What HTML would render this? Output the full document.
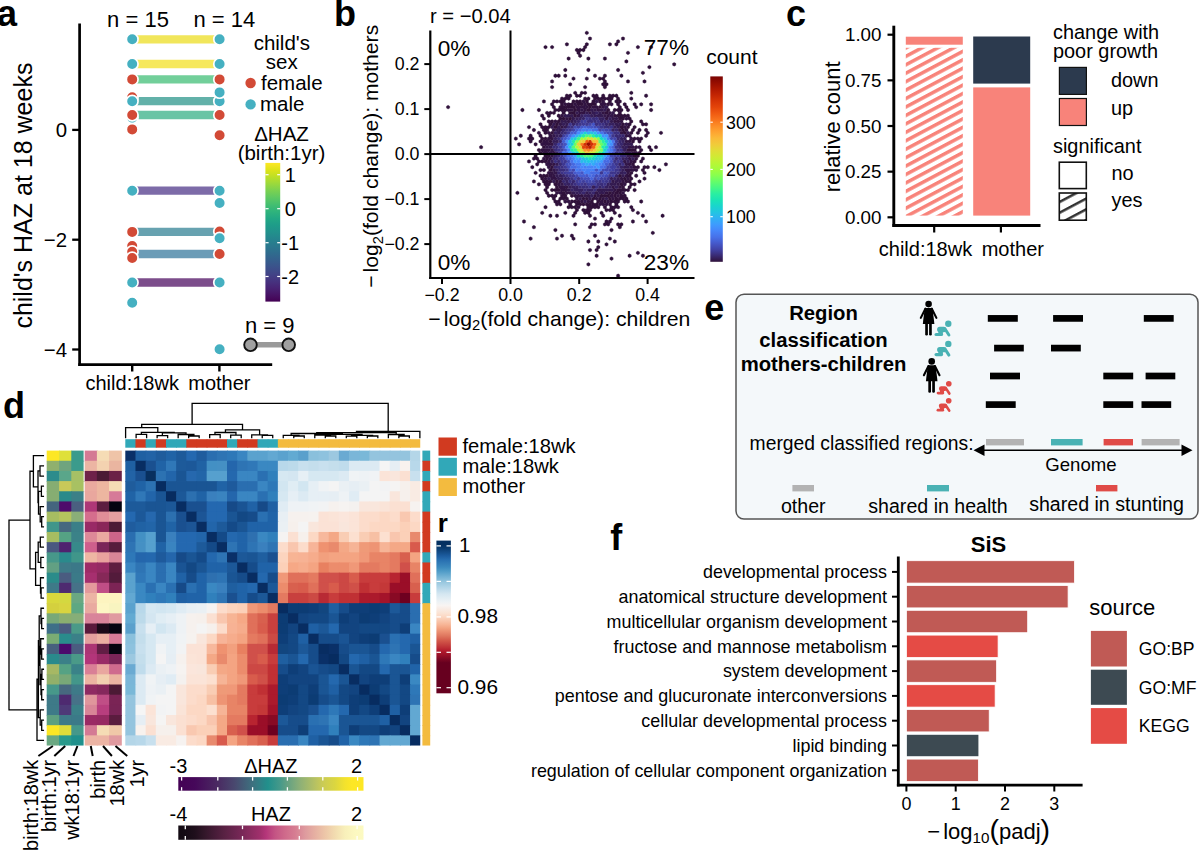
<!DOCTYPE html>
<html><head><meta charset="utf-8"><style>
html,body{margin:0;padding:0;background:#fff;overflow:hidden;}
svg{display:block;}
text{font-family:"Liberation Sans",sans-serif;}
</style></head><body>
<svg width="1200" height="853" viewBox="0 0 1200 853">
<text x="-3.0" y="26.0" font-size="36" font-weight="bold">a</text>
<text x="107.1" y="27.0" font-size="22">n = 15</text>
<text x="193.5" y="27.0" font-size="22">n = 14</text>
<line x1="79.60" y1="23.50" x2="79.60" y2="365.90" stroke="#000" stroke-width="2.7"/>
<line x1="78.30" y1="364.60" x2="272.20" y2="364.60" stroke="#000" stroke-width="2.7"/>
<line x1="72.20" y1="129.90" x2="79.60" y2="129.90" stroke="#000" stroke-width="2.3"/>
<text x="67.0" y="137.1" font-size="20.4" text-anchor="end">0</text>
<line x1="72.20" y1="239.70" x2="79.60" y2="239.70" stroke="#000" stroke-width="2.3"/>
<text x="67.0" y="246.9" font-size="20.4" text-anchor="end">−2</text>
<line x1="72.20" y1="349.50" x2="79.60" y2="349.50" stroke="#000" stroke-width="2.3"/>
<text x="67.0" y="356.7" font-size="20.4" text-anchor="end">−4</text>
<line x1="132.20" y1="364.60" x2="132.20" y2="371.50" stroke="#000" stroke-width="2.4"/>
<line x1="219.40" y1="364.60" x2="219.40" y2="371.50" stroke="#000" stroke-width="2.4"/>
<text x="132.2" y="389.7" font-size="20" text-anchor="middle">child:18wk</text>
<text x="219.4" y="389.7" font-size="20" text-anchor="middle">mother</text>
<text x="32.0" y="195.6" font-size="25" text-anchor="middle" transform="rotate(-90 32.0 195.6)">child's HAZ at 18 weeks</text>
<line x1="132.20" y1="39.30" x2="219.60" y2="39.30" stroke="#f1e65b" stroke-width="8.3"/>
<line x1="132.20" y1="64.00" x2="219.60" y2="64.00" stroke="#f6e85c" stroke-width="8.3"/>
<line x1="132.20" y1="79.40" x2="219.60" y2="79.40" stroke="#72cf9a" stroke-width="8.3"/>
<line x1="132.20" y1="101.20" x2="219.60" y2="101.20" stroke="#62b1a9" stroke-width="8.3"/>
<line x1="132.20" y1="115.00" x2="219.60" y2="115.00" stroke="#69c4a5" stroke-width="8.3"/>
<line x1="132.20" y1="190.70" x2="219.60" y2="190.70" stroke="#7d6ba8" stroke-width="8.3"/>
<line x1="132.20" y1="231.90" x2="219.60" y2="231.90" stroke="#67a2b0" stroke-width="8.3"/>
<line x1="132.20" y1="254.00" x2="219.60" y2="254.00" stroke="#6b9cb7" stroke-width="8.3"/>
<line x1="132.20" y1="282.50" x2="219.60" y2="282.50" stroke="#7c4d8b" stroke-width="8.3"/>
<circle cx="132.20" cy="97.30" r="5.85" fill="#d24a36" stroke="#fff" stroke-width="1.7"/>
<circle cx="132.20" cy="117.80" r="5.85" fill="#45b0c1" stroke="#fff" stroke-width="1.7"/>
<circle cx="132.20" cy="246.00" r="5.85" fill="#d24a36" stroke="#fff" stroke-width="1.7"/>
<circle cx="132.20" cy="251.80" r="5.85" fill="#d24a36" stroke="#fff" stroke-width="1.7"/>
<circle cx="132.20" cy="39.30" r="5.85" fill="#45b0c1" stroke="#fff" stroke-width="1.7"/>
<circle cx="132.20" cy="64.00" r="5.85" fill="#45b0c1" stroke="#fff" stroke-width="1.7"/>
<circle cx="132.20" cy="79.40" r="5.85" fill="#d24a36" stroke="#fff" stroke-width="1.7"/>
<circle cx="132.20" cy="101.20" r="5.85" fill="#45b0c1" stroke="#fff" stroke-width="1.7"/>
<circle cx="132.20" cy="115.00" r="5.85" fill="#d24a36" stroke="#fff" stroke-width="1.7"/>
<circle cx="132.20" cy="129.40" r="5.85" fill="#d24a36" stroke="#fff" stroke-width="1.7"/>
<circle cx="132.20" cy="190.70" r="5.85" fill="#45b0c1" stroke="#fff" stroke-width="1.7"/>
<circle cx="132.20" cy="231.90" r="5.85" fill="#d24a36" stroke="#fff" stroke-width="1.7"/>
<circle cx="132.20" cy="258.00" r="5.85" fill="#d24a36" stroke="#fff" stroke-width="1.7"/>
<circle cx="132.20" cy="282.50" r="5.85" fill="#45b0c1" stroke="#fff" stroke-width="1.7"/>
<circle cx="132.20" cy="302.80" r="5.85" fill="#45b0c1" stroke="#fff" stroke-width="1.7"/>
<circle cx="219.60" cy="101.20" r="5.85" fill="#45b0c1" stroke="#fff" stroke-width="1.7"/>
<circle cx="219.60" cy="231.50" r="5.85" fill="#d24a36" stroke="#fff" stroke-width="1.7"/>
<circle cx="219.60" cy="39.30" r="5.85" fill="#45b0c1" stroke="#fff" stroke-width="1.7"/>
<circle cx="219.60" cy="64.00" r="5.85" fill="#45b0c1" stroke="#fff" stroke-width="1.7"/>
<circle cx="219.60" cy="79.40" r="5.85" fill="#d24a36" stroke="#fff" stroke-width="1.7"/>
<circle cx="219.60" cy="92.40" r="5.85" fill="#45b0c1" stroke="#fff" stroke-width="1.7"/>
<circle cx="219.60" cy="115.00" r="5.85" fill="#d24a36" stroke="#fff" stroke-width="1.7"/>
<circle cx="219.60" cy="135.20" r="5.85" fill="#d24a36" stroke="#fff" stroke-width="1.7"/>
<circle cx="219.60" cy="190.70" r="5.85" fill="#45b0c1" stroke="#fff" stroke-width="1.7"/>
<circle cx="219.60" cy="203.00" r="5.85" fill="#45b0c1" stroke="#fff" stroke-width="1.7"/>
<circle cx="219.60" cy="238.20" r="5.85" fill="#45b0c1" stroke="#fff" stroke-width="1.7"/>
<circle cx="219.60" cy="254.00" r="5.85" fill="#d24a36" stroke="#fff" stroke-width="1.7"/>
<circle cx="219.60" cy="282.50" r="5.85" fill="#45b0c1" stroke="#fff" stroke-width="1.7"/>
<circle cx="219.60" cy="349.30" r="5.85" fill="#45b0c1" stroke="#fff" stroke-width="1.7"/>
<text x="281.8" y="49.5" font-size="20.5" text-anchor="middle">child's</text>
<text x="281.8" y="68.5" font-size="20.5" text-anchor="middle">sex</text>
<circle cx="250.60" cy="83.00" r="5.2" fill="#d24a36"/>
<text x="261.0" y="90.2" font-size="20.5">female</text>
<circle cx="250.60" cy="104.40" r="5.2" fill="#45b0c1"/>
<text x="260.0" y="111.3" font-size="20.5">male</text>
<text x="281.5" y="141.1" font-size="20.5" text-anchor="middle">ΔHAZ</text>
<text x="281.5" y="160.1" font-size="20.5" text-anchor="middle">(birth:1yr)</text>
<defs><linearGradient id="gvir" x1="0" y1="1" x2="0" y2="0"><stop offset="0.00" stop-color="#440154"/><stop offset="0.05" stop-color="#471365"/><stop offset="0.10" stop-color="#482475"/><stop offset="0.15" stop-color="#463480"/><stop offset="0.20" stop-color="#414487"/><stop offset="0.25" stop-color="#3b528b"/><stop offset="0.30" stop-color="#355f8d"/><stop offset="0.35" stop-color="#2f6c8e"/><stop offset="0.40" stop-color="#2a788e"/><stop offset="0.45" stop-color="#25848e"/><stop offset="0.50" stop-color="#21918c"/><stop offset="0.55" stop-color="#1e9c89"/><stop offset="0.60" stop-color="#22a884"/><stop offset="0.65" stop-color="#2fb47c"/><stop offset="0.70" stop-color="#44bf70"/><stop offset="0.75" stop-color="#5ec962"/><stop offset="0.80" stop-color="#7ad151"/><stop offset="0.85" stop-color="#9bd93c"/><stop offset="0.90" stop-color="#bddf26"/><stop offset="0.95" stop-color="#dfe318"/><stop offset="1.00" stop-color="#fde725"/></linearGradient></defs>
<rect x="265.40" y="162.90" width="14.80" height="138.70" fill="url(#gvir)"/>
<line x1="265.40" y1="174.70" x2="268.60" y2="174.70" stroke="#fff" stroke-width="1.2"/>
<line x1="277.20" y1="174.70" x2="280.20" y2="174.70" stroke="#fff" stroke-width="1.2"/>
<text x="290.2" y="181.9" font-size="20" text-anchor="middle">1</text>
<line x1="265.40" y1="208.70" x2="268.60" y2="208.70" stroke="#fff" stroke-width="1.2"/>
<line x1="277.20" y1="208.70" x2="280.20" y2="208.70" stroke="#fff" stroke-width="1.2"/>
<text x="290.2" y="215.9" font-size="20" text-anchor="middle">0</text>
<line x1="265.40" y1="242.70" x2="268.60" y2="242.70" stroke="#fff" stroke-width="1.2"/>
<line x1="277.20" y1="242.70" x2="280.20" y2="242.70" stroke="#fff" stroke-width="1.2"/>
<text x="290.2" y="249.9" font-size="20" text-anchor="middle">-1</text>
<line x1="265.40" y1="276.50" x2="268.60" y2="276.50" stroke="#fff" stroke-width="1.2"/>
<line x1="277.20" y1="276.50" x2="280.20" y2="276.50" stroke="#fff" stroke-width="1.2"/>
<text x="290.2" y="283.7" font-size="20" text-anchor="middle">-2</text>
<text x="269.8" y="332.5" font-size="22" text-anchor="middle">n = 9</text>
<line x1="250.50" y1="344.80" x2="288.70" y2="344.80" stroke="#9a9a9a" stroke-width="5.6"/>
<circle cx="250.50" cy="344.80" r="6.3" fill="#a0a0a0" stroke="#111" stroke-width="1.9"/>
<circle cx="288.70" cy="344.80" r="6.3" fill="#a0a0a0" stroke="#111" stroke-width="1.9"/>
<text x="334.0" y="25.9" font-size="36" font-weight="bold">b</text>
<text x="430.0" y="22.7" font-size="20.2">r = −0.04</text>
<path d="M590.0 168.13l1.65 0.95v1.91l-1.65 0.95l-1.65-0.95v-1.91zM588.4 170.99l1.65 0.95v1.91l-1.65 0.95l-1.65-0.95v-1.91zM586.8 168.13l1.65 0.95v1.91l-1.65 0.95l-1.65-0.95v-1.91zM608.2 136.69l1.65 0.95v1.91l-1.65 0.95l-1.65-0.95v-1.91zM590.0 128.12l1.65 0.95v1.91l-1.65 0.95l-1.65-0.95v-1.91zM571.9 153.84l1.65 0.95v1.91l-1.65 0.95l-1.65-0.95v-1.91zM593.4 168.13l1.65 0.95v1.91l-1.65 0.95l-1.65-0.95v-1.91zM585.1 170.99l1.65 0.95v1.91l-1.65 0.95l-1.65-0.95v-1.91z" fill="#4680f6" stroke="#4680f6" stroke-width="0.3"/>
<path d="M595.0 136.69l1.65 0.95v1.91l-1.65 0.95l-1.65-0.95v-1.91z" fill="#b9f635" stroke="#b9f635" stroke-width="0.3"/>
<path d="M585.1 130.98l1.65 0.95v1.91l-1.65 0.95l-1.65-0.95v-1.91zM586.8 156.70l1.65 0.95v1.91l-1.65 0.95l-1.65-0.95v-1.91z" fill="#1ccdd8" stroke="#1ccdd8" stroke-width="0.3"/>
<path d="M575.2 142.41l1.65 0.95v1.91l-1.65 0.95l-1.65-0.95v-1.91zM601.6 142.41l1.65 0.95v1.91l-1.65 0.95l-1.65-0.95v-1.91z" fill="#69fd66" stroke="#69fd66" stroke-width="0.3"/>
<path d="M583.4 150.98l1.65 0.95v1.91l-1.65 0.95l-1.65-0.95v-1.91zM581.8 136.69l1.65 0.95v1.91l-1.65 0.95l-1.65-0.95v-1.91z" fill="#9ffd3f" stroke="#9ffd3f" stroke-width="0.3"/>
<path d="M573.5 122.40l1.65 0.95v1.91l-1.65 0.95l-1.65-0.95v-1.91zM616.4 173.85l1.65 0.95v1.91l-1.65 0.95l-1.65-0.95v-1.91zM591.7 188.14l1.65 0.95v1.91l-1.65 0.95l-1.65-0.95v-1.91zM619.8 162.42l1.65 0.95v1.91l-1.65 0.95l-1.65-0.95v-1.91zM571.9 188.14l1.65 0.95v1.91l-1.65 0.95l-1.65-0.95v-1.91zM588.4 188.14l1.65 0.95v1.91l-1.65 0.95l-1.65-0.95v-1.91zM565.3 182.42l1.65 0.95v1.91l-1.65 0.95l-1.65-0.95v-1.91zM583.4 116.69l1.65 0.95v1.91l-1.65 0.95l-1.65-0.95v-1.91zM557.0 150.98l1.65 0.95v1.91l-1.65 0.95l-1.65-0.95v-1.91zM599.9 185.28l1.65 0.95v1.91l-1.65 0.95l-1.65-0.95v-1.91z" fill="#372466" stroke="#372466" stroke-width="0.3"/>
<path d="M590.0 162.42l1.65 0.95v1.91l-1.65 0.95l-1.65-0.95v-1.91zM575.2 153.84l1.65 0.95v1.91l-1.65 0.95l-1.65-0.95v-1.91zM601.6 159.56l1.65 0.95v1.91l-1.65 0.95l-1.65-0.95v-1.91zM580.1 156.70l1.65 0.95v1.91l-1.65 0.95l-1.65-0.95v-1.91zM608.2 148.13l1.65 0.95v1.91l-1.65 0.95l-1.65-0.95v-1.91z" fill="#3e9bfe" stroke="#3e9bfe" stroke-width="0.3"/>
<path d="M611.5 165.27l1.65 0.95v1.91l-1.65 0.95l-1.65-0.95v-1.91zM601.6 176.70l1.65 0.95v1.91l-1.65 0.95l-1.65-0.95v-1.91zM614.8 165.27l1.65 0.95v1.91l-1.65 0.95l-1.65-0.95v-1.91zM613.1 162.42l1.65 0.95v1.91l-1.65 0.95l-1.65-0.95v-1.91zM571.9 170.99l1.65 0.95v1.91l-1.65 0.95l-1.65-0.95v-1.91zM585.1 119.55l1.65 0.95v1.91l-1.65 0.95l-1.65-0.95v-1.91zM609.9 128.12l1.65 0.95v1.91l-1.65 0.95l-1.65-0.95v-1.91zM568.6 170.99l1.65 0.95v1.91l-1.65 0.95l-1.65-0.95v-1.91zM614.8 153.84l1.65 0.95v1.91l-1.65 0.95l-1.65-0.95v-1.91zM613.1 168.13l1.65 0.95v1.91l-1.65 0.95l-1.65-0.95v-1.91zM578.5 125.26l1.65 0.95v1.91l-1.65 0.95l-1.65-0.95v-1.91z" fill="#4040a2" stroke="#4040a2" stroke-width="0.3"/>
<path d="M581.8 142.41l1.65 0.95v1.91l-1.65 0.95l-1.65-0.95v-1.91z" fill="#fa7b1f" stroke="#fa7b1f" stroke-width="0.3"/>
<path d="M578.5 165.27l1.65 0.95v1.91l-1.65 0.95l-1.65-0.95v-1.91z" fill="#4778f0" stroke="#4778f0" stroke-width="0.3"/>
<path d="M598.3 125.26l1.65 0.95v1.91l-1.65 0.95l-1.65-0.95v-1.91zM580.1 179.56l1.65 0.95v1.91l-1.65 0.95l-1.65-0.95v-1.91zM586.8 179.56l1.65 0.95v1.91l-1.65 0.95l-1.65-0.95v-1.91zM575.2 176.70l1.65 0.95v1.91l-1.65 0.95l-1.65-0.95v-1.91zM573.5 168.13l1.65 0.95v1.91l-1.65 0.95l-1.65-0.95v-1.91zM562.0 136.69l1.65 0.95v1.91l-1.65 0.95l-1.65-0.95v-1.91zM593.4 179.56l1.65 0.95v1.91l-1.65 0.95l-1.65-0.95v-1.91zM613.1 156.70l1.65 0.95v1.91l-1.65 0.95l-1.65-0.95v-1.91zM573.5 128.12l1.65 0.95v1.91l-1.65 0.95l-1.65-0.95v-1.91zM611.5 136.69l1.65 0.95v1.91l-1.65 0.95l-1.65-0.95v-1.91zM611.5 130.98l1.65 0.95v1.91l-1.65 0.95l-1.65-0.95v-1.91zM609.9 168.13l1.65 0.95v1.91l-1.65 0.95l-1.65-0.95v-1.91zM576.9 173.85l1.65 0.95v1.91l-1.65 0.95l-1.65-0.95v-1.91z" fill="#4146ac" stroke="#4146ac" stroke-width="0.3"/>
<path d="M595.0 142.41l1.65 0.95v1.91l-1.65 0.95l-1.65-0.95v-1.91z" fill="#ed5510" stroke="#ed5510" stroke-width="0.3"/>
<path d="M591.7 148.13l1.65 0.95v1.91l-1.65 0.95l-1.65-0.95v-1.91z" fill="#fea732" stroke="#fea732" stroke-width="0.3"/>
<path d="M599.9 145.27l1.65 0.95v1.91l-1.65 0.95l-1.65-0.95v-1.91zM580.1 150.98l1.65 0.95v1.91l-1.65 0.95l-1.65-0.95v-1.91z" fill="#99fe42" stroke="#99fe42" stroke-width="0.3"/>
<path d="M566.9 133.84l1.65 0.95v1.91l-1.65 0.95l-1.65-0.95v-1.91zM588.4 176.70l1.65 0.95v1.91l-1.65 0.95l-1.65-0.95v-1.91zM568.6 165.27l1.65 0.95v1.91l-1.65 0.95l-1.65-0.95v-1.91zM585.1 176.70l1.65 0.95v1.91l-1.65 0.95l-1.65-0.95v-1.91zM566.9 162.42l1.65 0.95v1.91l-1.65 0.95l-1.65-0.95v-1.91zM596.6 173.85l1.65 0.95v1.91l-1.65 0.95l-1.65-0.95v-1.91zM603.2 128.12l1.65 0.95v1.91l-1.65 0.95l-1.65-0.95v-1.91z" fill="#434eba" stroke="#434eba" stroke-width="0.3"/>
<path d="M583.4 156.70l1.65 0.95v1.91l-1.65 0.95l-1.65-0.95v-1.91zM585.1 159.56l1.65 0.95v1.91l-1.65 0.95l-1.65-0.95v-1.91zM571.9 136.69l1.65 0.95v1.91l-1.65 0.95l-1.65-0.95v-1.91z" fill="#25c0e7" stroke="#25c0e7" stroke-width="0.3"/>
<path d="M558.7 153.84l1.65 0.95v1.91l-1.65 0.95l-1.65-0.95v-1.91zM604.9 125.26l1.65 0.95v1.91l-1.65 0.95l-1.65-0.95v-1.91zM593.4 116.69l1.65 0.95v1.91l-1.65 0.95l-1.65-0.95v-1.91zM555.4 148.13l1.65 0.95v1.91l-1.65 0.95l-1.65-0.95v-1.91zM563.6 168.13l1.65 0.95v1.91l-1.65 0.95l-1.65-0.95v-1.91zM608.2 125.26l1.65 0.95v1.91l-1.65 0.95l-1.65-0.95v-1.91zM586.8 185.28l1.65 0.95v1.91l-1.65 0.95l-1.65-0.95v-1.91zM583.4 185.28l1.65 0.95v1.91l-1.65 0.95l-1.65-0.95v-1.91zM560.4 168.13l1.65 0.95v1.91l-1.65 0.95l-1.65-0.95v-1.91zM568.6 125.26l1.65 0.95v1.91l-1.65 0.95l-1.65-0.95v-1.91zM603.2 185.28l1.65 0.95v1.91l-1.65 0.95l-1.65-0.95v-1.91zM619.8 168.13l1.65 0.95v1.91l-1.65 0.95l-1.65-0.95v-1.91zM558.7 165.27l1.65 0.95v1.91l-1.65 0.95l-1.65-0.95v-1.91zM565.3 130.98l1.65 0.95v1.91l-1.65 0.95l-1.65-0.95v-1.91zM618.1 142.41l1.65 0.95v1.91l-1.65 0.95l-1.65-0.95v-1.91zM608.2 119.55l1.65 0.95v1.91l-1.65 0.95l-1.65-0.95v-1.91zM601.6 182.42l1.65 0.95v1.91l-1.65 0.95l-1.65-0.95v-1.91zM558.7 136.69l1.65 0.95v1.91l-1.65 0.95l-1.65-0.95v-1.91zM624.7 153.84l1.65 0.95v1.91l-1.65 0.95l-1.65-0.95v-1.91zM566.9 173.85l1.65 0.95v1.91l-1.65 0.95l-1.65-0.95v-1.91zM609.9 179.56l1.65 0.95v1.91l-1.65 0.95l-1.65-0.95v-1.91zM621.4 153.84l1.65 0.95v1.91l-1.65 0.95l-1.65-0.95v-1.91zM576.9 122.40l1.65 0.95v1.91l-1.65 0.95l-1.65-0.95v-1.91zM619.8 145.27l1.65 0.95v1.91l-1.65 0.95l-1.65-0.95v-1.91zM595.0 119.55l1.65 0.95v1.91l-1.65 0.95l-1.65-0.95v-1.91zM595.0 188.14l1.65 0.95v1.91l-1.65 0.95l-1.65-0.95v-1.91zM557.0 145.27l1.65 0.95v1.91l-1.65 0.95l-1.65-0.95v-1.91z" fill="#3a2d79" stroke="#3a2d79" stroke-width="0.3"/>
<path d="M568.6 159.56l1.65 0.95v1.91l-1.65 0.95l-1.65-0.95v-1.91zM595.0 125.26l1.65 0.95v1.91l-1.65 0.95l-1.65-0.95v-1.91zM614.8 142.41l1.65 0.95v1.91l-1.65 0.95l-1.65-0.95v-1.91zM603.2 168.13l1.65 0.95v1.91l-1.65 0.95l-1.65-0.95v-1.91zM609.9 162.42l1.65 0.95v1.91l-1.65 0.95l-1.65-0.95v-1.91zM606.5 173.85l1.65 0.95v1.91l-1.65 0.95l-1.65-0.95v-1.91z" fill="#424bb5" stroke="#424bb5" stroke-width="0.3"/>
<path d="M560.4 145.27l1.65 0.95v1.91l-1.65 0.95l-1.65-0.95v-1.91zM578.5 182.42l1.65 0.95v1.91l-1.65 0.95l-1.65-0.95v-1.91zM603.2 179.56l1.65 0.95v1.91l-1.65 0.95l-1.65-0.95v-1.91zM562.0 153.84l1.65 0.95v1.91l-1.65 0.95l-1.65-0.95v-1.91zM581.8 119.55l1.65 0.95v1.91l-1.65 0.95l-1.65-0.95v-1.91zM560.4 150.98l1.65 0.95v1.91l-1.65 0.95l-1.65-0.95v-1.91zM573.5 173.85l1.65 0.95v1.91l-1.65 0.95l-1.65-0.95v-1.91zM618.1 159.56l1.65 0.95v1.91l-1.65 0.95l-1.65-0.95v-1.91zM565.3 170.99l1.65 0.95v1.91l-1.65 0.95l-1.65-0.95v-1.91zM576.9 179.56l1.65 0.95v1.91l-1.65 0.95l-1.65-0.95v-1.91zM616.4 139.55l1.65 0.95v1.91l-1.65 0.95l-1.65-0.95v-1.91zM560.4 156.70l1.65 0.95v1.91l-1.65 0.95l-1.65-0.95v-1.91zM562.0 159.56l1.65 0.95v1.91l-1.65 0.95l-1.65-0.95v-1.91zM565.3 165.27l1.65 0.95v1.91l-1.65 0.95l-1.65-0.95v-1.91zM583.4 122.40l1.65 0.95v1.91l-1.65 0.95l-1.65-0.95v-1.91z" fill="#3f3b97" stroke="#3f3b97" stroke-width="0.3"/>
<path d="M585.1 153.84l1.65 0.95v1.91l-1.65 0.95l-1.65-0.95v-1.91zM586.8 133.84l1.65 0.95v1.91l-1.65 0.95l-1.65-0.95v-1.91z" fill="#4af880" stroke="#4af880" stroke-width="0.3"/>
<path d="M568.6 142.41l1.65 0.95v1.91l-1.65 0.95l-1.65-0.95v-1.91zM598.3 159.56l1.65 0.95v1.91l-1.65 0.95l-1.65-0.95v-1.91zM576.9 156.70l1.65 0.95v1.91l-1.65 0.95l-1.65-0.95v-1.91z" fill="#37a8fa" stroke="#37a8fa" stroke-width="0.3"/>
<path d="M593.4 162.42l1.65 0.95v1.91l-1.65 0.95l-1.65-0.95v-1.91zM603.2 156.70l1.65 0.95v1.91l-1.65 0.95l-1.65-0.95v-1.91zM581.8 130.98l1.65 0.95v1.91l-1.65 0.95l-1.65-0.95v-1.91zM595.0 159.56l1.65 0.95v1.91l-1.65 0.95l-1.65-0.95v-1.91zM576.9 133.84l1.65 0.95v1.91l-1.65 0.95l-1.65-0.95v-1.91z" fill="#33adf7" stroke="#33adf7" stroke-width="0.3"/>
<path d="M593.4 139.55l1.65 0.95v1.91l-1.65 0.95l-1.65-0.95v-1.91z" fill="#fbb838" stroke="#fbb838" stroke-width="0.3"/>
<path d="M585.1 142.41l1.65 0.95v1.91l-1.65 0.95l-1.65-0.95v-1.91zM591.7 142.41l1.65 0.95v1.91l-1.65 0.95l-1.65-0.95v-1.91zM590.0 139.55l1.65 0.95v1.91l-1.65 0.95l-1.65-0.95v-1.91z" fill="#d23105" stroke="#d23105" stroke-width="0.3"/>
<path d="M548.8 170.99l1.65 0.95v1.91l-1.65 0.95l-1.65-0.95v-1.91zM581.8 199.57l1.65 0.95v1.91l-1.65 0.95l-1.65-0.95v-1.91zM626.4 168.13l1.65 0.95v1.91l-1.65 0.95l-1.65-0.95v-1.91zM590.0 110.97l1.65 0.95v1.91l-1.65 0.95l-1.65-0.95v-1.91zM548.8 136.69l1.65 0.95v1.91l-1.65 0.95l-1.65-0.95v-1.91zM576.9 105.26l1.65 0.95v1.91l-1.65 0.95l-1.65-0.95v-1.91zM629.6 162.42l1.65 0.95v1.91l-1.65 0.95l-1.65-0.95v-1.91zM583.4 105.26l1.65 0.95v1.91l-1.65 0.95l-1.65-0.95v-1.91zM548.8 165.27l1.65 0.95v1.91l-1.65 0.95l-1.65-0.95v-1.91zM552.1 176.70l1.65 0.95v1.91l-1.65 0.95l-1.65-0.95v-1.91zM543.9 156.70l1.65 0.95v1.91l-1.65 0.95l-1.65-0.95v-1.91zM609.9 110.97l1.65 0.95v1.91l-1.65 0.95l-1.65-0.95v-1.91zM626.4 173.85l1.65 0.95v1.91l-1.65 0.95l-1.65-0.95v-1.91zM562.0 113.83l1.65 0.95v1.91l-1.65 0.95l-1.65-0.95v-1.91zM568.6 108.12l1.65 0.95v1.91l-1.65 0.95l-1.65-0.95v-1.91zM629.6 133.84l1.65 0.95v1.91l-1.65 0.95l-1.65-0.95v-1.91zM626.4 139.55l1.65 0.95v1.91l-1.65 0.95l-1.65-0.95v-1.91zM606.5 190.99l1.65 0.95v1.91l-1.65 0.95l-1.65-0.95v-1.91zM553.8 173.85l1.65 0.95v1.91l-1.65 0.95l-1.65-0.95v-1.91zM583.4 110.97l1.65 0.95v1.91l-1.65 0.95l-1.65-0.95v-1.91zM578.5 205.28l1.65 0.95v1.91l-1.65 0.95l-1.65-0.95v-1.91zM636.2 168.13l1.65 0.95v1.91l-1.65 0.95l-1.65-0.95v-1.91zM614.8 188.14l1.65 0.95v1.91l-1.65 0.95l-1.65-0.95v-1.91zM636.2 150.98l1.65 0.95v1.91l-1.65 0.95l-1.65-0.95v-1.91zM611.5 102.40l1.65 0.95v1.91l-1.65 0.95l-1.65-0.95v-1.91zM603.2 105.26l1.65 0.95v1.91l-1.65 0.95l-1.65-0.95v-1.91zM632.9 168.13l1.65 0.95v1.91l-1.65 0.95l-1.65-0.95v-1.91zM623.0 190.99l1.65 0.95v1.91l-1.65 0.95l-1.65-0.95v-1.91zM586.8 105.26l1.65 0.95v1.91l-1.65 0.95l-1.65-0.95v-1.91zM626.4 133.84l1.65 0.95v1.91l-1.65 0.95l-1.65-0.95v-1.91zM576.9 196.71l1.65 0.95v1.91l-1.65 0.95l-1.65-0.95v-1.91zM588.4 199.57l1.65 0.95v1.91l-1.65 0.95l-1.65-0.95v-1.91zM632.9 150.98l1.65 0.95v1.91l-1.65 0.95l-1.65-0.95v-1.91zM550.4 173.85l1.65 0.95v1.91l-1.65 0.95l-1.65-0.95v-1.91zM565.3 199.57l1.65 0.95v1.91l-1.65 0.95l-1.65-0.95v-1.91zM543.9 139.55l1.65 0.95v1.91l-1.65 0.95l-1.65-0.95v-1.91zM585.1 102.40l1.65 0.95v1.91l-1.65 0.95l-1.65-0.95v-1.91zM581.8 193.85l1.65 0.95v1.91l-1.65 0.95l-1.65-0.95v-1.91zM606.5 202.43l1.65 0.95v1.91l-1.65 0.95l-1.65-0.95v-1.91zM613.1 185.28l1.65 0.95v1.91l-1.65 0.95l-1.65-0.95v-1.91zM628.0 170.99l1.65 0.95v1.91l-1.65 0.95l-1.65-0.95v-1.91zM548.8 148.13l1.65 0.95v1.91l-1.65 0.95l-1.65-0.95v-1.91zM614.8 119.55l1.65 0.95v1.91l-1.65 0.95l-1.65-0.95v-1.91zM555.4 119.55l1.65 0.95v1.91l-1.65 0.95l-1.65-0.95v-1.91zM626.4 116.69l1.65 0.95v1.91l-1.65 0.95l-1.65-0.95v-1.91zM542.2 148.13l1.65 0.95v1.91l-1.65 0.95l-1.65-0.95v-1.91zM603.2 202.43l1.65 0.95v1.91l-1.65 0.95l-1.65-0.95v-1.91zM562.0 188.14l1.65 0.95v1.91l-1.65 0.95l-1.65-0.95v-1.91zM621.4 176.70l1.65 0.95v1.91l-1.65 0.95l-1.65-0.95v-1.91zM621.4 130.98l1.65 0.95v1.91l-1.65 0.95l-1.65-0.95v-1.91zM558.7 182.42l1.65 0.95v1.91l-1.65 0.95l-1.65-0.95v-1.91zM578.5 193.85l1.65 0.95v1.91l-1.65 0.95l-1.65-0.95v-1.91zM575.2 102.40l1.65 0.95v1.91l-1.65 0.95l-1.65-0.95v-1.91zM568.6 199.57l1.65 0.95v1.91l-1.65 0.95l-1.65-0.95v-1.91zM543.9 150.98l1.65 0.95v1.91l-1.65 0.95l-1.65-0.95v-1.91zM631.3 136.69l1.65 0.95v1.91l-1.65 0.95l-1.65-0.95v-1.91zM565.3 188.14l1.65 0.95v1.91l-1.65 0.95l-1.65-0.95v-1.91zM629.6 156.70l1.65 0.95v1.91l-1.65 0.95l-1.65-0.95v-1.91zM628.0 176.70l1.65 0.95v1.91l-1.65 0.95l-1.65-0.95v-1.91zM580.1 110.97l1.65 0.95v1.91l-1.65 0.95l-1.65-0.95v-1.91zM596.6 196.71l1.65 0.95v1.91l-1.65 0.95l-1.65-0.95v-1.91zM547.1 139.55l1.65 0.95v1.91l-1.65 0.95l-1.65-0.95v-1.91zM604.9 102.40l1.65 0.95v1.91l-1.65 0.95l-1.65-0.95v-1.91zM626.4 128.12l1.65 0.95v1.91l-1.65 0.95l-1.65-0.95v-1.91zM624.7 125.26l1.65 0.95v1.91l-1.65 0.95l-1.65-0.95v-1.91zM552.1 170.99l1.65 0.95v1.91l-1.65 0.95l-1.65-0.95v-1.91zM585.1 108.12l1.65 0.95v1.91l-1.65 0.95l-1.65-0.95v-1.91zM608.2 199.57l1.65 0.95v1.91l-1.65 0.95l-1.65-0.95v-1.91zM552.1 136.69l1.65 0.95v1.91l-1.65 0.95l-1.65-0.95v-1.91zM548.8 159.56l1.65 0.95v1.91l-1.65 0.95l-1.65-0.95v-1.91zM563.6 185.28l1.65 0.95v1.91l-1.65 0.95l-1.65-0.95v-1.91zM560.4 190.99l1.65 0.95v1.91l-1.65 0.95l-1.65-0.95v-1.91zM552.1 142.41l1.65 0.95v1.91l-1.65 0.95l-1.65-0.95v-1.91zM550.4 156.70l1.65 0.95v1.91l-1.65 0.95l-1.65-0.95v-1.91zM611.5 193.85l1.65 0.95v1.91l-1.65 0.95l-1.65-0.95v-1.91zM596.6 105.26l1.65 0.95v1.91l-1.65 0.95l-1.65-0.95v-1.91zM566.9 185.28l1.65 0.95v1.91l-1.65 0.95l-1.65-0.95v-1.91zM538.9 130.98l1.65 0.95v1.91l-1.65 0.95l-1.65-0.95v-1.91zM618.1 193.85l1.65 0.95v1.91l-1.65 0.95l-1.65-0.95v-1.91zM560.4 179.56l1.65 0.95v1.91l-1.65 0.95l-1.65-0.95v-1.91zM566.9 116.69l1.65 0.95v1.91l-1.65 0.95l-1.65-0.95v-1.91zM575.2 193.85l1.65 0.95v1.91l-1.65 0.95l-1.65-0.95v-1.91zM639.5 145.27l1.65 0.95v1.91l-1.65 0.95l-1.65-0.95v-1.91zM621.4 119.55l1.65 0.95v1.91l-1.65 0.95l-1.65-0.95v-1.91zM565.3 102.40l1.65 0.95v1.91l-1.65 0.95l-1.65-0.95v-1.91zM553.8 128.12l1.65 0.95v1.91l-1.65 0.95l-1.65-0.95v-1.91zM545.5 176.70l1.65 0.95v1.91l-1.65 0.95l-1.65-0.95v-1.91zM557.0 190.99l1.65 0.95v1.91l-1.65 0.95l-1.65-0.95v-1.91zM636.2 156.70l1.65 0.95v1.91l-1.65 0.95l-1.65-0.95v-1.91zM548.8 142.41l1.65 0.95v1.91l-1.65 0.95l-1.65-0.95v-1.91zM550.4 162.42l1.65 0.95v1.91l-1.65 0.95l-1.65-0.95v-1.91zM613.1 190.99l1.65 0.95v1.91l-1.65 0.95l-1.65-0.95v-1.91zM618.1 119.55l1.65 0.95v1.91l-1.65 0.95l-1.65-0.95v-1.91zM580.1 105.26l1.65 0.95v1.91l-1.65 0.95l-1.65-0.95v-1.91zM571.9 108.12l1.65 0.95v1.91l-1.65 0.95l-1.65-0.95v-1.91zM583.4 99.54l1.65 0.95v1.91l-1.65 0.95l-1.65-0.95v-1.91zM578.5 113.83l1.65 0.95v1.91l-1.65 0.95l-1.65-0.95v-1.91zM548.8 130.98l1.65 0.95v1.91l-1.65 0.95l-1.65-0.95v-1.91zM555.4 176.70l1.65 0.95v1.91l-1.65 0.95l-1.65-0.95v-1.91zM606.5 116.69l1.65 0.95v1.91l-1.65 0.95l-1.65-0.95v-1.91zM613.1 196.71l1.65 0.95v1.91l-1.65 0.95l-1.65-0.95v-1.91zM629.6 145.27l1.65 0.95v1.91l-1.65 0.95l-1.65-0.95v-1.91zM603.2 110.97l1.65 0.95v1.91l-1.65 0.95l-1.65-0.95v-1.91zM608.2 113.83l1.65 0.95v1.91l-1.65 0.95l-1.65-0.95v-1.91zM560.4 185.28l1.65 0.95v1.91l-1.65 0.95l-1.65-0.95v-1.91zM601.6 102.40l1.65 0.95v1.91l-1.65 0.95l-1.65-0.95v-1.91zM598.3 108.12l1.65 0.95v1.91l-1.65 0.95l-1.65-0.95v-1.91zM542.2 142.41l1.65 0.95v1.91l-1.65 0.95l-1.65-0.95v-1.91zM550.4 133.84l1.65 0.95v1.91l-1.65 0.95l-1.65-0.95v-1.91zM629.6 139.55l1.65 0.95v1.91l-1.65 0.95l-1.65-0.95v-1.91zM619.8 185.28l1.65 0.95v1.91l-1.65 0.95l-1.65-0.95v-1.91zM603.2 196.71l1.65 0.95v1.91l-1.65 0.95l-1.65-0.95v-1.91zM545.5 148.13l1.65 0.95v1.91l-1.65 0.95l-1.65-0.95v-1.91zM623.0 179.56l1.65 0.95v1.91l-1.65 0.95l-1.65-0.95v-1.91zM553.8 162.42l1.65 0.95v1.91l-1.65 0.95l-1.65-0.95v-1.91zM631.3 159.56l1.65 0.95v1.91l-1.65 0.95l-1.65-0.95v-1.91zM545.5 142.41l1.65 0.95v1.91l-1.65 0.95l-1.65-0.95v-1.91zM547.1 150.98l1.65 0.95v1.91l-1.65 0.95l-1.65-0.95v-1.91zM562.0 125.26l1.65 0.95v1.91l-1.65 0.95l-1.65-0.95v-1.91zM578.5 108.12l1.65 0.95v1.91l-1.65 0.95l-1.65-0.95v-1.91zM599.9 202.43l1.65 0.95v1.91l-1.65 0.95l-1.65-0.95v-1.91zM566.9 190.99l1.65 0.95v1.91l-1.65 0.95l-1.65-0.95v-1.91zM624.7 182.42l1.65 0.95v1.91l-1.65 0.95l-1.65-0.95v-1.91zM601.6 199.57l1.65 0.95v1.91l-1.65 0.95l-1.65-0.95v-1.91zM570.2 190.99l1.65 0.95v1.91l-1.65 0.95l-1.65-0.95v-1.91zM629.6 168.13l1.65 0.95v1.91l-1.65 0.95l-1.65-0.95v-1.91zM547.1 162.42l1.65 0.95v1.91l-1.65 0.95l-1.65-0.95v-1.91zM593.4 105.26l1.65 0.95v1.91l-1.65 0.95l-1.65-0.95v-1.91zM632.9 145.27l1.65 0.95v1.91l-1.65 0.95l-1.65-0.95v-1.91zM603.2 99.54l1.65 0.95v1.91l-1.65 0.95l-1.65-0.95v-1.91z" fill="#321543" stroke="#321543" stroke-width="0.3"/>
<path d="M580.1 139.55l1.65 0.95v1.91l-1.65 0.95l-1.65-0.95v-1.91z" fill="#e5d938" stroke="#e5d938" stroke-width="0.3"/>
<path d="M590.0 150.98l1.65 0.95v1.91l-1.65 0.95l-1.65-0.95v-1.91zM588.4 136.69l1.65 0.95v1.91l-1.65 0.95l-1.65-0.95v-1.91zM581.8 148.13l1.65 0.95v1.91l-1.65 0.95l-1.65-0.95v-1.91z" fill="#d9e436" stroke="#d9e436" stroke-width="0.3"/>
<path d="M563.6 145.27l1.65 0.95v1.91l-1.65 0.95l-1.65-0.95v-1.91zM596.6 168.13l1.65 0.95v1.91l-1.65 0.95l-1.65-0.95v-1.91zM565.3 153.84l1.65 0.95v1.91l-1.65 0.95l-1.65-0.95v-1.91zM570.2 168.13l1.65 0.95v1.91l-1.65 0.95l-1.65-0.95v-1.91zM599.9 173.85l1.65 0.95v1.91l-1.65 0.95l-1.65-0.95v-1.91zM591.7 125.26l1.65 0.95v1.91l-1.65 0.95l-1.65-0.95v-1.91zM609.9 133.84l1.65 0.95v1.91l-1.65 0.95l-1.65-0.95v-1.91zM570.2 162.42l1.65 0.95v1.91l-1.65 0.95l-1.65-0.95v-1.91zM608.2 170.99l1.65 0.95v1.91l-1.65 0.95l-1.65-0.95v-1.91zM611.5 159.56l1.65 0.95v1.91l-1.65 0.95l-1.65-0.95v-1.91zM565.3 142.41l1.65 0.95v1.91l-1.65 0.95l-1.65-0.95v-1.91z" fill="#4454c3" stroke="#4454c3" stroke-width="0.3"/>
<path d="M583.4 168.13l1.65 0.95v1.91l-1.65 0.95l-1.65-0.95v-1.91z" fill="#4682f8" stroke="#4682f8" stroke-width="0.3"/>
<path d="M575.2 170.99l1.65 0.95v1.91l-1.65 0.95l-1.65-0.95v-1.91zM565.3 148.13l1.65 0.95v1.91l-1.65 0.95l-1.65-0.95v-1.91zM588.4 125.26l1.65 0.95v1.91l-1.65 0.95l-1.65-0.95v-1.91zM613.1 150.98l1.65 0.95v1.91l-1.65 0.95l-1.65-0.95v-1.91z" fill="#4559cb" stroke="#4559cb" stroke-width="0.3"/>
<path d="M576.9 128.12l1.65 0.95v1.91l-1.65 0.95l-1.65-0.95v-1.91zM609.9 156.70l1.65 0.95v1.91l-1.65 0.95l-1.65-0.95v-1.91zM585.1 125.26l1.65 0.95v1.91l-1.65 0.95l-1.65-0.95v-1.91zM566.9 156.70l1.65 0.95v1.91l-1.65 0.95l-1.65-0.95v-1.91zM583.4 173.85l1.65 0.95v1.91l-1.65 0.95l-1.65-0.95v-1.91zM580.1 173.85l1.65 0.95v1.91l-1.65 0.95l-1.65-0.95v-1.91zM606.5 162.42l1.65 0.95v1.91l-1.65 0.95l-1.65-0.95v-1.91zM575.2 130.98l1.65 0.95v1.91l-1.65 0.95l-1.65-0.95v-1.91z" fill="#455ed3" stroke="#455ed3" stroke-width="0.3"/>
<path d="M588.4 153.84l1.65 0.95v1.91l-1.65 0.95l-1.65-0.95v-1.91z" fill="#4ef97d" stroke="#4ef97d" stroke-width="0.3"/>
<path d="M604.9 176.70l1.65 0.95v1.91l-1.65 0.95l-1.65-0.95v-1.91zM558.7 142.41l1.65 0.95v1.91l-1.65 0.95l-1.65-0.95v-1.91zM591.7 182.42l1.65 0.95v1.91l-1.65 0.95l-1.65-0.95v-1.91zM562.0 148.13l1.65 0.95v1.91l-1.65 0.95l-1.65-0.95v-1.91zM618.1 153.84l1.65 0.95v1.91l-1.65 0.95l-1.65-0.95v-1.91zM563.6 156.70l1.65 0.95v1.91l-1.65 0.95l-1.65-0.95v-1.91zM595.0 182.42l1.65 0.95v1.91l-1.65 0.95l-1.65-0.95v-1.91zM588.4 182.42l1.65 0.95v1.91l-1.65 0.95l-1.65-0.95v-1.91zM563.6 133.84l1.65 0.95v1.91l-1.65 0.95l-1.65-0.95v-1.91zM583.4 179.56l1.65 0.95v1.91l-1.65 0.95l-1.65-0.95v-1.91zM613.1 173.85l1.65 0.95v1.91l-1.65 0.95l-1.65-0.95v-1.91zM568.6 130.98l1.65 0.95v1.91l-1.65 0.95l-1.65-0.95v-1.91z" fill="#3f3e9c" stroke="#3f3e9c" stroke-width="0.3"/>
<path d="M568.6 113.83l1.65 0.95v1.91l-1.65 0.95l-1.65-0.95v-1.91zM585.1 199.57l1.65 0.95v1.91l-1.65 0.95l-1.65-0.95v-1.91zM614.8 182.42l1.65 0.95v1.91l-1.65 0.95l-1.65-0.95v-1.91zM598.3 188.14l1.65 0.95v1.91l-1.65 0.95l-1.65-0.95v-1.91zM573.5 190.99l1.65 0.95v1.91l-1.65 0.95l-1.65-0.95v-1.91zM558.7 176.70l1.65 0.95v1.91l-1.65 0.95l-1.65-0.95v-1.91zM565.3 119.55l1.65 0.95v1.91l-1.65 0.95l-1.65-0.95v-1.91zM618.1 176.70l1.65 0.95v1.91l-1.65 0.95l-1.65-0.95v-1.91zM606.5 105.26l1.65 0.95v1.91l-1.65 0.95l-1.65-0.95v-1.91zM631.3 142.41l1.65 0.95v1.91l-1.65 0.95l-1.65-0.95v-1.91zM557.0 162.42l1.65 0.95v1.91l-1.65 0.95l-1.65-0.95v-1.91zM566.9 122.40l1.65 0.95v1.91l-1.65 0.95l-1.65-0.95v-1.91zM565.3 113.83l1.65 0.95v1.91l-1.65 0.95l-1.65-0.95v-1.91zM628.0 153.84l1.65 0.95v1.91l-1.65 0.95l-1.65-0.95v-1.91zM604.9 188.14l1.65 0.95v1.91l-1.65 0.95l-1.65-0.95v-1.91zM553.8 122.40l1.65 0.95v1.91l-1.65 0.95l-1.65-0.95v-1.91zM618.1 125.26l1.65 0.95v1.91l-1.65 0.95l-1.65-0.95v-1.91zM553.8 179.56l1.65 0.95v1.91l-1.65 0.95l-1.65-0.95v-1.91zM628.0 130.98l1.65 0.95v1.91l-1.65 0.95l-1.65-0.95v-1.91zM591.7 108.12l1.65 0.95v1.91l-1.65 0.95l-1.65-0.95v-1.91zM608.2 188.14l1.65 0.95v1.91l-1.65 0.95l-1.65-0.95v-1.91zM604.9 108.12l1.65 0.95v1.91l-1.65 0.95l-1.65-0.95v-1.91zM560.4 128.12l1.65 0.95v1.91l-1.65 0.95l-1.65-0.95v-1.91zM599.9 190.99l1.65 0.95v1.91l-1.65 0.95l-1.65-0.95v-1.91zM557.0 128.12l1.65 0.95v1.91l-1.65 0.95l-1.65-0.95v-1.91zM552.1 125.26l1.65 0.95v1.91l-1.65 0.95l-1.65-0.95v-1.91zM562.0 176.70l1.65 0.95v1.91l-1.65 0.95l-1.65-0.95v-1.91zM593.4 110.97l1.65 0.95v1.91l-1.65 0.95l-1.65-0.95v-1.91zM603.2 190.99l1.65 0.95v1.91l-1.65 0.95l-1.65-0.95v-1.91zM573.5 116.69l1.65 0.95v1.91l-1.65 0.95l-1.65-0.95v-1.91zM558.7 130.98l1.65 0.95v1.91l-1.65 0.95l-1.65-0.95v-1.91zM611.5 182.42l1.65 0.95v1.91l-1.65 0.95l-1.65-0.95v-1.91zM631.3 153.84l1.65 0.95v1.91l-1.65 0.95l-1.65-0.95v-1.91zM565.3 125.26l1.65 0.95v1.91l-1.65 0.95l-1.65-0.95v-1.91zM571.9 113.83l1.65 0.95v1.91l-1.65 0.95l-1.65-0.95v-1.91zM562.0 119.55l1.65 0.95v1.91l-1.65 0.95l-1.65-0.95v-1.91zM629.6 150.98l1.65 0.95v1.91l-1.65 0.95l-1.65-0.95v-1.91zM623.0 173.85l1.65 0.95v1.91l-1.65 0.95l-1.65-0.95v-1.91zM598.3 113.83l1.65 0.95v1.91l-1.65 0.95l-1.65-0.95v-1.91zM624.7 165.27l1.65 0.95v1.91l-1.65 0.95l-1.65-0.95v-1.91zM557.0 173.85l1.65 0.95v1.91l-1.65 0.95l-1.65-0.95v-1.91zM619.8 179.56l1.65 0.95v1.91l-1.65 0.95l-1.65-0.95v-1.91zM616.4 122.40l1.65 0.95v1.91l-1.65 0.95l-1.65-0.95v-1.91zM628.0 165.27l1.65 0.95v1.91l-1.65 0.95l-1.65-0.95v-1.91zM628.0 142.41l1.65 0.95v1.91l-1.65 0.95l-1.65-0.95v-1.91zM611.5 188.14l1.65 0.95v1.91l-1.65 0.95l-1.65-0.95v-1.91zM586.8 110.97l1.65 0.95v1.91l-1.65 0.95l-1.65-0.95v-1.91zM576.9 110.97l1.65 0.95v1.91l-1.65 0.95l-1.65-0.95v-1.91zM599.9 110.97l1.65 0.95v1.91l-1.65 0.95l-1.65-0.95v-1.91zM624.7 142.41l1.65 0.95v1.91l-1.65 0.95l-1.65-0.95v-1.91zM548.8 176.70l1.65 0.95v1.91l-1.65 0.95l-1.65-0.95v-1.91zM601.6 188.14l1.65 0.95v1.91l-1.65 0.95l-1.65-0.95v-1.91zM595.0 113.83l1.65 0.95v1.91l-1.65 0.95l-1.65-0.95v-1.91zM550.4 145.27l1.65 0.95v1.91l-1.65 0.95l-1.65-0.95v-1.91zM586.8 190.99l1.65 0.95v1.91l-1.65 0.95l-1.65-0.95v-1.91zM601.6 113.83l1.65 0.95v1.91l-1.65 0.95l-1.65-0.95v-1.91zM606.5 196.71l1.65 0.95v1.91l-1.65 0.95l-1.65-0.95v-1.91zM616.4 179.56l1.65 0.95v1.91l-1.65 0.95l-1.65-0.95v-1.91zM611.5 119.55l1.65 0.95v1.91l-1.65 0.95l-1.65-0.95v-1.91zM558.7 125.26l1.65 0.95v1.91l-1.65 0.95l-1.65-0.95v-1.91zM619.8 122.40l1.65 0.95v1.91l-1.65 0.95l-1.65-0.95v-1.91zM571.9 119.55l1.65 0.95v1.91l-1.65 0.95l-1.65-0.95v-1.91z" fill="#341b51" stroke="#341b51" stroke-width="0.3"/>
<path d="M591.7 165.27l1.65 0.95v1.91l-1.65 0.95l-1.65-0.95v-1.91zM566.9 145.27l1.65 0.95v1.91l-1.65 0.95l-1.65-0.95v-1.91zM573.5 156.70l1.65 0.95v1.91l-1.65 0.95l-1.65-0.95v-1.91zM588.4 165.27l1.65 0.95v1.91l-1.65 0.95l-1.65-0.95v-1.91z" fill="#4685fa" stroke="#4685fa" stroke-width="0.3"/>
<path d="M609.9 145.27l1.65 0.95v1.91l-1.65 0.95l-1.65-0.95v-1.91zM576.9 168.13l1.65 0.95v1.91l-1.65 0.95l-1.65-0.95v-1.91zM580.1 162.42l1.65 0.95v1.91l-1.65 0.95l-1.65-0.95v-1.91zM576.9 162.42l1.65 0.95v1.91l-1.65 0.95l-1.65-0.95v-1.91zM603.2 162.42l1.65 0.95v1.91l-1.65 0.95l-1.65-0.95v-1.91zM611.5 148.13l1.65 0.95v1.91l-1.65 0.95l-1.65-0.95v-1.91z" fill="#477bf2" stroke="#477bf2" stroke-width="0.3"/>
<path d="M565.3 176.70l1.65 0.95v1.91l-1.65 0.95l-1.65-0.95v-1.91zM576.9 185.28l1.65 0.95v1.91l-1.65 0.95l-1.65-0.95v-1.91zM621.4 136.69l1.65 0.95v1.91l-1.65 0.95l-1.65-0.95v-1.91zM609.9 122.40l1.65 0.95v1.91l-1.65 0.95l-1.65-0.95v-1.91zM613.1 128.12l1.65 0.95v1.91l-1.65 0.95l-1.65-0.95v-1.91zM623.0 156.70l1.65 0.95v1.91l-1.65 0.95l-1.65-0.95v-1.91zM606.5 185.28l1.65 0.95v1.91l-1.65 0.95l-1.65-0.95v-1.91zM560.4 133.84l1.65 0.95v1.91l-1.65 0.95l-1.65-0.95v-1.91zM580.1 116.69l1.65 0.95v1.91l-1.65 0.95l-1.65-0.95v-1.91zM601.6 119.55l1.65 0.95v1.91l-1.65 0.95l-1.65-0.95v-1.91zM613.1 122.40l1.65 0.95v1.91l-1.65 0.95l-1.65-0.95v-1.91zM555.4 130.98l1.65 0.95v1.91l-1.65 0.95l-1.65-0.95v-1.91zM608.2 182.42l1.65 0.95v1.91l-1.65 0.95l-1.65-0.95v-1.91zM578.5 188.14l1.65 0.95v1.91l-1.65 0.95l-1.65-0.95v-1.91zM603.2 116.69l1.65 0.95v1.91l-1.65 0.95l-1.65-0.95v-1.91zM566.9 179.56l1.65 0.95v1.91l-1.65 0.95l-1.65-0.95v-1.91zM614.8 176.70l1.65 0.95v1.91l-1.65 0.95l-1.65-0.95v-1.91zM568.6 182.42l1.65 0.95v1.91l-1.65 0.95l-1.65-0.95v-1.91zM621.4 165.27l1.65 0.95v1.91l-1.65 0.95l-1.65-0.95v-1.91zM575.2 188.14l1.65 0.95v1.91l-1.65 0.95l-1.65-0.95v-1.91zM623.0 139.55l1.65 0.95v1.91l-1.65 0.95l-1.65-0.95v-1.91zM626.4 156.70l1.65 0.95v1.91l-1.65 0.95l-1.65-0.95v-1.91zM581.8 113.83l1.65 0.95v1.91l-1.65 0.95l-1.65-0.95v-1.91zM557.0 168.13l1.65 0.95v1.91l-1.65 0.95l-1.65-0.95v-1.91zM590.0 190.99l1.65 0.95v1.91l-1.65 0.95l-1.65-0.95v-1.91zM596.6 110.97l1.65 0.95v1.91l-1.65 0.95l-1.65-0.95v-1.91zM573.5 185.28l1.65 0.95v1.91l-1.65 0.95l-1.65-0.95v-1.91zM624.7 170.99l1.65 0.95v1.91l-1.65 0.95l-1.65-0.95v-1.91zM555.4 136.69l1.65 0.95v1.91l-1.65 0.95l-1.65-0.95v-1.91zM581.8 188.14l1.65 0.95v1.91l-1.65 0.95l-1.65-0.95v-1.91zM575.2 119.55l1.65 0.95v1.91l-1.65 0.95l-1.65-0.95v-1.91zM599.9 116.69l1.65 0.95v1.91l-1.65 0.95l-1.65-0.95v-1.91zM580.1 190.99l1.65 0.95v1.91l-1.65 0.95l-1.65-0.95v-1.91z" fill="#36215f" stroke="#36215f" stroke-width="0.3"/>
<path d="M621.4 148.13l1.65 0.95v1.91l-1.65 0.95l-1.65-0.95v-1.91zM599.9 122.40l1.65 0.95v1.91l-1.65 0.95l-1.65-0.95v-1.91zM604.9 182.42l1.65 0.95v1.91l-1.65 0.95l-1.65-0.95v-1.91zM614.8 159.56l1.65 0.95v1.91l-1.65 0.95l-1.65-0.95v-1.91zM571.9 176.70l1.65 0.95v1.91l-1.65 0.95l-1.65-0.95v-1.91zM611.5 125.26l1.65 0.95v1.91l-1.65 0.95l-1.65-0.95v-1.91zM585.1 182.42l1.65 0.95v1.91l-1.65 0.95l-1.65-0.95v-1.91zM598.3 119.55l1.65 0.95v1.91l-1.65 0.95l-1.65-0.95v-1.91zM562.0 170.99l1.65 0.95v1.91l-1.65 0.95l-1.65-0.95v-1.91zM599.9 179.56l1.65 0.95v1.91l-1.65 0.95l-1.65-0.95v-1.91zM566.9 128.12l1.65 0.95v1.91l-1.65 0.95l-1.65-0.95v-1.91zM618.1 165.27l1.65 0.95v1.91l-1.65 0.95l-1.65-0.95v-1.91zM616.4 150.98l1.65 0.95v1.91l-1.65 0.95l-1.65-0.95v-1.91zM619.8 156.70l1.65 0.95v1.91l-1.65 0.95l-1.65-0.95v-1.91z" fill="#3c3286" stroke="#3c3286" stroke-width="0.3"/>
<path d="M571.9 142.41l1.65 0.95v1.91l-1.65 0.95l-1.65-0.95v-1.91zM601.6 153.84l1.65 0.95v1.91l-1.65 0.95l-1.65-0.95v-1.91zM580.1 133.84l1.65 0.95v1.91l-1.65 0.95l-1.65-0.95v-1.91z" fill="#1bd0d5" stroke="#1bd0d5" stroke-width="0.3"/>
<path d="M591.7 199.57l1.65 0.95v1.91l-1.65 0.95l-1.65-0.95v-1.91zM596.6 93.83l1.65 0.95v1.91l-1.65 0.95l-1.65-0.95v-1.91zM537.2 162.42l1.65 0.95v1.91l-1.65 0.95l-1.65-0.95v-1.91zM563.6 105.26l1.65 0.95v1.91l-1.65 0.95l-1.65-0.95v-1.91zM575.2 205.28l1.65 0.95v1.91l-1.65 0.95l-1.65-0.95v-1.91zM545.5 153.84l1.65 0.95v1.91l-1.65 0.95l-1.65-0.95v-1.91zM586.8 99.54l1.65 0.95v1.91l-1.65 0.95l-1.65-0.95v-1.91zM623.0 185.28l1.65 0.95v1.91l-1.65 0.95l-1.65-0.95v-1.91zM586.8 202.43l1.65 0.95v1.91l-1.65 0.95l-1.65-0.95v-1.91zM558.7 108.12l1.65 0.95v1.91l-1.65 0.95l-1.65-0.95v-1.91zM552.1 119.55l1.65 0.95v1.91l-1.65 0.95l-1.65-0.95v-1.91zM571.9 205.28l1.65 0.95v1.91l-1.65 0.95l-1.65-0.95v-1.91zM575.2 199.57l1.65 0.95v1.91l-1.65 0.95l-1.65-0.95v-1.91zM604.9 193.85l1.65 0.95v1.91l-1.65 0.95l-1.65-0.95v-1.91zM621.4 193.85l1.65 0.95v1.91l-1.65 0.95l-1.65-0.95v-1.91zM621.4 188.14l1.65 0.95v1.91l-1.65 0.95l-1.65-0.95v-1.91zM558.7 188.14l1.65 0.95v1.91l-1.65 0.95l-1.65-0.95v-1.91zM628.0 108.12l1.65 0.95v1.91l-1.65 0.95l-1.65-0.95v-1.91zM550.4 179.56l1.65 0.95v1.91l-1.65 0.95l-1.65-0.95v-1.91zM623.0 128.12l1.65 0.95v1.91l-1.65 0.95l-1.65-0.95v-1.91zM616.4 196.71l1.65 0.95v1.91l-1.65 0.95l-1.65-0.95v-1.91zM632.9 162.42l1.65 0.95v1.91l-1.65 0.95l-1.65-0.95v-1.91zM562.0 193.85l1.65 0.95v1.91l-1.65 0.95l-1.65-0.95v-1.91zM618.1 113.83l1.65 0.95v1.91l-1.65 0.95l-1.65-0.95v-1.91zM631.3 170.99l1.65 0.95v1.91l-1.65 0.95l-1.65-0.95v-1.91zM548.8 193.85l1.65 0.95v1.91l-1.65 0.95l-1.65-0.95v-1.91zM619.8 116.69l1.65 0.95v1.91l-1.65 0.95l-1.65-0.95v-1.91zM543.9 168.13l1.65 0.95v1.91l-1.65 0.95l-1.65-0.95v-1.91zM632.9 128.12l1.65 0.95v1.91l-1.65 0.95l-1.65-0.95v-1.91zM595.0 193.85l1.65 0.95v1.91l-1.65 0.95l-1.65-0.95v-1.91zM595.0 102.40l1.65 0.95v1.91l-1.65 0.95l-1.65-0.95v-1.91zM637.9 153.84l1.65 0.95v1.91l-1.65 0.95l-1.65-0.95v-1.91zM621.4 113.83l1.65 0.95v1.91l-1.65 0.95l-1.65-0.95v-1.91zM580.1 202.43l1.65 0.95v1.91l-1.65 0.95l-1.65-0.95v-1.91zM552.1 193.85l1.65 0.95v1.91l-1.65 0.95l-1.65-0.95v-1.91zM624.7 102.40l1.65 0.95v1.91l-1.65 0.95l-1.65-0.95v-1.91zM595.0 205.28l1.65 0.95v1.91l-1.65 0.95l-1.65-0.95v-1.91zM601.6 193.85l1.65 0.95v1.91l-1.65 0.95l-1.65-0.95v-1.91zM608.2 102.40l1.65 0.95v1.91l-1.65 0.95l-1.65-0.95v-1.91zM530.6 133.84l1.65 0.95v1.91l-1.65 0.95l-1.65-0.95v-1.91zM634.6 136.69l1.65 0.95v1.91l-1.65 0.95l-1.65-0.95v-1.91zM533.9 156.70l1.65 0.95v1.91l-1.65 0.95l-1.65-0.95v-1.91zM614.8 108.12l1.65 0.95v1.91l-1.65 0.95l-1.65-0.95v-1.91zM606.5 110.97l1.65 0.95v1.91l-1.65 0.95l-1.65-0.95v-1.91zM591.7 205.28l1.65 0.95v1.91l-1.65 0.95l-1.65-0.95v-1.91zM629.6 185.28l1.65 0.95v1.91l-1.65 0.95l-1.65-0.95v-1.91zM624.7 193.85l1.65 0.95v1.91l-1.65 0.95l-1.65-0.95v-1.91zM629.6 122.40l1.65 0.95v1.91l-1.65 0.95l-1.65-0.95v-1.91zM639.5 139.55l1.65 0.95v1.91l-1.65 0.95l-1.65-0.95v-1.91zM568.6 96.68l1.65 0.95v1.91l-1.65 0.95l-1.65-0.95v-1.91zM563.6 110.97l1.65 0.95v1.91l-1.65 0.95l-1.65-0.95v-1.91zM548.8 153.84l1.65 0.95v1.91l-1.65 0.95l-1.65-0.95v-1.91zM547.1 128.12l1.65 0.95v1.91l-1.65 0.95l-1.65-0.95v-1.91zM547.1 110.97l1.65 0.95v1.91l-1.65 0.95l-1.65-0.95v-1.91zM557.0 179.56l1.65 0.95v1.91l-1.65 0.95l-1.65-0.95v-1.91zM618.1 102.40l1.65 0.95v1.91l-1.65 0.95l-1.65-0.95v-1.91zM552.1 130.98l1.65 0.95v1.91l-1.65 0.95l-1.65-0.95v-1.91zM639.5 150.98l1.65 0.95v1.91l-1.65 0.95l-1.65-0.95v-1.91zM619.8 213.86l1.65 0.95v1.91l-1.65 0.95l-1.65-0.95v-1.91zM566.9 105.26l1.65 0.95v1.91l-1.65 0.95l-1.65-0.95v-1.91zM629.6 116.69l1.65 0.95v1.91l-1.65 0.95l-1.65-0.95v-1.91zM616.4 190.99l1.65 0.95v1.91l-1.65 0.95l-1.65-0.95v-1.91zM608.2 193.85l1.65 0.95v1.91l-1.65 0.95l-1.65-0.95v-1.91zM641.2 148.13l1.65 0.95v1.91l-1.65 0.95l-1.65-0.95v-1.91zM548.8 125.26l1.65 0.95v1.91l-1.65 0.95l-1.65-0.95v-1.91zM547.1 190.99l1.65 0.95v1.91l-1.65 0.95l-1.65-0.95v-1.91zM547.1 173.85l1.65 0.95v1.91l-1.65 0.95l-1.65-0.95v-1.91zM611.5 96.68l1.65 0.95v1.91l-1.65 0.95l-1.65-0.95v-1.91zM619.8 105.26l1.65 0.95v1.91l-1.65 0.95l-1.65-0.95v-1.91zM588.4 211.00l1.65 0.95v1.91l-1.65 0.95l-1.65-0.95v-1.91zM631.3 176.70l1.65 0.95v1.91l-1.65 0.95l-1.65-0.95v-1.91zM550.4 110.97l1.65 0.95v1.91l-1.65 0.95l-1.65-0.95v-1.91zM578.5 199.57l1.65 0.95v1.91l-1.65 0.95l-1.65-0.95v-1.91zM560.4 116.69l1.65 0.95v1.91l-1.65 0.95l-1.65-0.95v-1.91zM583.4 208.14l1.65 0.95v1.91l-1.65 0.95l-1.65-0.95v-1.91zM555.4 193.85l1.65 0.95v1.91l-1.65 0.95l-1.65-0.95v-1.91zM540.5 133.84l1.65 0.95v1.91l-1.65 0.95l-1.65-0.95v-1.91zM565.3 96.68l1.65 0.95v1.91l-1.65 0.95l-1.65-0.95v-1.91zM555.4 125.26l1.65 0.95v1.91l-1.65 0.95l-1.65-0.95v-1.91zM603.2 93.83l1.65 0.95v1.91l-1.65 0.95l-1.65-0.95v-1.91zM599.9 99.54l1.65 0.95v1.91l-1.65 0.95l-1.65-0.95v-1.91zM609.9 202.43l1.65 0.95v1.91l-1.65 0.95l-1.65-0.95v-1.91zM656.0 145.27l1.65 0.95v1.91l-1.65 0.95l-1.65-0.95v-1.91zM532.3 136.69l1.65 0.95v1.91l-1.65 0.95l-1.65-0.95v-1.91zM538.9 108.12l1.65 0.95v1.91l-1.65 0.95l-1.65-0.95v-1.91zM573.5 213.86l1.65 0.95v1.91l-1.65 0.95l-1.65-0.95v-1.91zM581.8 102.40l1.65 0.95v1.91l-1.65 0.95l-1.65-0.95v-1.91zM552.1 102.40l1.65 0.95v1.91l-1.65 0.95l-1.65-0.95v-1.91zM621.4 125.26l1.65 0.95v1.91l-1.65 0.95l-1.65-0.95v-1.91zM576.9 202.43l1.65 0.95v1.91l-1.65 0.95l-1.65-0.95v-1.91zM591.7 102.40l1.65 0.95v1.91l-1.65 0.95l-1.65-0.95v-1.91zM560.4 105.26l1.65 0.95v1.91l-1.65 0.95l-1.65-0.95v-1.91zM611.5 199.57l1.65 0.95v1.91l-1.65 0.95l-1.65-0.95v-1.91zM566.9 196.71l1.65 0.95v1.91l-1.65 0.95l-1.65-0.95v-1.91zM548.8 119.55l1.65 0.95v1.91l-1.65 0.95l-1.65-0.95v-1.91zM542.2 176.70l1.65 0.95v1.91l-1.65 0.95l-1.65-0.95v-1.91zM596.6 202.43l1.65 0.95v1.91l-1.65 0.95l-1.65-0.95v-1.91zM595.0 96.68l1.65 0.95v1.91l-1.65 0.95l-1.65-0.95v-1.91zM585.1 96.68l1.65 0.95v1.91l-1.65 0.95l-1.65-0.95v-1.91zM557.0 185.28l1.65 0.95v1.91l-1.65 0.95l-1.65-0.95v-1.91zM540.5 139.55l1.65 0.95v1.91l-1.65 0.95l-1.65-0.95v-1.91zM623.0 116.69l1.65 0.95v1.91l-1.65 0.95l-1.65-0.95v-1.91zM590.0 208.14l1.65 0.95v1.91l-1.65 0.95l-1.65-0.95v-1.91zM593.4 202.43l1.65 0.95v1.91l-1.65 0.95l-1.65-0.95v-1.91zM555.4 188.14l1.65 0.95v1.91l-1.65 0.95l-1.65-0.95v-1.91zM538.9 148.13l1.65 0.95v1.91l-1.65 0.95l-1.65-0.95v-1.91zM634.6 165.27l1.65 0.95v1.91l-1.65 0.95l-1.65-0.95v-1.91zM575.2 113.83l1.65 0.95v1.91l-1.65 0.95l-1.65-0.95v-1.91zM586.8 196.71l1.65 0.95v1.91l-1.65 0.95l-1.65-0.95v-1.91zM562.0 108.12l1.65 0.95v1.91l-1.65 0.95l-1.65-0.95v-1.91zM649.4 145.27l1.65 0.95v1.91l-1.65 0.95l-1.65-0.95v-1.91zM631.3 130.98l1.65 0.95v1.91l-1.65 0.95l-1.65-0.95v-1.91zM619.8 190.99l1.65 0.95v1.91l-1.65 0.95l-1.65-0.95v-1.91zM555.4 199.57l1.65 0.95v1.91l-1.65 0.95l-1.65-0.95v-1.91zM570.2 105.26l1.65 0.95v1.91l-1.65 0.95l-1.65-0.95v-1.91zM560.4 196.71l1.65 0.95v1.91l-1.65 0.95l-1.65-0.95v-1.91zM563.6 196.71l1.65 0.95v1.91l-1.65 0.95l-1.65-0.95v-1.91zM586.8 76.68l1.65 0.95v1.91l-1.65 0.95l-1.65-0.95v-1.91zM555.4 182.42l1.65 0.95v1.91l-1.65 0.95l-1.65-0.95v-1.91zM545.5 182.42l1.65 0.95v1.91l-1.65 0.95l-1.65-0.95v-1.91zM634.6 125.26l1.65 0.95v1.91l-1.65 0.95l-1.65-0.95v-1.91zM619.8 110.97l1.65 0.95v1.91l-1.65 0.95l-1.65-0.95v-1.91zM623.0 122.40l1.65 0.95v1.91l-1.65 0.95l-1.65-0.95v-1.91zM624.7 199.57l1.65 0.95v1.91l-1.65 0.95l-1.65-0.95v-1.91zM599.9 196.71l1.65 0.95v1.91l-1.65 0.95l-1.65-0.95v-1.91zM548.8 182.42l1.65 0.95v1.91l-1.65 0.95l-1.65-0.95v-1.91zM590.0 202.43l1.65 0.95v1.91l-1.65 0.95l-1.65-0.95v-1.91zM593.4 196.71l1.65 0.95v1.91l-1.65 0.95l-1.65-0.95v-1.91zM614.8 211.00l1.65 0.95v1.91l-1.65 0.95l-1.65-0.95v-1.91zM590.0 213.86l1.65 0.95v1.91l-1.65 0.95l-1.65-0.95v-1.91zM641.2 159.56l1.65 0.95v1.91l-1.65 0.95l-1.65-0.95v-1.91zM553.8 110.97l1.65 0.95v1.91l-1.65 0.95l-1.65-0.95v-1.91zM631.3 148.13l1.65 0.95v1.91l-1.65 0.95l-1.65-0.95v-1.91zM618.1 205.28l1.65 0.95v1.91l-1.65 0.95l-1.65-0.95v-1.91zM568.6 102.40l1.65 0.95v1.91l-1.65 0.95l-1.65-0.95v-1.91zM639.5 128.12l1.65 0.95v1.91l-1.65 0.95l-1.65-0.95v-1.91zM586.8 208.14l1.65 0.95v1.91l-1.65 0.95l-1.65-0.95v-1.91zM644.5 176.70l1.65 0.95v1.91l-1.65 0.95l-1.65-0.95v-1.91zM629.6 173.85l1.65 0.95v1.91l-1.65 0.95l-1.65-0.95v-1.91zM535.6 170.99l1.65 0.95v1.91l-1.65 0.95l-1.65-0.95v-1.91zM571.9 193.85l1.65 0.95v1.91l-1.65 0.95l-1.65-0.95v-1.91zM580.1 93.83l1.65 0.95v1.91l-1.65 0.95l-1.65-0.95v-1.91zM543.9 128.12l1.65 0.95v1.91l-1.65 0.95l-1.65-0.95v-1.91zM634.6 153.84l1.65 0.95v1.91l-1.65 0.95l-1.65-0.95v-1.91zM578.5 102.40l1.65 0.95v1.91l-1.65 0.95l-1.65-0.95v-1.91zM533.9 128.12l1.65 0.95v1.91l-1.65 0.95l-1.65-0.95v-1.91zM545.5 125.26l1.65 0.95v1.91l-1.65 0.95l-1.65-0.95v-1.91zM614.8 199.57l1.65 0.95v1.91l-1.65 0.95l-1.65-0.95v-1.91zM637.9 130.98l1.65 0.95v1.91l-1.65 0.95l-1.65-0.95v-1.91zM535.6 142.41l1.65 0.95v1.91l-1.65 0.95l-1.65-0.95v-1.91zM560.4 202.43l1.65 0.95v1.91l-1.65 0.95l-1.65-0.95v-1.91zM547.1 185.28l1.65 0.95v1.91l-1.65 0.95l-1.65-0.95v-1.91zM628.0 148.13l1.65 0.95v1.91l-1.65 0.95l-1.65-0.95v-1.91zM646.1 128.12l1.65 0.95v1.91l-1.65 0.95l-1.65-0.95v-1.91zM628.0 113.83l1.65 0.95v1.91l-1.65 0.95l-1.65-0.95v-1.91zM570.2 202.43l1.65 0.95v1.91l-1.65 0.95l-1.65-0.95v-1.91zM632.9 139.55l1.65 0.95v1.91l-1.65 0.95l-1.65-0.95v-1.91zM557.0 122.40l1.65 0.95v1.91l-1.65 0.95l-1.65-0.95v-1.91zM628.0 125.26l1.65 0.95v1.91l-1.65 0.95l-1.65-0.95v-1.91zM647.8 130.98l1.65 0.95v1.91l-1.65 0.95l-1.65-0.95v-1.91zM593.4 99.54l1.65 0.95v1.91l-1.65 0.95l-1.65-0.95v-1.91zM651.1 148.13l1.65 0.95v1.91l-1.65 0.95l-1.65-0.95v-1.91zM609.9 190.99l1.65 0.95v1.91l-1.65 0.95l-1.65-0.95v-1.91zM571.9 199.57l1.65 0.95v1.91l-1.65 0.95l-1.65-0.95v-1.91zM535.6 153.84l1.65 0.95v1.91l-1.65 0.95l-1.65-0.95v-1.91zM618.1 108.12l1.65 0.95v1.91l-1.65 0.95l-1.65-0.95v-1.91zM609.9 196.71l1.65 0.95v1.91l-1.65 0.95l-1.65-0.95v-1.91zM634.6 148.13l1.65 0.95v1.91l-1.65 0.95l-1.65-0.95v-1.91zM636.2 173.85l1.65 0.95v1.91l-1.65 0.95l-1.65-0.95v-1.91zM619.8 173.85l1.65 0.95v1.91l-1.65 0.95l-1.65-0.95v-1.91zM563.6 116.69l1.65 0.95v1.91l-1.65 0.95l-1.65-0.95v-1.91zM563.6 99.54l1.65 0.95v1.91l-1.65 0.95l-1.65-0.95v-1.91zM558.7 199.57l1.65 0.95v1.91l-1.65 0.95l-1.65-0.95v-1.91zM560.4 99.54l1.65 0.95v1.91l-1.65 0.95l-1.65-0.95v-1.91zM552.1 85.25l1.65 0.95v1.91l-1.65 0.95l-1.65-0.95v-1.91zM588.4 108.12l1.65 0.95v1.91l-1.65 0.95l-1.65-0.95v-1.91zM557.0 99.54l1.65 0.95v1.91l-1.65 0.95l-1.65-0.95v-1.91zM562.0 102.40l1.65 0.95v1.91l-1.65 0.95l-1.65-0.95v-1.91zM619.8 196.71l1.65 0.95v1.91l-1.65 0.95l-1.65-0.95v-1.91zM576.9 208.14l1.65 0.95v1.91l-1.65 0.95l-1.65-0.95v-1.91zM626.4 179.56l1.65 0.95v1.91l-1.65 0.95l-1.65-0.95v-1.91zM636.2 145.27l1.65 0.95v1.91l-1.65 0.95l-1.65-0.95v-1.91zM573.5 110.97l1.65 0.95v1.91l-1.65 0.95l-1.65-0.95v-1.91zM570.2 93.83l1.65 0.95v1.91l-1.65 0.95l-1.65-0.95v-1.91zM588.4 205.28l1.65 0.95v1.91l-1.65 0.95l-1.65-0.95v-1.91zM608.2 108.12l1.65 0.95v1.91l-1.65 0.95l-1.65-0.95v-1.91zM611.5 205.28l1.65 0.95v1.91l-1.65 0.95l-1.65-0.95v-1.91zM604.9 205.28l1.65 0.95v1.91l-1.65 0.95l-1.65-0.95v-1.91zM590.0 105.26l1.65 0.95v1.91l-1.65 0.95l-1.65-0.95v-1.91zM550.4 122.40l1.65 0.95v1.91l-1.65 0.95l-1.65-0.95v-1.91zM542.2 159.56l1.65 0.95v1.91l-1.65 0.95l-1.65-0.95v-1.91zM542.2 136.69l1.65 0.95v1.91l-1.65 0.95l-1.65-0.95v-1.91zM543.9 116.69l1.65 0.95v1.91l-1.65 0.95l-1.65-0.95v-1.91zM583.4 196.71l1.65 0.95v1.91l-1.65 0.95l-1.65-0.95v-1.91zM599.9 105.26l1.65 0.95v1.91l-1.65 0.95l-1.65-0.95v-1.91zM538.9 182.42l1.65 0.95v1.91l-1.65 0.95l-1.65-0.95v-1.91zM585.1 211.00l1.65 0.95v1.91l-1.65 0.95l-1.65-0.95v-1.91zM537.2 156.70l1.65 0.95v1.91l-1.65 0.95l-1.65-0.95v-1.91zM631.3 96.68l1.65 0.95v1.91l-1.65 0.95l-1.65-0.95v-1.91zM575.2 90.97l1.65 0.95v1.91l-1.65 0.95l-1.65-0.95v-1.91zM624.7 188.14l1.65 0.95v1.91l-1.65 0.95l-1.65-0.95v-1.91zM571.9 102.40l1.65 0.95v1.91l-1.65 0.95l-1.65-0.95v-1.91zM533.9 179.56l1.65 0.95v1.91l-1.65 0.95l-1.65-0.95v-1.91zM552.1 165.27l1.65 0.95v1.91l-1.65 0.95l-1.65-0.95v-1.91zM618.1 188.14l1.65 0.95v1.91l-1.65 0.95l-1.65-0.95v-1.91zM634.6 159.56l1.65 0.95v1.91l-1.65 0.95l-1.65-0.95v-1.91zM573.5 99.54l1.65 0.95v1.91l-1.65 0.95l-1.65-0.95v-1.91zM598.3 199.57l1.65 0.95v1.91l-1.65 0.95l-1.65-0.95v-1.91zM618.1 199.57l1.65 0.95v1.91l-1.65 0.95l-1.65-0.95v-1.91zM540.5 173.85l1.65 0.95v1.91l-1.65 0.95l-1.65-0.95v-1.91zM547.1 179.56l1.65 0.95v1.91l-1.65 0.95l-1.65-0.95v-1.91zM543.9 179.56l1.65 0.95v1.91l-1.65 0.95l-1.65-0.95v-1.91zM543.9 99.54l1.65 0.95v1.91l-1.65 0.95l-1.65-0.95v-1.91zM565.3 73.82l1.65 0.95v1.91l-1.65 0.95l-1.65-0.95v-1.91zM540.5 150.98l1.65 0.95v1.91l-1.65 0.95l-1.65-0.95v-1.91zM614.8 113.83l1.65 0.95v1.91l-1.65 0.95l-1.65-0.95v-1.91zM543.9 145.27l1.65 0.95v1.91l-1.65 0.95l-1.65-0.95v-1.91zM540.5 168.13l1.65 0.95v1.91l-1.65 0.95l-1.65-0.95v-1.91zM628.0 188.14l1.65 0.95v1.91l-1.65 0.95l-1.65-0.95v-1.91zM629.6 179.56l1.65 0.95v1.91l-1.65 0.95l-1.65-0.95v-1.91zM631.3 182.42l1.65 0.95v1.91l-1.65 0.95l-1.65-0.95v-1.91zM552.1 188.14l1.65 0.95v1.91l-1.65 0.95l-1.65-0.95v-1.91zM608.2 96.68l1.65 0.95v1.91l-1.65 0.95l-1.65-0.95v-1.91zM637.9 165.27l1.65 0.95v1.91l-1.65 0.95l-1.65-0.95v-1.91zM624.7 176.70l1.65 0.95v1.91l-1.65 0.95l-1.65-0.95v-1.91zM641.2 136.69l1.65 0.95v1.91l-1.65 0.95l-1.65-0.95v-1.91zM550.4 168.13l1.65 0.95v1.91l-1.65 0.95l-1.65-0.95v-1.91zM573.5 105.26l1.65 0.95v1.91l-1.65 0.95l-1.65-0.95v-1.91zM642.9 168.13l1.65 0.95v1.91l-1.65 0.95l-1.65-0.95v-1.91zM614.8 193.85l1.65 0.95v1.91l-1.65 0.95l-1.65-0.95v-1.91zM631.3 119.55l1.65 0.95v1.91l-1.65 0.95l-1.65-0.95v-1.91zM626.4 196.71l1.65 0.95v1.91l-1.65 0.95l-1.65-0.95v-1.91zM601.6 211.00l1.65 0.95v1.91l-1.65 0.95l-1.65-0.95v-1.91zM624.7 130.98l1.65 0.95v1.91l-1.65 0.95l-1.65-0.95v-1.91zM558.7 119.55l1.65 0.95v1.91l-1.65 0.95l-1.65-0.95v-1.91zM595.0 216.72l1.65 0.95v1.91l-1.65 0.95l-1.65-0.95v-1.91zM570.2 110.97l1.65 0.95v1.91l-1.65 0.95l-1.65-0.95v-1.91zM642.9 156.70l1.65 0.95v1.91l-1.65 0.95l-1.65-0.95v-1.91zM621.4 108.12l1.65 0.95v1.91l-1.65 0.95l-1.65-0.95v-1.91zM542.2 113.83l1.65 0.95v1.91l-1.65 0.95l-1.65-0.95v-1.91zM565.3 193.85l1.65 0.95v1.91l-1.65 0.95l-1.65-0.95v-1.91zM545.5 136.69l1.65 0.95v1.91l-1.65 0.95l-1.65-0.95v-1.91zM580.1 99.54l1.65 0.95v1.91l-1.65 0.95l-1.65-0.95v-1.91zM538.9 159.56l1.65 0.95v1.91l-1.65 0.95l-1.65-0.95v-1.91zM543.9 173.85l1.65 0.95v1.91l-1.65 0.95l-1.65-0.95v-1.91zM550.4 139.55l1.65 0.95v1.91l-1.65 0.95l-1.65-0.95v-1.91zM588.4 102.40l1.65 0.95v1.91l-1.65 0.95l-1.65-0.95v-1.91zM547.1 156.70l1.65 0.95v1.91l-1.65 0.95l-1.65-0.95v-1.91zM593.4 93.83l1.65 0.95v1.91l-1.65 0.95l-1.65-0.95v-1.91zM575.2 108.12l1.65 0.95v1.91l-1.65 0.95l-1.65-0.95v-1.91zM590.0 36.67l1.65 0.95v1.91l-1.65 0.95l-1.65-0.95v-1.91zM566.9 42.38l1.65 0.95v1.91l-1.65 0.95l-1.65-0.95v-1.91zM568.6 205.28l1.65 0.95v1.91l-1.65 0.95l-1.65-0.95v-1.91zM623.0 36.67l1.65 0.95v1.91l-1.65 0.95l-1.65-0.95v-1.91zM595.0 222.43l1.65 0.95v1.91l-1.65 0.95l-1.65-0.95v-1.91zM595.0 233.86l1.65 0.95v1.91l-1.65 0.95l-1.65-0.95v-1.91zM642.9 253.87l1.65 0.95v1.91l-1.65 0.95l-1.65-0.95v-1.91zM604.9 199.57l1.65 0.95v1.91l-1.65 0.95l-1.65-0.95v-1.91zM618.1 39.53l1.65 0.95v1.91l-1.65 0.95l-1.65-0.95v-1.91zM637.9 251.01l1.65 0.95v1.91l-1.65 0.95l-1.65-0.95v-1.91zM611.5 216.72l1.65 0.95v1.91l-1.65 0.95l-1.65-0.95v-1.91zM636.2 105.26l1.65 0.95v1.91l-1.65 0.95l-1.65-0.95v-1.91zM634.6 102.40l1.65 0.95v1.91l-1.65 0.95l-1.65-0.95v-1.91zM614.8 239.58l1.65 0.95v1.91l-1.65 0.95l-1.65-0.95v-1.91zM529.0 125.26l1.65 0.95v1.91l-1.65 0.95l-1.65-0.95v-1.91zM599.9 76.68l1.65 0.95v1.91l-1.65 0.95l-1.65-0.95v-1.91zM562.0 233.86l1.65 0.95v1.91l-1.65 0.95l-1.65-0.95v-1.91zM644.5 170.99l1.65 0.95v1.91l-1.65 0.95l-1.65-0.95v-1.91zM619.8 99.54l1.65 0.95v1.91l-1.65 0.95l-1.65-0.95v-1.91zM647.8 165.27l1.65 0.95v1.91l-1.65 0.95l-1.65-0.95v-1.91zM588.4 56.67l1.65 0.95v1.91l-1.65 0.95l-1.65-0.95v-1.91zM573.5 236.72l1.65 0.95v1.91l-1.65 0.95l-1.65-0.95v-1.91zM609.9 208.14l1.65 0.95v1.91l-1.65 0.95l-1.65-0.95v-1.91zM555.4 108.12l1.65 0.95v1.91l-1.65 0.95l-1.65-0.95v-1.91zM628.0 199.57l1.65 0.95v1.91l-1.65 0.95l-1.65-0.95v-1.91zM517.4 190.99l1.65 0.95v1.91l-1.65 0.95l-1.65-0.95v-1.91zM623.0 196.71l1.65 0.95v1.91l-1.65 0.95l-1.65-0.95v-1.91zM644.5 79.54l1.65 0.95v1.91l-1.65 0.95l-1.65-0.95v-1.91zM641.2 102.40l1.65 0.95v1.91l-1.65 0.95l-1.65-0.95v-1.91zM604.9 96.68l1.65 0.95v1.91l-1.65 0.95l-1.65-0.95v-1.91zM626.4 59.53l1.65 0.95v1.91l-1.65 0.95l-1.65-0.95v-1.91zM591.7 222.43l1.65 0.95v1.91l-1.65 0.95l-1.65-0.95v-1.91zM558.7 73.82l1.65 0.95v1.91l-1.65 0.95l-1.65-0.95v-1.91zM532.3 165.27l1.65 0.95v1.91l-1.65 0.95l-1.65-0.95v-1.91zM604.9 85.25l1.65 0.95v1.91l-1.65 0.95l-1.65-0.95v-1.91zM606.5 208.14l1.65 0.95v1.91l-1.65 0.95l-1.65-0.95v-1.91zM548.8 113.83l1.65 0.95v1.91l-1.65 0.95l-1.65-0.95v-1.91zM651.1 102.40l1.65 0.95v1.91l-1.65 0.95l-1.65-0.95v-1.91zM588.4 239.58l1.65 0.95v1.91l-1.65 0.95l-1.65-0.95v-1.91zM545.5 188.14l1.65 0.95v1.91l-1.65 0.95l-1.65-0.95v-1.91zM575.2 211.00l1.65 0.95v1.91l-1.65 0.95l-1.65-0.95v-1.91zM603.2 76.68l1.65 0.95v1.91l-1.65 0.95l-1.65-0.95v-1.91zM637.9 136.69l1.65 0.95v1.91l-1.65 0.95l-1.65-0.95v-1.91zM571.9 233.86l1.65 0.95v1.91l-1.65 0.95l-1.65-0.95v-1.91zM642.9 213.86l1.65 0.95v1.91l-1.65 0.95l-1.65-0.95v-1.91zM553.8 196.71l1.65 0.95v1.91l-1.65 0.95l-1.65-0.95v-1.91zM609.9 42.38l1.65 0.95v1.91l-1.65 0.95l-1.65-0.95v-1.91zM557.0 213.86l1.65 0.95v1.91l-1.65 0.95l-1.65-0.95v-1.91zM632.9 208.14l1.65 0.95v1.91l-1.65 0.95l-1.65-0.95v-1.91zM649.4 65.25l1.65 0.95v1.91l-1.65 0.95l-1.65-0.95v-1.91zM588.4 68.11l1.65 0.95v1.91l-1.65 0.95l-1.65-0.95v-1.91zM624.7 113.83l1.65 0.95v1.91l-1.65 0.95l-1.65-0.95v-1.91zM606.5 242.44l1.65 0.95v1.91l-1.65 0.95l-1.65-0.95v-1.91zM618.1 96.68l1.65 0.95v1.91l-1.65 0.95l-1.65-0.95v-1.91zM586.8 42.38l1.65 0.95v1.91l-1.65 0.95l-1.65-0.95v-1.91zM580.1 53.82l1.65 0.95v1.91l-1.65 0.95l-1.65-0.95v-1.91zM537.2 196.71l1.65 0.95v1.91l-1.65 0.95l-1.65-0.95v-1.91zM631.3 90.97l1.65 0.95v1.91l-1.65 0.95l-1.65-0.95v-1.91zM621.4 222.43l1.65 0.95v1.91l-1.65 0.95l-1.65-0.95v-1.91zM604.9 79.54l1.65 0.95v1.91l-1.65 0.95l-1.65-0.95v-1.91zM606.5 219.57l1.65 0.95v1.91l-1.65 0.95l-1.65-0.95v-1.91zM585.1 85.25l1.65 0.95v1.91l-1.65 0.95l-1.65-0.95v-1.91zM618.1 222.43l1.65 0.95v1.91l-1.65 0.95l-1.65-0.95v-1.91zM628.0 79.54l1.65 0.95v1.91l-1.65 0.95l-1.65-0.95v-1.91zM522.4 108.12l1.65 0.95v1.91l-1.65 0.95l-1.65-0.95v-1.91zM570.2 82.39l1.65 0.95v1.91l-1.65 0.95l-1.65-0.95v-1.91zM609.9 236.72l1.65 0.95v1.91l-1.65 0.95l-1.65-0.95v-1.91zM557.0 236.72l1.65 0.95v1.91l-1.65 0.95l-1.65-0.95v-1.91zM530.6 236.72l1.65 0.95v1.91l-1.65 0.95l-1.65-0.95v-1.91zM565.3 68.11l1.65 0.95v1.91l-1.65 0.95l-1.65-0.95v-1.91zM598.3 245.29l1.65 0.95v1.91l-1.65 0.95l-1.65-0.95v-1.91zM608.2 222.43l1.65 0.95v1.91l-1.65 0.95l-1.65-0.95v-1.91zM588.4 96.68l1.65 0.95v1.91l-1.65 0.95l-1.65-0.95v-1.91zM578.5 50.96l1.65 0.95v1.91l-1.65 0.95l-1.65-0.95v-1.91zM642.9 70.96l1.65 0.95v1.91l-1.65 0.95l-1.65-0.95v-1.91zM618.1 273.87l1.65 0.95v1.91l-1.65 0.95l-1.65-0.95v-1.91zM555.4 228.15l1.65 0.95v1.91l-1.65 0.95l-1.65-0.95v-1.91zM533.9 225.29l1.65 0.95v1.91l-1.65 0.95l-1.65-0.95v-1.91zM585.1 90.97l1.65 0.95v1.91l-1.65 0.95l-1.65-0.95v-1.91zM611.5 256.73l1.65 0.95v1.91l-1.65 0.95l-1.65-0.95v-1.91zM641.2 119.55l1.65 0.95v1.91l-1.65 0.95l-1.65-0.95v-1.91zM637.9 211.00l1.65 0.95v1.91l-1.65 0.95l-1.65-0.95v-1.91zM530.6 139.55l1.65 0.95v1.91l-1.65 0.95l-1.65-0.95v-1.91zM550.4 213.86l1.65 0.95v1.91l-1.65 0.95l-1.65-0.95v-1.91zM524.0 219.57l1.65 0.95v1.91l-1.65 0.95l-1.65-0.95v-1.91zM634.6 188.14l1.65 0.95v1.91l-1.65 0.95l-1.65-0.95v-1.91zM613.1 208.14l1.65 0.95v1.91l-1.65 0.95l-1.65-0.95v-1.91zM590.0 248.15l1.65 0.95v1.91l-1.65 0.95l-1.65-0.95v-1.91zM662.6 213.86l1.65 0.95v1.91l-1.65 0.95l-1.65-0.95v-1.91zM616.4 93.83l1.65 0.95v1.91l-1.65 0.95l-1.65-0.95v-1.91zM583.4 48.10l1.65 0.95v1.91l-1.65 0.95l-1.65-0.95v-1.91zM661.0 130.98l1.65 0.95v1.91l-1.65 0.95l-1.65-0.95v-1.91zM581.8 90.97l1.65 0.95v1.91l-1.65 0.95l-1.65-0.95v-1.91zM568.6 56.67l1.65 0.95v1.91l-1.65 0.95l-1.65-0.95v-1.91zM659.4 168.13l1.65 0.95v1.91l-1.65 0.95l-1.65-0.95v-1.91zM609.9 219.57l1.65 0.95v1.91l-1.65 0.95l-1.65-0.95v-1.91zM590.0 225.29l1.65 0.95v1.91l-1.65 0.95l-1.65-0.95v-1.91zM604.9 56.67l1.65 0.95v1.91l-1.65 0.95l-1.65-0.95v-1.91zM529.0 159.56l1.65 0.95v1.91l-1.65 0.95l-1.65-0.95v-1.91zM529.0 136.69l1.65 0.95v1.91l-1.65 0.95l-1.65-0.95v-1.91zM585.1 45.24l1.65 0.95v1.91l-1.65 0.95l-1.65-0.95v-1.91zM598.3 96.68l1.65 0.95v1.91l-1.65 0.95l-1.65-0.95v-1.91zM621.4 182.42l1.65 0.95v1.91l-1.65 0.95l-1.65-0.95v-1.91zM603.2 213.86l1.65 0.95v1.91l-1.65 0.95l-1.65-0.95v-1.91zM646.1 122.40l1.65 0.95v1.91l-1.65 0.95l-1.65-0.95v-1.91zM563.6 190.99l1.65 0.95v1.91l-1.65 0.95l-1.65-0.95v-1.91zM595.0 73.82l1.65 0.95v1.91l-1.65 0.95l-1.65-0.95v-1.91zM632.9 219.57l1.65 0.95v1.91l-1.65 0.95l-1.65-0.95v-1.91zM598.3 205.28l1.65 0.95v1.91l-1.65 0.95l-1.65-0.95v-1.91zM576.9 99.54l1.65 0.95v1.91l-1.65 0.95l-1.65-0.95v-1.91zM573.5 76.68l1.65 0.95v1.91l-1.65 0.95l-1.65-0.95v-1.91zM576.9 48.10l1.65 0.95v1.91l-1.65 0.95l-1.65-0.95v-1.91zM646.1 219.57l1.65 0.95v1.91l-1.65 0.95l-1.65-0.95v-1.91zM609.9 93.83l1.65 0.95v1.91l-1.65 0.95l-1.65-0.95v-1.91zM553.8 105.26l1.65 0.95v1.91l-1.65 0.95l-1.65-0.95v-1.91zM621.4 73.82l1.65 0.95v1.91l-1.65 0.95l-1.65-0.95v-1.91zM515.8 136.69l1.65 0.95v1.91l-1.65 0.95l-1.65-0.95v-1.91zM609.9 99.54l1.65 0.95v1.91l-1.65 0.95l-1.65-0.95v-1.91zM575.2 222.43l1.65 0.95v1.91l-1.65 0.95l-1.65-0.95v-1.91zM628.0 50.96l1.65 0.95v1.91l-1.65 0.95l-1.65-0.95v-1.91zM629.6 253.87l1.65 0.95v1.91l-1.65 0.95l-1.65-0.95v-1.91zM555.4 73.82l1.65 0.95v1.91l-1.65 0.95l-1.65-0.95v-1.91zM651.1 45.24l1.65 0.95v1.91l-1.65 0.95l-1.65-0.95v-1.91zM545.5 205.28l1.65 0.95v1.91l-1.65 0.95l-1.65-0.95v-1.91zM642.9 122.40l1.65 0.95v1.91l-1.65 0.95l-1.65-0.95v-1.91zM545.5 130.98l1.65 0.95v1.91l-1.65 0.95l-1.65-0.95v-1.91zM540.5 122.40l1.65 0.95v1.91l-1.65 0.95l-1.65-0.95v-1.91zM558.7 113.83l1.65 0.95v1.91l-1.65 0.95l-1.65-0.95v-1.91zM637.9 45.24l1.65 0.95v1.91l-1.65 0.95l-1.65-0.95v-1.91zM545.5 45.24l1.65 0.95v1.91l-1.65 0.95l-1.65-0.95v-1.91zM603.2 82.39l1.65 0.95v1.91l-1.65 0.95l-1.65-0.95v-1.91zM601.6 96.68l1.65 0.95v1.91l-1.65 0.95l-1.65-0.95v-1.91zM565.3 108.12l1.65 0.95v1.91l-1.65 0.95l-1.65-0.95v-1.91zM562.0 96.68l1.65 0.95v1.91l-1.65 0.95l-1.65-0.95v-1.91zM631.3 205.28l1.65 0.95v1.91l-1.65 0.95l-1.65-0.95v-1.91zM542.2 211.00l1.65 0.95v1.91l-1.65 0.95l-1.65-0.95v-1.91zM674.2 62.39l1.65 0.95v1.91l-1.65 0.95l-1.65-0.95v-1.91zM598.3 239.58l1.65 0.95v1.91l-1.65 0.95l-1.65-0.95v-1.91zM586.8 30.95l1.65 0.95v1.91l-1.65 0.95l-1.65-0.95v-1.91zM519.1 142.41l1.65 0.95v1.91l-1.65 0.95l-1.65-0.95v-1.91zM619.8 225.29l1.65 0.95v1.91l-1.65 0.95l-1.65-0.95v-1.91zM641.2 199.57l1.65 0.95v1.91l-1.65 0.95l-1.65-0.95v-1.91zM566.9 93.83l1.65 0.95v1.91l-1.65 0.95l-1.65-0.95v-1.91zM552.1 79.54l1.65 0.95v1.91l-1.65 0.95l-1.65-0.95v-1.91zM570.2 116.69l1.65 0.95v1.91l-1.65 0.95l-1.65-0.95v-1.91zM520.8 133.84l1.65 0.95v1.91l-1.65 0.95l-1.65-0.95v-1.91zM665.9 162.42l1.65 0.95v1.91l-1.65 0.95l-1.65-0.95v-1.91zM604.9 222.43l1.65 0.95v1.91l-1.65 0.95l-1.65-0.95v-1.91zM646.1 133.84l1.65 0.95v1.91l-1.65 0.95l-1.65-0.95v-1.91zM618.1 68.11l1.65 0.95v1.91l-1.65 0.95l-1.65-0.95v-1.91zM613.1 93.83l1.65 0.95v1.91l-1.65 0.95l-1.65-0.95v-1.91zM604.9 73.82l1.65 0.95v1.91l-1.65 0.95l-1.65-0.95v-1.91zM644.5 165.27l1.65 0.95v1.91l-1.65 0.95l-1.65-0.95v-1.91zM646.1 93.83l1.65 0.95v1.91l-1.65 0.95l-1.65-0.95v-1.91zM651.1 108.12l1.65 0.95v1.91l-1.65 0.95l-1.65-0.95v-1.91zM634.6 182.42l1.65 0.95v1.91l-1.65 0.95l-1.65-0.95v-1.91zM580.1 48.10l1.65 0.95v1.91l-1.65 0.95l-1.65-0.95v-1.91zM557.0 202.43l1.65 0.95v1.91l-1.65 0.95l-1.65-0.95v-1.91zM553.8 99.54l1.65 0.95v1.91l-1.65 0.95l-1.65-0.95v-1.91zM616.4 42.38l1.65 0.95v1.91l-1.65 0.95l-1.65-0.95v-1.91zM611.5 228.15l1.65 0.95v1.91l-1.65 0.95l-1.65-0.95v-1.91zM596.6 248.15l1.65 0.95v1.91l-1.65 0.95l-1.65-0.95v-1.91zM588.4 262.44l1.65 0.95v1.91l-1.65 0.95l-1.65-0.95v-1.91zM639.5 179.56l1.65 0.95v1.91l-1.65 0.95l-1.65-0.95v-1.91zM583.4 202.43l1.65 0.95v1.91l-1.65 0.95l-1.65-0.95v-1.91zM596.6 253.87l1.65 0.95v1.91l-1.65 0.95l-1.65-0.95v-1.91zM616.4 202.43l1.65 0.95v1.91l-1.65 0.95l-1.65-0.95v-1.91zM616.4 99.54l1.65 0.95v1.91l-1.65 0.95l-1.65-0.95v-1.91zM576.9 93.83l1.65 0.95v1.91l-1.65 0.95l-1.65-0.95v-1.91zM654.4 165.27l1.65 0.95v1.91l-1.65 0.95l-1.65-0.95v-1.91zM626.4 105.26l1.65 0.95v1.91l-1.65 0.95l-1.65-0.95v-1.91zM652.8 231.00l1.65 0.95v1.91l-1.65 0.95l-1.65-0.95v-1.91zM542.2 125.26l1.65 0.95v1.91l-1.65 0.95l-1.65-0.95v-1.91zM614.8 205.28l1.65 0.95v1.91l-1.65 0.95l-1.65-0.95v-1.91zM545.5 159.56l1.65 0.95v1.91l-1.65 0.95l-1.65-0.95v-1.91zM565.3 211.00l1.65 0.95v1.91l-1.65 0.95l-1.65-0.95v-1.91zM552.1 45.24l1.65 0.95v1.91l-1.65 0.95l-1.65-0.95v-1.91zM606.5 82.39l1.65 0.95v1.91l-1.65 0.95l-1.65-0.95v-1.91zM448.1 105.26l1.65 0.95v1.91l-1.65 0.95l-1.65-0.95v-1.91zM481.1 145.27l1.65 0.95v1.91l-1.65 0.95l-1.65-0.95v-1.91z" fill="#30123b" stroke="#30123b" stroke-width="0.3"/>
<path d="M599.9 156.70l1.65 0.95v1.91l-1.65 0.95l-1.65-0.95v-1.91zM591.7 130.98l1.65 0.95v1.91l-1.65 0.95l-1.65-0.95v-1.91z" fill="#27bee9" stroke="#27bee9" stroke-width="0.3"/>
<path d="M613.1 145.27l1.65 0.95v1.91l-1.65 0.95l-1.65-0.95v-1.91z" fill="#4661d6" stroke="#4661d6" stroke-width="0.3"/>
<path d="M570.2 156.70l1.65 0.95v1.91l-1.65 0.95l-1.65-0.95v-1.91zM566.9 150.98l1.65 0.95v1.91l-1.65 0.95l-1.65-0.95v-1.91zM573.5 162.42l1.65 0.95v1.91l-1.65 0.95l-1.65-0.95v-1.91zM604.9 165.27l1.65 0.95v1.91l-1.65 0.95l-1.65-0.95v-1.91zM563.6 150.98l1.65 0.95v1.91l-1.65 0.95l-1.65-0.95v-1.91z" fill="#4669e0" stroke="#4669e0" stroke-width="0.3"/>
<path d="M604.9 159.56l1.65 0.95v1.91l-1.65 0.95l-1.65-0.95v-1.91zM608.2 159.56l1.65 0.95v1.91l-1.65 0.95l-1.65-0.95v-1.91zM575.2 165.27l1.65 0.95v1.91l-1.65 0.95l-1.65-0.95v-1.91zM591.7 170.99l1.65 0.95v1.91l-1.65 0.95l-1.65-0.95v-1.91zM580.1 128.12l1.65 0.95v1.91l-1.65 0.95l-1.65-0.95v-1.91zM595.0 170.99l1.65 0.95v1.91l-1.65 0.95l-1.65-0.95v-1.91zM598.3 170.99l1.65 0.95v1.91l-1.65 0.95l-1.65-0.95v-1.91zM571.9 165.27l1.65 0.95v1.91l-1.65 0.95l-1.65-0.95v-1.91zM596.6 128.12l1.65 0.95v1.91l-1.65 0.95l-1.65-0.95v-1.91z" fill="#466be3" stroke="#466be3" stroke-width="0.3"/>
<path d="M606.5 145.27l1.65 0.95v1.91l-1.65 0.95l-1.65-0.95v-1.91zM570.2 145.27l1.65 0.95v1.91l-1.65 0.95l-1.65-0.95v-1.91z" fill="#1ecbda" stroke="#1ecbda" stroke-width="0.3"/>
<path d="M557.0 156.70l1.65 0.95v1.91l-1.65 0.95l-1.65-0.95v-1.91zM618.1 136.69l1.65 0.95v1.91l-1.65 0.95l-1.65-0.95v-1.91zM619.8 133.84l1.65 0.95v1.91l-1.65 0.95l-1.65-0.95v-1.91zM560.4 162.42l1.65 0.95v1.91l-1.65 0.95l-1.65-0.95v-1.91zM585.1 188.14l1.65 0.95v1.91l-1.65 0.95l-1.65-0.95v-1.91zM553.8 145.27l1.65 0.95v1.91l-1.65 0.95l-1.65-0.95v-1.91zM616.4 156.70l1.65 0.95v1.91l-1.65 0.95l-1.65-0.95v-1.91zM580.1 185.28l1.65 0.95v1.91l-1.65 0.95l-1.65-0.95v-1.91zM616.4 133.84l1.65 0.95v1.91l-1.65 0.95l-1.65-0.95v-1.91zM560.4 139.55l1.65 0.95v1.91l-1.65 0.95l-1.65-0.95v-1.91z" fill="#392a73" stroke="#392a73" stroke-width="0.3"/>
<path d="M585.1 148.13l1.65 0.95v1.91l-1.65 0.95l-1.65-0.95v-1.91z" fill="#fe9029" stroke="#fe9029" stroke-width="0.3"/>
<path d="M586.8 139.55l1.65 0.95v1.91l-1.65 0.95l-1.65-0.95v-1.91z" fill="#f26014" stroke="#f26014" stroke-width="0.3"/>
<path d="M614.8 148.13l1.65 0.95v1.91l-1.65 0.95l-1.65-0.95v-1.91zM586.8 173.85l1.65 0.95v1.91l-1.65 0.95l-1.65-0.95v-1.91zM581.8 125.26l1.65 0.95v1.91l-1.65 0.95l-1.65-0.95v-1.91zM593.4 122.40l1.65 0.95v1.91l-1.65 0.95l-1.65-0.95v-1.91zM598.3 176.70l1.65 0.95v1.91l-1.65 0.95l-1.65-0.95v-1.91zM581.8 170.99l1.65 0.95v1.91l-1.65 0.95l-1.65-0.95v-1.91zM565.3 136.69l1.65 0.95v1.91l-1.65 0.95l-1.65-0.95v-1.91zM604.9 130.98l1.65 0.95v1.91l-1.65 0.95l-1.65-0.95v-1.91z" fill="#4456c7" stroke="#4456c7" stroke-width="0.3"/>
<path d="M583.4 145.27l1.65 0.95v1.91l-1.65 0.95l-1.65-0.95v-1.91z" fill="#e2430a" stroke="#e2430a" stroke-width="0.3"/>
<path d="M583.4 128.12l1.65 0.95v1.91l-1.65 0.95l-1.65-0.95v-1.91zM585.1 165.27l1.65 0.95v1.91l-1.65 0.95l-1.65-0.95v-1.91zM608.2 153.84l1.65 0.95v1.91l-1.65 0.95l-1.65-0.95v-1.91z" fill="#467df4" stroke="#467df4" stroke-width="0.3"/>
<path d="M588.4 148.13l1.65 0.95v1.91l-1.65 0.95l-1.65-0.95v-1.91z" fill="#fc8423" stroke="#fc8423" stroke-width="0.3"/>
<path d="M588.4 159.56l1.65 0.95v1.91l-1.65 0.95l-1.65-0.95v-1.91zM598.3 153.84l1.65 0.95v1.91l-1.65 0.95l-1.65-0.95v-1.91z" fill="#20c7df" stroke="#20c7df" stroke-width="0.3"/>
<path d="M581.8 165.27l1.65 0.95v1.91l-1.65 0.95l-1.65-0.95v-1.91zM595.0 165.27l1.65 0.95v1.91l-1.65 0.95l-1.65-0.95v-1.91zM599.9 162.42l1.65 0.95v1.91l-1.65 0.95l-1.65-0.95v-1.91zM568.6 148.13l1.65 0.95v1.91l-1.65 0.95l-1.65-0.95v-1.91z" fill="#4687fb" stroke="#4687fb" stroke-width="0.3"/>
<path d="M608.2 165.27l1.65 0.95v1.91l-1.65 0.95l-1.65-0.95v-1.91zM606.5 168.13l1.65 0.95v1.91l-1.65 0.95l-1.65-0.95v-1.91zM581.8 176.70l1.65 0.95v1.91l-1.65 0.95l-1.65-0.95v-1.91zM595.0 176.70l1.65 0.95v1.91l-1.65 0.95l-1.65-0.95v-1.91zM590.0 179.56l1.65 0.95v1.91l-1.65 0.95l-1.65-0.95v-1.91zM575.2 125.26l1.65 0.95v1.91l-1.65 0.95l-1.65-0.95v-1.91zM608.2 130.98l1.65 0.95v1.91l-1.65 0.95l-1.65-0.95v-1.91zM611.5 153.84l1.65 0.95v1.91l-1.65 0.95l-1.65-0.95v-1.91z" fill="#4249b1" stroke="#4249b1" stroke-width="0.3"/>
<path d="M599.9 168.13l1.65 0.95v1.91l-1.65 0.95l-1.65-0.95v-1.91zM601.6 130.98l1.65 0.95v1.91l-1.65 0.95l-1.65-0.95v-1.91zM613.1 139.55l1.65 0.95v1.91l-1.65 0.95l-1.65-0.95v-1.91z" fill="#4773eb" stroke="#4773eb" stroke-width="0.3"/>
<path d="M606.5 150.98l1.65 0.95v1.91l-1.65 0.95l-1.65-0.95v-1.91zM608.2 142.41l1.65 0.95v1.91l-1.65 0.95l-1.65-0.95v-1.91z" fill="#38a5fb" stroke="#38a5fb" stroke-width="0.3"/>
<path d="M598.3 142.41l1.65 0.95v1.91l-1.65 0.95l-1.65-0.95v-1.91zM591.7 136.69l1.65 0.95v1.91l-1.65 0.95l-1.65-0.95v-1.91z" fill="#e3db38" stroke="#e3db38" stroke-width="0.3"/>
<path d="M562.0 142.41l1.65 0.95v1.91l-1.65 0.95l-1.65-0.95v-1.91zM614.8 136.69l1.65 0.95v1.91l-1.65 0.95l-1.65-0.95v-1.91zM590.0 122.40l1.65 0.95v1.91l-1.65 0.95l-1.65-0.95v-1.91zM606.5 128.12l1.65 0.95v1.91l-1.65 0.95l-1.65-0.95v-1.91zM599.9 128.12l1.65 0.95v1.91l-1.65 0.95l-1.65-0.95v-1.91z" fill="#4143a7" stroke="#4143a7" stroke-width="0.3"/>
<path d="M555.4 165.27l1.65 0.95v1.91l-1.65 0.95l-1.65-0.95v-1.91zM563.6 179.56l1.65 0.95v1.91l-1.65 0.95l-1.65-0.95v-1.91zM555.4 142.41l1.65 0.95v1.91l-1.65 0.95l-1.65-0.95v-1.91zM585.1 113.83l1.65 0.95v1.91l-1.65 0.95l-1.65-0.95v-1.91zM562.0 130.98l1.65 0.95v1.91l-1.65 0.95l-1.65-0.95v-1.91zM616.4 128.12l1.65 0.95v1.91l-1.65 0.95l-1.65-0.95v-1.91zM578.5 119.55l1.65 0.95v1.91l-1.65 0.95l-1.65-0.95v-1.91zM571.9 182.42l1.65 0.95v1.91l-1.65 0.95l-1.65-0.95v-1.91zM604.9 119.55l1.65 0.95v1.91l-1.65 0.95l-1.65-0.95v-1.91zM623.0 150.98l1.65 0.95v1.91l-1.65 0.95l-1.65-0.95v-1.91zM553.8 156.70l1.65 0.95v1.91l-1.65 0.95l-1.65-0.95v-1.91zM555.4 153.84l1.65 0.95v1.91l-1.65 0.95l-1.65-0.95v-1.91zM568.6 176.70l1.65 0.95v1.91l-1.65 0.95l-1.65-0.95v-1.91zM588.4 113.83l1.65 0.95v1.91l-1.65 0.95l-1.65-0.95v-1.91zM621.4 142.41l1.65 0.95v1.91l-1.65 0.95l-1.65-0.95v-1.91zM619.8 139.55l1.65 0.95v1.91l-1.65 0.95l-1.65-0.95v-1.91zM573.5 179.56l1.65 0.95v1.91l-1.65 0.95l-1.65-0.95v-1.91zM558.7 170.99l1.65 0.95v1.91l-1.65 0.95l-1.65-0.95v-1.91zM558.7 159.56l1.65 0.95v1.91l-1.65 0.95l-1.65-0.95v-1.91zM606.5 122.40l1.65 0.95v1.91l-1.65 0.95l-1.65-0.95v-1.91zM623.0 133.84l1.65 0.95v1.91l-1.65 0.95l-1.65-0.95v-1.91zM563.6 128.12l1.65 0.95v1.91l-1.65 0.95l-1.65-0.95v-1.91zM563.6 173.85l1.65 0.95v1.91l-1.65 0.95l-1.65-0.95v-1.91zM583.4 190.99l1.65 0.95v1.91l-1.65 0.95l-1.65-0.95v-1.91zM593.4 190.99l1.65 0.95v1.91l-1.65 0.95l-1.65-0.95v-1.91z" fill="#38276d" stroke="#38276d" stroke-width="0.3"/>
<path d="M593.4 150.98l1.65 0.95v1.91l-1.65 0.95l-1.65-0.95v-1.91z" fill="#cdec34" stroke="#cdec34" stroke-width="0.3"/>
<path d="M596.6 145.27l1.65 0.95v1.91l-1.65 0.95l-1.65-0.95v-1.91z" fill="#e1dd37" stroke="#e1dd37" stroke-width="0.3"/>
<path d="M586.8 162.42l1.65 0.95v1.91l-1.65 0.95l-1.65-0.95v-1.91z" fill="#35abf8" stroke="#35abf8" stroke-width="0.3"/>
<path d="M596.6 156.70l1.65 0.95v1.91l-1.65 0.95l-1.65-0.95v-1.91zM604.9 136.69l1.65 0.95v1.91l-1.65 0.95l-1.65-0.95v-1.91zM581.8 159.56l1.65 0.95v1.91l-1.65 0.95l-1.65-0.95v-1.91z" fill="#28bceb" stroke="#28bceb" stroke-width="0.3"/>
<path d="M588.4 142.41l1.65 0.95v1.91l-1.65 0.95l-1.65-0.95v-1.91z" fill="#980e01" stroke="#980e01" stroke-width="0.3"/>
<path d="M573.5 139.55l1.65 0.95v1.91l-1.65 0.95l-1.65-0.95v-1.91zM603.2 145.27l1.65 0.95v1.91l-1.65 0.95l-1.65-0.95v-1.91z" fill="#22ebaa" stroke="#22ebaa" stroke-width="0.3"/>
<path d="M576.9 139.55l1.65 0.95v1.91l-1.65 0.95l-1.65-0.95v-1.91z" fill="#80ff53" stroke="#80ff53" stroke-width="0.3"/>
<path d="M578.5 148.13l1.65 0.95v1.91l-1.65 0.95l-1.65-0.95v-1.91z" fill="#acfb38" stroke="#acfb38" stroke-width="0.3"/>
<path d="M588.4 119.55l1.65 0.95v1.91l-1.65 0.95l-1.65-0.95v-1.91zM571.9 125.26l1.65 0.95v1.91l-1.65 0.95l-1.65-0.95v-1.91zM618.1 148.13l1.65 0.95v1.91l-1.65 0.95l-1.65-0.95v-1.91zM614.8 130.98l1.65 0.95v1.91l-1.65 0.95l-1.65-0.95v-1.91zM575.2 182.42l1.65 0.95v1.91l-1.65 0.95l-1.65-0.95v-1.91zM555.4 159.56l1.65 0.95v1.91l-1.65 0.95l-1.65-0.95v-1.91zM570.2 179.56l1.65 0.95v1.91l-1.65 0.95l-1.65-0.95v-1.91zM596.6 116.69l1.65 0.95v1.91l-1.65 0.95l-1.65-0.95v-1.91zM603.2 122.40l1.65 0.95v1.91l-1.65 0.95l-1.65-0.95v-1.91zM618.1 170.99l1.65 0.95v1.91l-1.65 0.95l-1.65-0.95v-1.91zM621.4 159.56l1.65 0.95v1.91l-1.65 0.95l-1.65-0.95v-1.91zM598.3 182.42l1.65 0.95v1.91l-1.65 0.95l-1.65-0.95v-1.91zM623.0 162.42l1.65 0.95v1.91l-1.65 0.95l-1.65-0.95v-1.91zM562.0 165.27l1.65 0.95v1.91l-1.65 0.95l-1.65-0.95v-1.91zM596.6 185.28l1.65 0.95v1.91l-1.65 0.95l-1.65-0.95v-1.91zM596.6 122.40l1.65 0.95v1.91l-1.65 0.95l-1.65-0.95v-1.91zM591.7 119.55l1.65 0.95v1.91l-1.65 0.95l-1.65-0.95v-1.91zM590.0 116.69l1.65 0.95v1.91l-1.65 0.95l-1.65-0.95v-1.91zM618.1 130.98l1.65 0.95v1.91l-1.65 0.95l-1.65-0.95v-1.91z" fill="#3b2f80" stroke="#3b2f80" stroke-width="0.3"/>
<path d="M596.6 150.98l1.65 0.95v1.91l-1.65 0.95l-1.65-0.95v-1.91zM598.3 136.69l1.65 0.95v1.91l-1.65 0.95l-1.65-0.95v-1.91z" fill="#8bff4b" stroke="#8bff4b" stroke-width="0.3"/>
<path d="M601.6 165.27l1.65 0.95v1.91l-1.65 0.95l-1.65-0.95v-1.91zM580.1 168.13l1.65 0.95v1.91l-1.65 0.95l-1.65-0.95v-1.91zM571.9 159.56l1.65 0.95v1.91l-1.65 0.95l-1.65-0.95v-1.91zM568.6 136.69l1.65 0.95v1.91l-1.65 0.95l-1.65-0.95v-1.91zM609.9 150.98l1.65 0.95v1.91l-1.65 0.95l-1.65-0.95v-1.91z" fill="#4771e9" stroke="#4771e9" stroke-width="0.3"/>
<path d="M601.6 125.26l1.65 0.95v1.91l-1.65 0.95l-1.65-0.95v-1.91zM580.1 122.40l1.65 0.95v1.91l-1.65 0.95l-1.65-0.95v-1.91zM566.9 168.13l1.65 0.95v1.91l-1.65 0.95l-1.65-0.95v-1.91zM614.8 170.99l1.65 0.95v1.91l-1.65 0.95l-1.65-0.95v-1.91zM611.5 170.99l1.65 0.95v1.91l-1.65 0.95l-1.65-0.95v-1.91zM619.8 150.98l1.65 0.95v1.91l-1.65 0.95l-1.65-0.95v-1.91zM613.1 133.84l1.65 0.95v1.91l-1.65 0.95l-1.65-0.95v-1.91zM586.8 116.69l1.65 0.95v1.91l-1.65 0.95l-1.65-0.95v-1.91zM590.0 185.28l1.65 0.95v1.91l-1.65 0.95l-1.65-0.95v-1.91zM616.4 162.42l1.65 0.95v1.91l-1.65 0.95l-1.65-0.95v-1.91zM570.2 122.40l1.65 0.95v1.91l-1.65 0.95l-1.65-0.95v-1.91zM616.4 168.13l1.65 0.95v1.91l-1.65 0.95l-1.65-0.95v-1.91zM570.2 128.12l1.65 0.95v1.91l-1.65 0.95l-1.65-0.95v-1.91zM578.5 176.70l1.65 0.95v1.91l-1.65 0.95l-1.65-0.95v-1.91zM616.4 145.27l1.65 0.95v1.91l-1.65 0.95l-1.65-0.95v-1.91zM606.5 179.56l1.65 0.95v1.91l-1.65 0.95l-1.65-0.95v-1.91zM558.7 148.13l1.65 0.95v1.91l-1.65 0.95l-1.65-0.95v-1.91z" fill="#3d358b" stroke="#3d358b" stroke-width="0.3"/>
<path d="M591.7 153.84l1.65 0.95v1.91l-1.65 0.95l-1.65-0.95v-1.91zM590.0 133.84l1.65 0.95v1.91l-1.65 0.95l-1.65-0.95v-1.91z" fill="#55fa76" stroke="#55fa76" stroke-width="0.3"/>
<path d="M609.9 173.85l1.65 0.95v1.91l-1.65 0.95l-1.65-0.95v-1.91zM601.6 170.99l1.65 0.95v1.91l-1.65 0.95l-1.65-0.95v-1.91zM596.6 179.56l1.65 0.95v1.91l-1.65 0.95l-1.65-0.95v-1.91zM586.8 122.40l1.65 0.95v1.91l-1.65 0.95l-1.65-0.95v-1.91zM570.2 173.85l1.65 0.95v1.91l-1.65 0.95l-1.65-0.95v-1.91zM563.6 162.42l1.65 0.95v1.91l-1.65 0.95l-1.65-0.95v-1.91zM608.2 176.70l1.65 0.95v1.91l-1.65 0.95l-1.65-0.95v-1.91zM565.3 159.56l1.65 0.95v1.91l-1.65 0.95l-1.65-0.95v-1.91zM581.8 182.42l1.65 0.95v1.91l-1.65 0.95l-1.65-0.95v-1.91z" fill="#3e3891" stroke="#3e3891" stroke-width="0.3"/>
<path d="M585.1 136.69l1.65 0.95v1.91l-1.65 0.95l-1.65-0.95v-1.91z" fill="#9cfe40" stroke="#9cfe40" stroke-width="0.3"/>
<path d="M581.8 108.12l1.65 0.95v1.91l-1.65 0.95l-1.65-0.95v-1.91zM613.1 179.56l1.65 0.95v1.91l-1.65 0.95l-1.65-0.95v-1.91zM568.6 188.14l1.65 0.95v1.91l-1.65 0.95l-1.65-0.95v-1.91zM624.7 159.56l1.65 0.95v1.91l-1.65 0.95l-1.65-0.95v-1.91zM585.1 193.85l1.65 0.95v1.91l-1.65 0.95l-1.65-0.95v-1.91zM626.4 162.42l1.65 0.95v1.91l-1.65 0.95l-1.65-0.95v-1.91zM552.1 153.84l1.65 0.95v1.91l-1.65 0.95l-1.65-0.95v-1.91zM553.8 168.13l1.65 0.95v1.91l-1.65 0.95l-1.65-0.95v-1.91zM601.6 108.12l1.65 0.95v1.91l-1.65 0.95l-1.65-0.95v-1.91zM547.1 145.27l1.65 0.95v1.91l-1.65 0.95l-1.65-0.95v-1.91zM553.8 150.98l1.65 0.95v1.91l-1.65 0.95l-1.65-0.95v-1.91zM613.1 110.97l1.65 0.95v1.91l-1.65 0.95l-1.65-0.95v-1.91zM626.4 122.40l1.65 0.95v1.91l-1.65 0.95l-1.65-0.95v-1.91zM553.8 133.84l1.65 0.95v1.91l-1.65 0.95l-1.65-0.95v-1.91zM568.6 119.55l1.65 0.95v1.91l-1.65 0.95l-1.65-0.95v-1.91zM588.4 193.85l1.65 0.95v1.91l-1.65 0.95l-1.65-0.95v-1.91zM562.0 182.42l1.65 0.95v1.91l-1.65 0.95l-1.65-0.95v-1.91zM596.6 99.54l1.65 0.95v1.91l-1.65 0.95l-1.65-0.95v-1.91zM596.6 190.99l1.65 0.95v1.91l-1.65 0.95l-1.65-0.95v-1.91zM618.1 182.42l1.65 0.95v1.91l-1.65 0.95l-1.65-0.95v-1.91zM595.0 108.12l1.65 0.95v1.91l-1.65 0.95l-1.65-0.95v-1.91zM580.1 196.71l1.65 0.95v1.91l-1.65 0.95l-1.65-0.95v-1.91zM550.4 150.98l1.65 0.95v1.91l-1.65 0.95l-1.65-0.95v-1.91zM555.4 170.99l1.65 0.95v1.91l-1.65 0.95l-1.65-0.95v-1.91zM590.0 196.71l1.65 0.95v1.91l-1.65 0.95l-1.65-0.95v-1.91zM626.4 150.98l1.65 0.95v1.91l-1.65 0.95l-1.65-0.95v-1.91zM604.9 113.83l1.65 0.95v1.91l-1.65 0.95l-1.65-0.95v-1.91zM616.4 116.69l1.65 0.95v1.91l-1.65 0.95l-1.65-0.95v-1.91zM598.3 193.85l1.65 0.95v1.91l-1.65 0.95l-1.65-0.95v-1.91zM631.3 165.27l1.65 0.95v1.91l-1.65 0.95l-1.65-0.95v-1.91zM611.5 113.83l1.65 0.95v1.91l-1.65 0.95l-1.65-0.95v-1.91zM560.4 122.40l1.65 0.95v1.91l-1.65 0.95l-1.65-0.95v-1.91zM619.8 128.12l1.65 0.95v1.91l-1.65 0.95l-1.65-0.95v-1.91zM552.1 148.13l1.65 0.95v1.91l-1.65 0.95l-1.65-0.95v-1.91zM613.1 116.69l1.65 0.95v1.91l-1.65 0.95l-1.65-0.95v-1.91z" fill="#33184a" stroke="#33184a" stroke-width="0.3"/>
<path d="M590.0 173.85l1.65 0.95v1.91l-1.65 0.95l-1.65-0.95v-1.91zM568.6 153.84l1.65 0.95v1.91l-1.65 0.95l-1.65-0.95v-1.91zM593.4 128.12l1.65 0.95v1.91l-1.65 0.95l-1.65-0.95v-1.91zM570.2 133.84l1.65 0.95v1.91l-1.65 0.95l-1.65-0.95v-1.91z" fill="#476ee6" stroke="#476ee6" stroke-width="0.3"/>
<path d="M576.9 116.69l1.65 0.95v1.91l-1.65 0.95l-1.65-0.95v-1.91zM557.0 139.55l1.65 0.95v1.91l-1.65 0.95l-1.65-0.95v-1.91zM563.6 122.40l1.65 0.95v1.91l-1.65 0.95l-1.65-0.95v-1.91zM591.7 113.83l1.65 0.95v1.91l-1.65 0.95l-1.65-0.95v-1.91zM623.0 145.27l1.65 0.95v1.91l-1.65 0.95l-1.65-0.95v-1.91zM552.1 159.56l1.65 0.95v1.91l-1.65 0.95l-1.65-0.95v-1.91zM616.4 185.28l1.65 0.95v1.91l-1.65 0.95l-1.65-0.95v-1.91zM626.4 145.27l1.65 0.95v1.91l-1.65 0.95l-1.65-0.95v-1.91zM632.9 156.70l1.65 0.95v1.91l-1.65 0.95l-1.65-0.95v-1.91zM623.0 168.13l1.65 0.95v1.91l-1.65 0.95l-1.65-0.95v-1.91zM609.9 116.69l1.65 0.95v1.91l-1.65 0.95l-1.65-0.95v-1.91zM609.9 185.28l1.65 0.95v1.91l-1.65 0.95l-1.65-0.95v-1.91zM560.4 173.85l1.65 0.95v1.91l-1.65 0.95l-1.65-0.95v-1.91zM593.4 185.28l1.65 0.95v1.91l-1.65 0.95l-1.65-0.95v-1.91zM611.5 176.70l1.65 0.95v1.91l-1.65 0.95l-1.65-0.95v-1.91zM624.7 148.13l1.65 0.95v1.91l-1.65 0.95l-1.65-0.95v-1.91zM553.8 139.55l1.65 0.95v1.91l-1.65 0.95l-1.65-0.95v-1.91zM591.7 193.85l1.65 0.95v1.91l-1.65 0.95l-1.65-0.95v-1.91zM621.4 170.99l1.65 0.95v1.91l-1.65 0.95l-1.65-0.95v-1.91zM614.8 125.26l1.65 0.95v1.91l-1.65 0.95l-1.65-0.95v-1.91zM624.7 136.69l1.65 0.95v1.91l-1.65 0.95l-1.65-0.95v-1.91zM576.9 190.99l1.65 0.95v1.91l-1.65 0.95l-1.65-0.95v-1.91zM570.2 185.28l1.65 0.95v1.91l-1.65 0.95l-1.65-0.95v-1.91zM628.0 159.56l1.65 0.95v1.91l-1.65 0.95l-1.65-0.95v-1.91zM557.0 133.84l1.65 0.95v1.91l-1.65 0.95l-1.65-0.95v-1.91z" fill="#351e58" stroke="#351e58" stroke-width="0.3"/>
<path d="M580.1 145.27l1.65 0.95v1.91l-1.65 0.95l-1.65-0.95v-1.91z" fill="#ebd339" stroke="#ebd339" stroke-width="0.3"/>
<path d="M590.0 156.70l1.65 0.95v1.91l-1.65 0.95l-1.65-0.95v-1.91z" fill="#1ae4b6" stroke="#1ae4b6" stroke-width="0.3"/>
<path d="M578.5 130.98l1.65 0.95v1.91l-1.65 0.95l-1.65-0.95v-1.91zM578.5 159.56l1.65 0.95v1.91l-1.65 0.95l-1.65-0.95v-1.91zM566.9 139.55l1.65 0.95v1.91l-1.65 0.95l-1.65-0.95v-1.91z" fill="#458cfd" stroke="#458cfd" stroke-width="0.3"/>
<path d="M583.4 162.42l1.65 0.95v1.91l-1.65 0.95l-1.65-0.95v-1.91z" fill="#4196ff" stroke="#4196ff" stroke-width="0.3"/>
<path d="M576.9 150.98l1.65 0.95v1.91l-1.65 0.95l-1.65-0.95v-1.91zM578.5 153.84l1.65 0.95v1.91l-1.65 0.95l-1.65-0.95v-1.91z" fill="#18e0bd" stroke="#18e0bd" stroke-width="0.3"/>
<path d="M593.4 156.70l1.65 0.95v1.91l-1.65 0.95l-1.65-0.95v-1.91zM596.6 133.84l1.65 0.95v1.91l-1.65 0.95l-1.65-0.95v-1.91zM601.6 136.69l1.65 0.95v1.91l-1.65 0.95l-1.65-0.95v-1.91z" fill="#18dbc5" stroke="#18dbc5" stroke-width="0.3"/>
<path d="M603.2 150.98l1.65 0.95v1.91l-1.65 0.95l-1.65-0.95v-1.91zM595.0 153.84l1.65 0.95v1.91l-1.65 0.95l-1.65-0.95v-1.91z" fill="#19e2bb" stroke="#19e2bb" stroke-width="0.3"/>
<path d="M573.5 150.98l1.65 0.95v1.91l-1.65 0.95l-1.65-0.95v-1.91zM606.5 139.55l1.65 0.95v1.91l-1.65 0.95l-1.65-0.95v-1.91z" fill="#1fc9dd" stroke="#1fc9dd" stroke-width="0.3"/>
<path d="M573.5 145.27l1.65 0.95v1.91l-1.65 0.95l-1.65-0.95v-1.91z" fill="#52fa7a" stroke="#52fa7a" stroke-width="0.3"/>
<path d="M595.0 148.13l1.65 0.95v1.91l-1.65 0.95l-1.65-0.95v-1.91zM578.5 142.41l1.65 0.95v1.91l-1.65 0.95l-1.65-0.95v-1.91z" fill="#eecf3a" stroke="#eecf3a" stroke-width="0.3"/>
<path d="M588.4 130.98l1.65 0.95v1.91l-1.65 0.95l-1.65-0.95v-1.91z" fill="#2fb2f4" stroke="#2fb2f4" stroke-width="0.3"/>
<path d="M586.8 145.27l1.65 0.95v1.91l-1.65 0.95l-1.65-0.95v-1.91z" fill="#d83706" stroke="#d83706" stroke-width="0.3"/>
<path d="M583.4 133.84l1.65 0.95v1.91l-1.65 0.95l-1.65-0.95v-1.91zM581.8 153.84l1.65 0.95v1.91l-1.65 0.95l-1.65-0.95v-1.91z" fill="#25eca7" stroke="#25eca7" stroke-width="0.3"/>
<path d="M606.5 133.84l1.65 0.95v1.91l-1.65 0.95l-1.65-0.95v-1.91z" fill="#4294ff" stroke="#4294ff" stroke-width="0.3"/>
<path d="M578.5 170.99l1.65 0.95v1.91l-1.65 0.95l-1.65-0.95v-1.91zM591.7 176.70l1.65 0.95v1.91l-1.65 0.95l-1.65-0.95v-1.91z" fill="#4664da" stroke="#4664da" stroke-width="0.3"/>
<path d="M571.9 148.13l1.65 0.95v1.91l-1.65 0.95l-1.65-0.95v-1.91z" fill="#1fe9af" stroke="#1fe9af" stroke-width="0.3"/>
<path d="M606.5 156.70l1.65 0.95v1.91l-1.65 0.95l-1.65-0.95v-1.91zM586.8 128.12l1.65 0.95v1.91l-1.65 0.95l-1.65-0.95v-1.91z" fill="#4776ee" stroke="#4776ee" stroke-width="0.3"/>
<path d="M591.7 159.56l1.65 0.95v1.91l-1.65 0.95l-1.65-0.95v-1.91z" fill="#2eb4f2" stroke="#2eb4f2" stroke-width="0.3"/>
<path d="M611.5 142.41l1.65 0.95v1.91l-1.65 0.95l-1.65-0.95v-1.91z" fill="#448ffe" stroke="#448ffe" stroke-width="0.3"/>
<path d="M601.6 148.13l1.65 0.95v1.91l-1.65 0.95l-1.65-0.95v-1.91z" fill="#79fe59" stroke="#79fe59" stroke-width="0.3"/>
<path d="M604.9 142.41l1.65 0.95v1.91l-1.65 0.95l-1.65-0.95v-1.91z" fill="#32f298" stroke="#32f298" stroke-width="0.3"/>
<path d="M604.9 148.13l1.65 0.95v1.91l-1.65 0.95l-1.65-0.95v-1.91zM575.2 136.69l1.65 0.95v1.91l-1.65 0.95l-1.65-0.95v-1.91z" fill="#1ad2d2" stroke="#1ad2d2" stroke-width="0.3"/>
<path d="M598.3 148.13l1.65 0.95v1.91l-1.65 0.95l-1.65-0.95v-1.91z" fill="#bcf534" stroke="#bcf534" stroke-width="0.3"/>
<path d="M570.2 150.98l1.65 0.95v1.91l-1.65 0.95l-1.65-0.95v-1.91z" fill="#3aa3fc" stroke="#3aa3fc" stroke-width="0.3"/>
<path d="M593.4 173.85l1.65 0.95v1.91l-1.65 0.95l-1.65-0.95v-1.91z" fill="#4666dd" stroke="#4666dd" stroke-width="0.3"/>
<path d="M593.4 145.27l1.65 0.95v1.91l-1.65 0.95l-1.65-0.95v-1.91z" fill="#f36315" stroke="#f36315" stroke-width="0.3"/>
<path d="M598.3 130.98l1.65 0.95v1.91l-1.65 0.95l-1.65-0.95v-1.91zM573.5 133.84l1.65 0.95v1.91l-1.65 0.95l-1.65-0.95v-1.91zM575.2 159.56l1.65 0.95v1.91l-1.65 0.95l-1.65-0.95v-1.91zM603.2 133.84l1.65 0.95v1.91l-1.65 0.95l-1.65-0.95v-1.91z" fill="#4391fe" stroke="#4391fe" stroke-width="0.3"/>
<path d="M603.2 139.55l1.65 0.95v1.91l-1.65 0.95l-1.65-0.95v-1.91zM593.4 133.84l1.65 0.95v1.91l-1.65 0.95l-1.65-0.95v-1.91z" fill="#2aefa1" stroke="#2aefa1" stroke-width="0.3"/>
<path d="M563.6 139.55l1.65 0.95v1.91l-1.65 0.95l-1.65-0.95v-1.91zM571.9 130.98l1.65 0.95v1.91l-1.65 0.95l-1.65-0.95v-1.91zM604.9 170.99l1.65 0.95v1.91l-1.65 0.95l-1.65-0.95v-1.91z" fill="#455ccf" stroke="#455ccf" stroke-width="0.3"/>
<path d="M599.9 150.98l1.65 0.95v1.91l-1.65 0.95l-1.65-0.95v-1.91z" fill="#46f884" stroke="#46f884" stroke-width="0.3"/>
<path d="M576.9 145.27l1.65 0.95v1.91l-1.65 0.95l-1.65-0.95v-1.91z" fill="#b1f936" stroke="#b1f936" stroke-width="0.3"/>
<path d="M586.8 150.98l1.65 0.95v1.91l-1.65 0.95l-1.65-0.95v-1.91z" fill="#f6c33a" stroke="#f6c33a" stroke-width="0.3"/>
<path d="M599.9 139.55l1.65 0.95v1.91l-1.65 0.95l-1.65-0.95v-1.91z" fill="#61fc6c" stroke="#61fc6c" stroke-width="0.3"/>
<path d="M596.6 162.42l1.65 0.95v1.91l-1.65 0.95l-1.65-0.95v-1.91zM598.3 165.27l1.65 0.95v1.91l-1.65 0.95l-1.65-0.95v-1.91z" fill="#4099ff" stroke="#4099ff" stroke-width="0.3"/>
<path d="M583.4 139.55l1.65 0.95v1.91l-1.65 0.95l-1.65-0.95v-1.91z" fill="#efcd3a" stroke="#efcd3a" stroke-width="0.3"/>
<path d="M575.2 148.13l1.65 0.95v1.91l-1.65 0.95l-1.65-0.95v-1.91zM578.5 136.69l1.65 0.95v1.91l-1.65 0.95l-1.65-0.95v-1.91z" fill="#38f491" stroke="#38f491" stroke-width="0.3"/>
<path d="M570.2 139.55l1.65 0.95v1.91l-1.65 0.95l-1.65-0.95v-1.91z" fill="#23c3e4" stroke="#23c3e4" stroke-width="0.3"/>
<path d="M596.6 139.55l1.65 0.95v1.91l-1.65 0.95l-1.65-0.95v-1.91z" fill="#f8be39" stroke="#f8be39" stroke-width="0.3"/>
<path d="M604.9 153.84l1.65 0.95v1.91l-1.65 0.95l-1.65-0.95v-1.91zM609.9 139.55l1.65 0.95v1.91l-1.65 0.95l-1.65-0.95v-1.91z" fill="#3ba0fd" stroke="#3ba0fd" stroke-width="0.3"/>
<path d="M595.0 130.98l1.65 0.95v1.91l-1.65 0.95l-1.65-0.95v-1.91z" fill="#2cb7f0" stroke="#2cb7f0" stroke-width="0.3"/>
<path d="M590.0 145.27l1.65 0.95v1.91l-1.65 0.95l-1.65-0.95v-1.91z" fill="#be2102" stroke="#be2102" stroke-width="0.3"/>
<path d="M599.9 133.84l1.65 0.95v1.91l-1.65 0.95l-1.65-0.95v-1.91z" fill="#19d5cd" stroke="#19d5cd" stroke-width="0.3"/>
<path d="M603.2 173.85l1.65 0.95v1.91l-1.65 0.95l-1.65-0.95v-1.91z" fill="#4451bf" stroke="#4451bf" stroke-width="0.3"/>
<line x1="510.50" y1="30.50" x2="510.50" y2="278.00" stroke="#000" stroke-width="2.0"/>
<line x1="430.30" y1="154.10" x2="694.50" y2="154.10" stroke="#000" stroke-width="2.0"/>
<line x1="430.30" y1="30.50" x2="430.30" y2="279.00" stroke="#000" stroke-width="2.2"/>
<line x1="429.20" y1="278.00" x2="694.50" y2="278.00" stroke="#000" stroke-width="2.2"/>
<line x1="424.30" y1="64.10" x2="430.30" y2="64.10" stroke="#000" stroke-width="2.0"/>
<text x="419.5" y="70.4" font-size="17.8" text-anchor="end">0.2</text>
<line x1="424.30" y1="109.10" x2="430.30" y2="109.10" stroke="#000" stroke-width="2.0"/>
<text x="419.5" y="115.4" font-size="17.8" text-anchor="end">0.1</text>
<line x1="424.30" y1="154.10" x2="430.30" y2="154.10" stroke="#000" stroke-width="2.0"/>
<text x="419.5" y="160.4" font-size="17.8" text-anchor="end">0.0</text>
<line x1="424.30" y1="199.10" x2="430.30" y2="199.10" stroke="#000" stroke-width="2.0"/>
<text x="419.5" y="205.4" font-size="17.8" text-anchor="end">−0.1</text>
<line x1="424.30" y1="244.10" x2="430.30" y2="244.10" stroke="#000" stroke-width="2.0"/>
<text x="419.5" y="250.4" font-size="17.8" text-anchor="end">−0.2</text>
<line x1="442.00" y1="278.00" x2="442.00" y2="284.00" stroke="#000" stroke-width="2.0"/>
<text x="442.0" y="300.8" font-size="17.8" text-anchor="middle">−0.2</text>
<line x1="510.50" y1="278.00" x2="510.50" y2="284.00" stroke="#000" stroke-width="2.0"/>
<text x="510.5" y="300.8" font-size="17.8" text-anchor="middle">0.0</text>
<line x1="579.20" y1="278.00" x2="579.20" y2="284.00" stroke="#000" stroke-width="2.0"/>
<text x="579.2" y="300.8" font-size="17.8" text-anchor="middle">0.2</text>
<line x1="647.60" y1="278.00" x2="647.60" y2="284.00" stroke="#000" stroke-width="2.0"/>
<text x="647.6" y="300.8" font-size="17.8" text-anchor="middle">0.4</text>
<text x="437.7" y="55.6" font-size="22.6">0%</text>
<text x="437.7" y="270.0" font-size="22.6">0%</text>
<text x="689.0" y="55.0" font-size="22.6" text-anchor="end">77%</text>
<text x="689.0" y="270.0" font-size="22.6" text-anchor="end">23%</text>
<text x="428.3" y="325.6" font-size="20.8" textLength="262" lengthAdjust="spacingAndGlyphs">−<tspan dx="3">log</tspan><tspan font-size="14.5" dy="4.5">2</tspan><tspan dy="-4.5">(fold change): children</tspan></text>
<text transform="translate(378.3 287.8) rotate(-90)" x="0" y="0" font-size="20.8" textLength="263" lengthAdjust="spacingAndGlyphs">−<tspan dx="3">log</tspan><tspan font-size="14.5" dy="4.5">2</tspan><tspan dy="-4.5">(fold change): mothers</tspan></text>
<defs><linearGradient id="gtur" x1="0" y1="1" x2="0" y2="0"><stop offset="0.000" stop-color="#30123b"/><stop offset="0.033" stop-color="#392a73"/><stop offset="0.067" stop-color="#4143a7"/><stop offset="0.100" stop-color="#4559cb"/><stop offset="0.133" stop-color="#4771e9"/><stop offset="0.167" stop-color="#4685fa"/><stop offset="0.200" stop-color="#3e9bfe"/><stop offset="0.233" stop-color="#31aff5"/><stop offset="0.267" stop-color="#22c5e2"/><stop offset="0.300" stop-color="#19d5cd"/><stop offset="0.333" stop-color="#1ae4b6"/><stop offset="0.367" stop-color="#2aefa1"/><stop offset="0.400" stop-color="#46f884"/><stop offset="0.433" stop-color="#65fd69"/><stop offset="0.467" stop-color="#88ff4e"/><stop offset="0.500" stop-color="#a4fc3c"/><stop offset="0.533" stop-color="#b9f635"/><stop offset="0.567" stop-color="#d0ea34"/><stop offset="0.600" stop-color="#e1dd37"/><stop offset="0.633" stop-color="#f1cb3a"/><stop offset="0.667" stop-color="#faba39"/><stop offset="0.700" stop-color="#fea431"/><stop offset="0.733" stop-color="#fd8d27"/><stop offset="0.767" stop-color="#f8721c"/><stop offset="0.800" stop-color="#f05b12"/><stop offset="0.833" stop-color="#e4450a"/><stop offset="0.867" stop-color="#d63506"/><stop offset="0.900" stop-color="#c32503"/><stop offset="0.933" stop-color="#af1801"/><stop offset="0.967" stop-color="#950d01"/><stop offset="1.000" stop-color="#7a0403"/></linearGradient></defs>
<rect x="710.30" y="76.40" width="12.50" height="185.40" fill="url(#gtur)"/>
<text x="706.2" y="64.2" font-size="21">count</text>
<line x1="710.30" y1="122.20" x2="712.80" y2="122.20" stroke="#fff" stroke-width="1.1"/>
<line x1="720.30" y1="122.20" x2="722.80" y2="122.20" stroke="#fff" stroke-width="1.1"/>
<text x="726.0" y="128.5" font-size="17.8">300</text>
<line x1="710.30" y1="169.40" x2="712.80" y2="169.40" stroke="#fff" stroke-width="1.1"/>
<line x1="720.30" y1="169.40" x2="722.80" y2="169.40" stroke="#fff" stroke-width="1.1"/>
<text x="726.0" y="175.7" font-size="17.8">200</text>
<line x1="710.30" y1="216.70" x2="712.80" y2="216.70" stroke="#fff" stroke-width="1.1"/>
<line x1="720.30" y1="216.70" x2="722.80" y2="216.70" stroke="#fff" stroke-width="1.1"/>
<text x="726.0" y="223.0" font-size="17.8">100</text>
<text x="786.0" y="26.0" font-size="36" font-weight="bold">c</text>
<defs><pattern id="hatchS" patternUnits="userSpaceOnUse" width="20" height="7.45" patternTransform="rotate(-28) translate(0 3.9)"><rect width="20" height="7.45" fill="#fff"/><rect width="20" height="3.5" fill="#f8837a"/></pattern><pattern id="hatchK" patternUnits="userSpaceOnUse" width="20" height="9.5" patternTransform="rotate(-28)"><rect width="20" height="9.5" fill="#fff"/><rect width="20" height="2.5" fill="#333"/></pattern></defs>
<rect x="905.80" y="36.70" width="57.00" height="8.00" fill="#f8837a"/>
<rect x="905.80" y="47.80" width="57.00" height="167.80" fill="url(#hatchS)"/>
<rect x="973.20" y="36.50" width="57.00" height="47.10" fill="#2c3a4e"/>
<rect x="973.20" y="87.40" width="57.00" height="128.20" fill="#f8837a"/>
<line x1="893.80" y1="25.70" x2="893.80" y2="226.90" stroke="#000" stroke-width="2.9"/>
<line x1="892.40" y1="225.50" x2="1040.50" y2="225.50" stroke="#000" stroke-width="2.9"/>
<line x1="887.50" y1="34.70" x2="893.60" y2="34.70" stroke="#000" stroke-width="2.2"/>
<text x="881.5" y="41.3" font-size="18.8" text-anchor="end">1.00</text>
<line x1="887.50" y1="80.35" x2="893.60" y2="80.35" stroke="#000" stroke-width="2.2"/>
<text x="881.5" y="87.0" font-size="18.8" text-anchor="end">0.75</text>
<line x1="887.50" y1="126.00" x2="893.60" y2="126.00" stroke="#000" stroke-width="2.2"/>
<text x="881.5" y="132.6" font-size="18.8" text-anchor="end">0.50</text>
<line x1="887.50" y1="171.65" x2="893.60" y2="171.65" stroke="#000" stroke-width="2.2"/>
<text x="881.5" y="178.2" font-size="18.8" text-anchor="end">0.25</text>
<line x1="887.50" y1="217.30" x2="893.60" y2="217.30" stroke="#000" stroke-width="2.2"/>
<text x="881.5" y="223.9" font-size="18.8" text-anchor="end">0.00</text>
<line x1="934.20" y1="225.50" x2="934.20" y2="232.50" stroke="#000" stroke-width="2.2"/>
<line x1="1000.90" y1="225.50" x2="1000.90" y2="232.50" stroke="#000" stroke-width="2.2"/>
<text x="878.8" y="255.9" font-size="20">child:18wk</text>
<text x="981.7" y="255.9" font-size="20">mother</text>
<text x="840.5" y="126.8" font-size="22" text-anchor="middle" transform="rotate(-90 840.5 126.8)">relative count</text>
<text x="1053.0" y="39.3" font-size="19.9">change with</text>
<text x="1053.0" y="58.0" font-size="19.9">poor growth</text>
<rect x="1059.40" y="67.40" width="27.00" height="27.00" fill="#2c3a4e" stroke="#111" stroke-width="1.2"/>
<rect x="1059.40" y="98.50" width="27.00" height="27.00" fill="#f8837a" stroke="#111" stroke-width="1.2"/>
<text x="1111.0" y="87.3" font-size="19.9">down</text>
<text x="1111.0" y="114.7" font-size="19.9">up</text>
<text x="1053.0" y="152.7" font-size="19.9">significant</text>
<rect x="1059.30" y="162.20" width="27.00" height="26.40" fill="#fff" stroke="#111" stroke-width="1.6"/>
<rect x="1059.30" y="193.00" width="27.00" height="27.20" fill="url(#hatchK)" stroke="#111" stroke-width="1.6"/>
<text x="1111.5" y="180.4" font-size="19.9">no</text>
<text x="1111.5" y="207.3" font-size="19.9">yes</text>
<text x="704.2" y="319.9" font-size="36" font-weight="bold">e</text>
<rect x="736.0" y="294.2" width="462.0" height="224.8" rx="8" fill="#f4f8fa" stroke="#555" stroke-width="1.5"/>
<text x="823.5" y="319.6" font-size="20.3" text-anchor="middle" font-weight="bold">Region</text>
<text x="823.5" y="346.7" font-size="20.3" text-anchor="middle" font-weight="bold">classification</text>
<text x="823.5" y="371.3" font-size="20.3" text-anchor="middle" font-weight="bold">mothers-children</text>
<g transform="translate(928.6 304.1)" fill="#000"><circle cx="0" cy="0" r="3.3"/><path d="M-3.9 3.9H3.9L5.8 19.8H-5.8Z"/><path d="M-3.2 4.6L-7.8 13.8M3.2 4.6L7.8 13.8" stroke="#000" stroke-width="2.1" stroke-linecap="round"/><rect x="-3.4" y="18" width="2.7" height="13.4" rx="1.2"/><rect x="0.5" y="18" width="2.7" height="13.4" rx="1.2"/></g>
<g transform="translate(931.7 361.4)" fill="#000"><circle cx="0" cy="0" r="3.3"/><path d="M-3.9 3.9H3.9L5.8 19.8H-5.8Z"/><path d="M-3.2 4.6L-7.8 13.8M3.2 4.6L7.8 13.8" stroke="#000" stroke-width="2.1" stroke-linecap="round"/><rect x="-3.4" y="18" width="2.7" height="13.4" rx="1.2"/><rect x="0.5" y="18" width="2.7" height="13.4" rx="1.2"/></g>
<g transform="translate(948.3 323.8) scale(1.0)" fill="#4ab2b4"><circle cx="0" cy="0" r="3.2"/><rect x="-11.2" y="3.0" width="9.2" height="5.4" rx="2.6"/><path d="M-3.4 5L0.6 11.2" stroke="#4ab2b4" stroke-width="3.0" stroke-linecap="round"/><rect x="-13.8" y="9.1" width="8.6" height="3.2" rx="1.6"/><rect x="-10" y="7" width="4.6" height="3.4"/></g>
<g transform="translate(948.3 343.9) scale(1.0)" fill="#4ab2b4"><circle cx="0" cy="0" r="3.2"/><rect x="-11.2" y="3.0" width="9.2" height="5.4" rx="2.6"/><path d="M-3.4 5L0.6 11.2" stroke="#4ab2b4" stroke-width="3.0" stroke-linecap="round"/><rect x="-13.8" y="9.1" width="8.6" height="3.2" rx="1.6"/><rect x="-10" y="7" width="4.6" height="3.4"/></g>
<g transform="translate(948.8 383.7) scale(0.88)" fill="#e04b47"><circle cx="0" cy="0" r="3.2"/><rect x="-11.2" y="3.0" width="9.2" height="5.4" rx="2.6"/><path d="M-3.4 5L0.6 11.2" stroke="#e04b47" stroke-width="3.0" stroke-linecap="round"/><rect x="-13.8" y="9.1" width="8.6" height="3.2" rx="1.6"/><rect x="-10" y="7" width="4.6" height="3.4"/></g>
<g transform="translate(948.7 400.8) scale(0.88)" fill="#e04b47"><circle cx="0" cy="0" r="3.2"/><rect x="-11.2" y="3.0" width="9.2" height="5.4" rx="2.6"/><path d="M-3.4 5L0.6 11.2" stroke="#e04b47" stroke-width="3.0" stroke-linecap="round"/><rect x="-13.8" y="9.1" width="8.6" height="3.2" rx="1.6"/><rect x="-10" y="7" width="4.6" height="3.4"/></g>
<rect x="987.80" y="315.05" width="30.00" height="6.70" fill="#000"/>
<rect x="1053.10" y="315.05" width="29.90" height="6.70" fill="#000"/>
<rect x="1143.80" y="315.05" width="29.90" height="6.70" fill="#000"/>
<rect x="994.10" y="344.75" width="29.70" height="6.70" fill="#000"/>
<rect x="1051.00" y="344.75" width="29.80" height="6.70" fill="#000"/>
<rect x="990.00" y="372.65" width="30.00" height="6.70" fill="#000"/>
<rect x="1103.30" y="372.65" width="29.90" height="6.70" fill="#000"/>
<rect x="1145.60" y="372.65" width="29.70" height="6.70" fill="#000"/>
<rect x="985.80" y="401.25" width="29.90" height="6.70" fill="#000"/>
<rect x="1103.30" y="401.25" width="29.90" height="6.70" fill="#000"/>
<rect x="1141.50" y="401.25" width="29.70" height="6.70" fill="#000"/>
<text x="749.6" y="450.0" font-size="19.3">merged classified regions:</text>
<rect x="986.00" y="439.00" width="38.00" height="6.40" fill="#b3b3b3"/>
<rect x="1051.00" y="439.00" width="31.60" height="6.40" fill="#4ab2b4"/>
<rect x="1103.60" y="439.00" width="29.40" height="6.40" fill="#e04b47"/>
<rect x="1141.60" y="439.00" width="38.00" height="6.40" fill="#b3b3b3"/>
<line x1="982.00" y1="450.20" x2="1184.00" y2="450.20" stroke="#000" stroke-width="1.6"/>
<path d="M973.5 450.2L984.5 444.4V456Z" fill="#000"/>
<path d="M1192.5 450.2L1181.5 444.4V456Z" fill="#000"/>
<text x="1045.3" y="471.0" font-size="18.6">Genome</text>
<rect x="792.40" y="485.00" width="21.60" height="6.40" fill="#b3b3b3"/>
<rect x="927.00" y="485.00" width="22.00" height="6.40" fill="#4ab2b4"/>
<rect x="1096.00" y="485.00" width="21.40" height="6.40" fill="#e04b47"/>
<text x="803.3" y="513.0" font-size="19.6" text-anchor="middle">other</text>
<text x="938.0" y="513.0" font-size="19.6" text-anchor="middle">shared in health</text>
<text x="1106.5" y="511.0" font-size="19.6" text-anchor="middle">shared in stunting</text>
<text x="610.2" y="549.8" font-size="36" font-weight="bold">f</text>
<rect x="906.40" y="560.70" width="168.11" height="22.40" fill="#c05a55" stroke="#fff" stroke-width="0.8"/>
<line x1="892.00" y1="571.90" x2="898.30" y2="571.90" stroke="#000" stroke-width="2.0"/>
<text x="887.0" y="578.2" font-size="17.9" text-anchor="end">developmental process</text>
<rect x="906.40" y="585.50" width="161.70" height="22.40" fill="#c05a55" stroke="#fff" stroke-width="0.8"/>
<line x1="892.00" y1="596.70" x2="898.30" y2="596.70" stroke="#000" stroke-width="2.0"/>
<text x="887.0" y="603.0" font-size="17.9" text-anchor="end">anatomical structure development</text>
<rect x="906.40" y="610.30" width="121.28" height="22.40" fill="#c05a55" stroke="#fff" stroke-width="0.8"/>
<line x1="892.00" y1="621.50" x2="898.30" y2="621.50" stroke="#000" stroke-width="2.0"/>
<text x="887.0" y="627.8" font-size="17.9" text-anchor="end">multicellular organism development</text>
<rect x="906.40" y="635.10" width="91.70" height="22.40" fill="#e54b45" stroke="#fff" stroke-width="0.8"/>
<line x1="892.00" y1="646.30" x2="898.30" y2="646.30" stroke="#000" stroke-width="2.0"/>
<text x="887.0" y="652.6" font-size="17.9" text-anchor="end">fructose and mannose metabolism</text>
<rect x="906.40" y="659.90" width="90.22" height="22.40" fill="#c05a55" stroke="#fff" stroke-width="0.8"/>
<line x1="892.00" y1="671.10" x2="898.30" y2="671.10" stroke="#000" stroke-width="2.0"/>
<text x="887.0" y="677.4" font-size="17.9" text-anchor="end">system development</text>
<rect x="906.40" y="684.70" width="88.74" height="22.40" fill="#e54b45" stroke="#fff" stroke-width="0.8"/>
<line x1="892.00" y1="695.90" x2="898.30" y2="695.90" stroke="#000" stroke-width="2.0"/>
<text x="887.0" y="702.2" font-size="17.9" text-anchor="end">pentose and glucuronate interconversions</text>
<rect x="906.40" y="709.50" width="82.82" height="22.40" fill="#c05a55" stroke="#fff" stroke-width="0.8"/>
<line x1="892.00" y1="720.70" x2="898.30" y2="720.70" stroke="#000" stroke-width="2.0"/>
<text x="887.0" y="727.0" font-size="17.9" text-anchor="end">cellular developmental process</text>
<rect x="906.40" y="734.30" width="72.47" height="22.40" fill="#3d4a52" stroke="#fff" stroke-width="0.8"/>
<line x1="892.00" y1="745.50" x2="898.30" y2="745.50" stroke="#000" stroke-width="2.0"/>
<text x="887.0" y="751.8" font-size="17.9" text-anchor="end">lipid binding</text>
<rect x="906.40" y="759.10" width="71.98" height="22.40" fill="#c05a55" stroke="#fff" stroke-width="0.8"/>
<line x1="892.00" y1="770.30" x2="898.30" y2="770.30" stroke="#000" stroke-width="2.0"/>
<text x="887.0" y="776.6" font-size="17.9" text-anchor="end">regulation of cellular component organization</text>
<line x1="898.30" y1="556.50" x2="898.30" y2="786.40" stroke="#000" stroke-width="2.8"/>
<line x1="896.90" y1="785.10" x2="1082.60" y2="785.10" stroke="#000" stroke-width="2.8"/>
<line x1="906.40" y1="785.10" x2="906.40" y2="791.50" stroke="#000" stroke-width="2.0"/>
<text x="906.4" y="809.7" font-size="17.9" text-anchor="middle">0</text>
<line x1="955.70" y1="785.10" x2="955.70" y2="791.50" stroke="#000" stroke-width="2.0"/>
<text x="955.7" y="809.7" font-size="17.9" text-anchor="middle">1</text>
<line x1="1005.00" y1="785.10" x2="1005.00" y2="791.50" stroke="#000" stroke-width="2.0"/>
<text x="1005.0" y="809.7" font-size="17.9" text-anchor="middle">2</text>
<line x1="1054.30" y1="785.10" x2="1054.30" y2="791.50" stroke="#000" stroke-width="2.0"/>
<text x="1054.3" y="809.7" font-size="17.9" text-anchor="middle">3</text>
<text x="988.5" y="552.4" font-size="22" text-anchor="middle" font-weight="bold">SiS</text>
<text x="927.3" y="839.2" font-size="22">−<tspan dx="3">log</tspan><tspan font-size="15.2" dy="4.2">10</tspan><tspan dy="-4.2" font-size="28.5">(</tspan><tspan>padj</tspan><tspan font-size="28.5">)</tspan></text>
<text x="1089.3" y="615.3" font-size="22">source</text>
<rect x="1090.90" y="630.90" width="36.00" height="35.60" fill="#c05a55"/>
<text x="1138.8" y="654.7" font-size="17.6">GO:BP</text>
<rect x="1090.90" y="669.70" width="36.00" height="35.10" fill="#3d4a52"/>
<text x="1138.8" y="693.5" font-size="17.6">GO:MF</text>
<rect x="1090.90" y="708.10" width="36.00" height="35.70" fill="#e54b45"/>
<text x="1138.8" y="731.6" font-size="17.6">KEGG</text>
<text x="2.9" y="417.7" font-size="36" font-weight="bold">d</text>
<rect x="125.30" y="450.60" width="10.97" height="10.97" fill="#0a3068"/>
<rect x="135.47" y="450.60" width="10.97" height="10.97" fill="#1f60a2"/>
<rect x="145.64" y="450.60" width="10.97" height="10.97" fill="#2263a6"/>
<rect x="155.81" y="450.60" width="10.97" height="10.97" fill="#1f5c9c"/>
<rect x="165.98" y="450.60" width="10.97" height="10.97" fill="#2063a6"/>
<rect x="176.15" y="450.60" width="10.97" height="10.97" fill="#1d5a9a"/>
<rect x="186.32" y="450.60" width="10.97" height="10.97" fill="#2468b0"/>
<rect x="196.49" y="450.60" width="10.97" height="10.97" fill="#1f5c9e"/>
<rect x="206.66" y="450.60" width="10.97" height="10.97" fill="#2a6eb0"/>
<rect x="216.83" y="450.60" width="10.97" height="10.97" fill="#2e74b4"/>
<rect x="227.00" y="450.60" width="10.97" height="10.97" fill="#2e78b8"/>
<rect x="237.17" y="450.60" width="10.97" height="10.97" fill="#3a86c2"/>
<rect x="247.34" y="450.60" width="10.97" height="10.97" fill="#5aa2ce"/>
<rect x="257.51" y="450.60" width="10.97" height="10.97" fill="#5aa2ce"/>
<rect x="267.68" y="450.60" width="10.97" height="10.97" fill="#62a8d2"/>
<rect x="277.85" y="450.60" width="10.97" height="10.97" fill="#5aa2ce"/>
<rect x="288.02" y="450.60" width="10.97" height="10.97" fill="#62aad2"/>
<rect x="298.19" y="450.60" width="10.97" height="10.97" fill="#5aa0cc"/>
<rect x="308.36" y="450.60" width="10.97" height="10.97" fill="#8ac0dc"/>
<rect x="318.53" y="450.60" width="10.97" height="10.97" fill="#8ec2de"/>
<rect x="328.70" y="450.60" width="10.97" height="10.97" fill="#9cc8e0"/>
<rect x="338.87" y="450.60" width="10.97" height="10.97" fill="#6aaad2"/>
<rect x="349.04" y="450.60" width="10.97" height="10.97" fill="#7ab6d8"/>
<rect x="359.21" y="450.60" width="10.97" height="10.97" fill="#7ab8d8"/>
<rect x="369.38" y="450.60" width="10.97" height="10.97" fill="#94c4de"/>
<rect x="379.55" y="450.60" width="10.97" height="10.97" fill="#94c4de"/>
<rect x="389.72" y="450.60" width="10.97" height="10.97" fill="#94c4de"/>
<rect x="399.89" y="450.60" width="10.97" height="10.97" fill="#94c4de"/>
<rect x="410.06" y="450.60" width="10.17" height="10.97" fill="#b4d6e8"/>
<rect x="125.30" y="460.77" width="10.97" height="10.97" fill="#1f60a2"/>
<rect x="135.47" y="460.77" width="10.97" height="10.97" fill="#082d62"/>
<rect x="145.64" y="460.77" width="10.97" height="10.97" fill="#1a5090"/>
<rect x="155.81" y="460.77" width="10.97" height="10.97" fill="#2063a6"/>
<rect x="165.98" y="460.77" width="10.97" height="10.97" fill="#3078b8"/>
<rect x="176.15" y="460.77" width="10.97" height="10.97" fill="#1d5a9a"/>
<rect x="186.32" y="460.77" width="10.97" height="10.97" fill="#1c5899"/>
<rect x="196.49" y="460.77" width="10.97" height="10.97" fill="#2062a4"/>
<rect x="206.66" y="460.77" width="10.97" height="10.97" fill="#4390c4"/>
<rect x="216.83" y="460.77" width="10.97" height="10.97" fill="#4590c4"/>
<rect x="227.00" y="460.77" width="10.97" height="10.97" fill="#2466ac"/>
<rect x="237.17" y="460.77" width="10.97" height="10.97" fill="#2e74b4"/>
<rect x="247.34" y="460.77" width="10.97" height="10.97" fill="#3078b8"/>
<rect x="257.51" y="460.77" width="10.97" height="10.97" fill="#3a88c2"/>
<rect x="267.68" y="460.77" width="10.97" height="10.97" fill="#3a88c2"/>
<rect x="277.85" y="460.77" width="10.97" height="10.97" fill="#b8d8ea"/>
<rect x="288.02" y="460.77" width="10.97" height="10.97" fill="#bcdaea"/>
<rect x="298.19" y="460.77" width="10.97" height="10.97" fill="#c8e0ee"/>
<rect x="308.36" y="460.77" width="10.97" height="10.97" fill="#c4deec"/>
<rect x="318.53" y="460.77" width="10.97" height="10.97" fill="#c8e0ee"/>
<rect x="328.70" y="460.77" width="10.97" height="10.97" fill="#c4deec"/>
<rect x="338.87" y="460.77" width="10.97" height="10.97" fill="#c0dcec"/>
<rect x="349.04" y="460.77" width="10.97" height="10.97" fill="#dceaf3"/>
<rect x="359.21" y="460.77" width="10.97" height="10.97" fill="#dceaf3"/>
<rect x="369.38" y="460.77" width="10.97" height="10.97" fill="#dceaf3"/>
<rect x="379.55" y="460.77" width="10.97" height="10.97" fill="#f5f5f5"/>
<rect x="389.72" y="460.77" width="10.97" height="10.97" fill="#e6eef4"/>
<rect x="399.89" y="460.77" width="10.97" height="10.97" fill="#f8f2ee"/>
<rect x="410.06" y="460.77" width="10.17" height="10.97" fill="#b8d8ea"/>
<rect x="125.30" y="470.94" width="10.97" height="10.97" fill="#2263a6"/>
<rect x="135.47" y="470.94" width="10.97" height="10.97" fill="#1a5090"/>
<rect x="145.64" y="470.94" width="10.97" height="10.97" fill="#08305f"/>
<rect x="155.81" y="470.94" width="10.97" height="10.97" fill="#2c72b2"/>
<rect x="165.98" y="470.94" width="10.97" height="10.97" fill="#2265aa"/>
<rect x="176.15" y="470.94" width="10.97" height="10.97" fill="#1a5594"/>
<rect x="186.32" y="470.94" width="10.97" height="10.97" fill="#2668ae"/>
<rect x="196.49" y="470.94" width="10.97" height="10.97" fill="#2265a8"/>
<rect x="206.66" y="470.94" width="10.97" height="10.97" fill="#56a0ce"/>
<rect x="216.83" y="470.94" width="10.97" height="10.97" fill="#56a0ce"/>
<rect x="227.00" y="470.94" width="10.97" height="10.97" fill="#2468ae"/>
<rect x="237.17" y="470.94" width="10.97" height="10.97" fill="#3a86c2"/>
<rect x="247.34" y="470.94" width="10.97" height="10.97" fill="#3a86c2"/>
<rect x="257.51" y="470.94" width="10.97" height="10.97" fill="#2a70b2"/>
<rect x="267.68" y="470.94" width="10.97" height="10.97" fill="#3080bc"/>
<rect x="277.85" y="470.94" width="10.97" height="10.97" fill="#d6e8f2"/>
<rect x="288.02" y="470.94" width="10.97" height="10.97" fill="#d4e6f1"/>
<rect x="298.19" y="470.94" width="10.97" height="10.97" fill="#e6eff5"/>
<rect x="308.36" y="470.94" width="10.97" height="10.97" fill="#d6e8f2"/>
<rect x="318.53" y="470.94" width="10.97" height="10.97" fill="#d6e8f2"/>
<rect x="328.70" y="470.94" width="10.97" height="10.97" fill="#d6e8f2"/>
<rect x="338.87" y="470.94" width="10.97" height="10.97" fill="#dceaf3"/>
<rect x="349.04" y="470.94" width="10.97" height="10.97" fill="#f0f3f5"/>
<rect x="359.21" y="470.94" width="10.97" height="10.97" fill="#eef2f5"/>
<rect x="369.38" y="470.94" width="10.97" height="10.97" fill="#f0f3f5"/>
<rect x="379.55" y="470.94" width="10.97" height="10.97" fill="#fbe4d8"/>
<rect x="389.72" y="470.94" width="10.97" height="10.97" fill="#f9e6dc"/>
<rect x="399.89" y="470.94" width="10.97" height="10.97" fill="#fbe0d2"/>
<rect x="410.06" y="470.94" width="10.17" height="10.97" fill="#c8e0ee"/>
<rect x="125.30" y="481.11" width="10.97" height="10.97" fill="#1f5c9c"/>
<rect x="135.47" y="481.11" width="10.97" height="10.97" fill="#2063a6"/>
<rect x="145.64" y="481.11" width="10.97" height="10.97" fill="#2c72b2"/>
<rect x="155.81" y="481.11" width="10.97" height="10.97" fill="#072c60"/>
<rect x="165.98" y="481.11" width="10.97" height="10.97" fill="#1a5594"/>
<rect x="176.15" y="481.11" width="10.97" height="10.97" fill="#1a5594"/>
<rect x="186.32" y="481.11" width="10.97" height="10.97" fill="#1a5594"/>
<rect x="196.49" y="481.11" width="10.97" height="10.97" fill="#1a5594"/>
<rect x="206.66" y="481.11" width="10.97" height="10.97" fill="#1a5594"/>
<rect x="216.83" y="481.11" width="10.97" height="10.97" fill="#2063a6"/>
<rect x="227.00" y="481.11" width="10.97" height="10.97" fill="#1e5a9c"/>
<rect x="237.17" y="481.11" width="10.97" height="10.97" fill="#2a6eb0"/>
<rect x="247.34" y="481.11" width="10.97" height="10.97" fill="#2a6eb0"/>
<rect x="257.51" y="481.11" width="10.97" height="10.97" fill="#3a86c2"/>
<rect x="267.68" y="481.11" width="10.97" height="10.97" fill="#2e78b8"/>
<rect x="277.85" y="481.11" width="10.97" height="10.97" fill="#d2e6f1"/>
<rect x="288.02" y="481.11" width="10.97" height="10.97" fill="#e0edf4"/>
<rect x="298.19" y="481.11" width="10.97" height="10.97" fill="#d2e6f1"/>
<rect x="308.36" y="481.11" width="10.97" height="10.97" fill="#e6eff5"/>
<rect x="318.53" y="481.11" width="10.97" height="10.97" fill="#f0f3f5"/>
<rect x="328.70" y="481.11" width="10.97" height="10.97" fill="#f4f4f4"/>
<rect x="338.87" y="481.11" width="10.97" height="10.97" fill="#eaf0f4"/>
<rect x="349.04" y="481.11" width="10.97" height="10.97" fill="#e6eef4"/>
<rect x="359.21" y="481.11" width="10.97" height="10.97" fill="#eaf0f4"/>
<rect x="369.38" y="481.11" width="10.97" height="10.97" fill="#f4f4f4"/>
<rect x="379.55" y="481.11" width="10.97" height="10.97" fill="#f2f3f4"/>
<rect x="389.72" y="481.11" width="10.97" height="10.97" fill="#f5f4f3"/>
<rect x="399.89" y="481.11" width="10.97" height="10.97" fill="#f6f0ec"/>
<rect x="410.06" y="481.11" width="10.17" height="10.97" fill="#f9ebe3"/>
<rect x="125.30" y="491.28" width="10.97" height="10.97" fill="#2063a6"/>
<rect x="135.47" y="491.28" width="10.97" height="10.97" fill="#3078b8"/>
<rect x="145.64" y="491.28" width="10.97" height="10.97" fill="#2265aa"/>
<rect x="155.81" y="491.28" width="10.97" height="10.97" fill="#1a5594"/>
<rect x="165.98" y="491.28" width="10.97" height="10.97" fill="#072c60"/>
<rect x="176.15" y="491.28" width="10.97" height="10.97" fill="#1c5898"/>
<rect x="186.32" y="491.28" width="10.97" height="10.97" fill="#2c70b0"/>
<rect x="196.49" y="491.28" width="10.97" height="10.97" fill="#2063a6"/>
<rect x="206.66" y="491.28" width="10.97" height="10.97" fill="#3a80be"/>
<rect x="216.83" y="491.28" width="10.97" height="10.97" fill="#3a84c0"/>
<rect x="227.00" y="491.28" width="10.97" height="10.97" fill="#2466ac"/>
<rect x="237.17" y="491.28" width="10.97" height="10.97" fill="#3a86c2"/>
<rect x="247.34" y="491.28" width="10.97" height="10.97" fill="#3a86c2"/>
<rect x="257.51" y="491.28" width="10.97" height="10.97" fill="#2a70b2"/>
<rect x="267.68" y="491.28" width="10.97" height="10.97" fill="#3080bc"/>
<rect x="277.85" y="491.28" width="10.97" height="10.97" fill="#d6e8f2"/>
<rect x="288.02" y="491.28" width="10.97" height="10.97" fill="#e6eff5"/>
<rect x="298.19" y="491.28" width="10.97" height="10.97" fill="#dceaf3"/>
<rect x="308.36" y="491.28" width="10.97" height="10.97" fill="#e6eff5"/>
<rect x="318.53" y="491.28" width="10.97" height="10.97" fill="#e6eff5"/>
<rect x="328.70" y="491.28" width="10.97" height="10.97" fill="#e6eef4"/>
<rect x="338.87" y="491.28" width="10.97" height="10.97" fill="#eef2f5"/>
<rect x="349.04" y="491.28" width="10.97" height="10.97" fill="#e0ecf4"/>
<rect x="359.21" y="491.28" width="10.97" height="10.97" fill="#f4f4f4"/>
<rect x="369.38" y="491.28" width="10.97" height="10.97" fill="#f4f4f4"/>
<rect x="379.55" y="491.28" width="10.97" height="10.97" fill="#f4f4f4"/>
<rect x="389.72" y="491.28" width="10.97" height="10.97" fill="#f9e6dc"/>
<rect x="399.89" y="491.28" width="10.97" height="10.97" fill="#f6f0ec"/>
<rect x="410.06" y="491.28" width="10.17" height="10.97" fill="#f9ebe3"/>
<rect x="125.30" y="501.45" width="10.97" height="10.97" fill="#1d5a9a"/>
<rect x="135.47" y="501.45" width="10.97" height="10.97" fill="#1d5a9a"/>
<rect x="145.64" y="501.45" width="10.97" height="10.97" fill="#1a5594"/>
<rect x="155.81" y="501.45" width="10.97" height="10.97" fill="#1a5594"/>
<rect x="165.98" y="501.45" width="10.97" height="10.97" fill="#1c5898"/>
<rect x="176.15" y="501.45" width="10.97" height="10.97" fill="#082d62"/>
<rect x="186.32" y="501.45" width="10.97" height="10.97" fill="#1a5090"/>
<rect x="196.49" y="501.45" width="10.97" height="10.97" fill="#1a5090"/>
<rect x="206.66" y="501.45" width="10.97" height="10.97" fill="#2468b0"/>
<rect x="216.83" y="501.45" width="10.97" height="10.97" fill="#2468b0"/>
<rect x="227.00" y="501.45" width="10.97" height="10.97" fill="#164a88"/>
<rect x="237.17" y="501.45" width="10.97" height="10.97" fill="#1a5494"/>
<rect x="247.34" y="501.45" width="10.97" height="10.97" fill="#2062a6"/>
<rect x="257.51" y="501.45" width="10.97" height="10.97" fill="#164a88"/>
<rect x="267.68" y="501.45" width="10.97" height="10.97" fill="#1f60a4"/>
<rect x="277.85" y="501.45" width="10.97" height="10.97" fill="#e0ecf4"/>
<rect x="288.02" y="501.45" width="10.97" height="10.97" fill="#eef2f5"/>
<rect x="298.19" y="501.45" width="10.97" height="10.97" fill="#eef2f5"/>
<rect x="308.36" y="501.45" width="10.97" height="10.97" fill="#f0f3f5"/>
<rect x="318.53" y="501.45" width="10.97" height="10.97" fill="#f2f3f4"/>
<rect x="328.70" y="501.45" width="10.97" height="10.97" fill="#f6f1ee"/>
<rect x="338.87" y="501.45" width="10.97" height="10.97" fill="#f6f3f1"/>
<rect x="349.04" y="501.45" width="10.97" height="10.97" fill="#f4f1ef"/>
<rect x="359.21" y="501.45" width="10.97" height="10.97" fill="#f9e6dc"/>
<rect x="369.38" y="501.45" width="10.97" height="10.97" fill="#f9e6dc"/>
<rect x="379.55" y="501.45" width="10.97" height="10.97" fill="#fae4d8"/>
<rect x="389.72" y="501.45" width="10.97" height="10.97" fill="#fbe0d2"/>
<rect x="399.89" y="501.45" width="10.97" height="10.97" fill="#fbe0d2"/>
<rect x="410.06" y="501.45" width="10.17" height="10.97" fill="#f6f2f0"/>
<rect x="125.30" y="511.62" width="10.97" height="10.97" fill="#2468b0"/>
<rect x="135.47" y="511.62" width="10.97" height="10.97" fill="#1c5899"/>
<rect x="145.64" y="511.62" width="10.97" height="10.97" fill="#2668ae"/>
<rect x="155.81" y="511.62" width="10.97" height="10.97" fill="#1a5594"/>
<rect x="165.98" y="511.62" width="10.97" height="10.97" fill="#2c70b0"/>
<rect x="176.15" y="511.62" width="10.97" height="10.97" fill="#1a5090"/>
<rect x="186.32" y="511.62" width="10.97" height="10.97" fill="#082d62"/>
<rect x="196.49" y="511.62" width="10.97" height="10.97" fill="#1c5596"/>
<rect x="206.66" y="511.62" width="10.97" height="10.97" fill="#2468b0"/>
<rect x="216.83" y="511.62" width="10.97" height="10.97" fill="#2468b0"/>
<rect x="227.00" y="511.62" width="10.97" height="10.97" fill="#1a5594"/>
<rect x="237.17" y="511.62" width="10.97" height="10.97" fill="#134884"/>
<rect x="247.34" y="511.62" width="10.97" height="10.97" fill="#164c8a"/>
<rect x="257.51" y="511.62" width="10.97" height="10.97" fill="#2a70b2"/>
<rect x="267.68" y="511.62" width="10.97" height="10.97" fill="#2063a8"/>
<rect x="277.85" y="511.62" width="10.97" height="10.97" fill="#e8eff4"/>
<rect x="288.02" y="511.62" width="10.97" height="10.97" fill="#f6f1ee"/>
<rect x="298.19" y="511.62" width="10.97" height="10.97" fill="#f6f1ee"/>
<rect x="308.36" y="511.62" width="10.97" height="10.97" fill="#f6f2ef"/>
<rect x="318.53" y="511.62" width="10.97" height="10.97" fill="#fbe2d6"/>
<rect x="328.70" y="511.62" width="10.97" height="10.97" fill="#fbe4d8"/>
<rect x="338.87" y="511.62" width="10.97" height="10.97" fill="#fbe6dc"/>
<rect x="349.04" y="511.62" width="10.97" height="10.97" fill="#fbe4d8"/>
<rect x="359.21" y="511.62" width="10.97" height="10.97" fill="#fcdccb"/>
<rect x="369.38" y="511.62" width="10.97" height="10.97" fill="#fcdccb"/>
<rect x="379.55" y="511.62" width="10.97" height="10.97" fill="#fcd8c4"/>
<rect x="389.72" y="511.62" width="10.97" height="10.97" fill="#fcdccb"/>
<rect x="399.89" y="511.62" width="10.97" height="10.97" fill="#f9c8b0"/>
<rect x="410.06" y="511.62" width="10.17" height="10.97" fill="#fcdccb"/>
<rect x="125.30" y="521.79" width="10.97" height="10.97" fill="#1f5c9e"/>
<rect x="135.47" y="521.79" width="10.97" height="10.97" fill="#2062a4"/>
<rect x="145.64" y="521.79" width="10.97" height="10.97" fill="#2265a8"/>
<rect x="155.81" y="521.79" width="10.97" height="10.97" fill="#1a5594"/>
<rect x="165.98" y="521.79" width="10.97" height="10.97" fill="#2063a6"/>
<rect x="176.15" y="521.79" width="10.97" height="10.97" fill="#1a5090"/>
<rect x="186.32" y="521.79" width="10.97" height="10.97" fill="#1c5596"/>
<rect x="196.49" y="521.79" width="10.97" height="10.97" fill="#082d62"/>
<rect x="206.66" y="521.79" width="10.97" height="10.97" fill="#2265aa"/>
<rect x="216.83" y="521.79" width="10.97" height="10.97" fill="#1d5a9a"/>
<rect x="227.00" y="521.79" width="10.97" height="10.97" fill="#144a88"/>
<rect x="237.17" y="521.79" width="10.97" height="10.97" fill="#1a5594"/>
<rect x="247.34" y="521.79" width="10.97" height="10.97" fill="#2063a8"/>
<rect x="257.51" y="521.79" width="10.97" height="10.97" fill="#2063a8"/>
<rect x="267.68" y="521.79" width="10.97" height="10.97" fill="#2063a8"/>
<rect x="277.85" y="521.79" width="10.97" height="10.97" fill="#eaf0f4"/>
<rect x="288.02" y="521.79" width="10.97" height="10.97" fill="#f6f0ec"/>
<rect x="298.19" y="521.79" width="10.97" height="10.97" fill="#f4f4f4"/>
<rect x="308.36" y="521.79" width="10.97" height="10.97" fill="#f9e6dc"/>
<rect x="318.53" y="521.79" width="10.97" height="10.97" fill="#fbe2d6"/>
<rect x="328.70" y="521.79" width="10.97" height="10.97" fill="#fbe2d6"/>
<rect x="338.87" y="521.79" width="10.97" height="10.97" fill="#f9e6dc"/>
<rect x="349.04" y="521.79" width="10.97" height="10.97" fill="#fbe4d8"/>
<rect x="359.21" y="521.79" width="10.97" height="10.97" fill="#fcdccb"/>
<rect x="369.38" y="521.79" width="10.97" height="10.97" fill="#fcd8c4"/>
<rect x="379.55" y="521.79" width="10.97" height="10.97" fill="#fcd8c4"/>
<rect x="389.72" y="521.79" width="10.97" height="10.97" fill="#fcd8c4"/>
<rect x="399.89" y="521.79" width="10.97" height="10.97" fill="#fbd0b8"/>
<rect x="410.06" y="521.79" width="10.17" height="10.97" fill="#fcd8c4"/>
<rect x="125.30" y="531.96" width="10.97" height="10.97" fill="#2a6eb0"/>
<rect x="135.47" y="531.96" width="10.97" height="10.97" fill="#4390c4"/>
<rect x="145.64" y="531.96" width="10.97" height="10.97" fill="#56a0ce"/>
<rect x="155.81" y="531.96" width="10.97" height="10.97" fill="#1a5594"/>
<rect x="165.98" y="531.96" width="10.97" height="10.97" fill="#3a80be"/>
<rect x="176.15" y="531.96" width="10.97" height="10.97" fill="#2468b0"/>
<rect x="186.32" y="531.96" width="10.97" height="10.97" fill="#2468b0"/>
<rect x="196.49" y="531.96" width="10.97" height="10.97" fill="#2265aa"/>
<rect x="206.66" y="531.96" width="10.97" height="10.97" fill="#082d62"/>
<rect x="216.83" y="531.96" width="10.97" height="10.97" fill="#144a88"/>
<rect x="227.00" y="531.96" width="10.97" height="10.97" fill="#2468ae"/>
<rect x="237.17" y="531.96" width="10.97" height="10.97" fill="#2063a8"/>
<rect x="247.34" y="531.96" width="10.97" height="10.97" fill="#2e70b0"/>
<rect x="257.51" y="531.96" width="10.97" height="10.97" fill="#3a88c2"/>
<rect x="267.68" y="531.96" width="10.97" height="10.97" fill="#3080bc"/>
<rect x="277.85" y="531.96" width="10.97" height="10.97" fill="#f5f3f2"/>
<rect x="288.02" y="531.96" width="10.97" height="10.97" fill="#fbe0d2"/>
<rect x="298.19" y="531.96" width="10.97" height="10.97" fill="#f6f0ec"/>
<rect x="308.36" y="531.96" width="10.97" height="10.97" fill="#fcd8c4"/>
<rect x="318.53" y="531.96" width="10.97" height="10.97" fill="#f7b89c"/>
<rect x="328.70" y="531.96" width="10.97" height="10.97" fill="#f4a886"/>
<rect x="338.87" y="531.96" width="10.97" height="10.97" fill="#f9cdb4"/>
<rect x="349.04" y="531.96" width="10.97" height="10.97" fill="#fce0d0"/>
<rect x="359.21" y="531.96" width="10.97" height="10.97" fill="#f9cdb4"/>
<rect x="369.38" y="531.96" width="10.97" height="10.97" fill="#f7c0a4"/>
<rect x="379.55" y="531.96" width="10.97" height="10.97" fill="#fce0d0"/>
<rect x="389.72" y="531.96" width="10.97" height="10.97" fill="#f9c6ae"/>
<rect x="399.89" y="531.96" width="10.97" height="10.97" fill="#fbd0b8"/>
<rect x="410.06" y="531.96" width="10.17" height="10.97" fill="#e88a6e"/>
<rect x="125.30" y="542.13" width="10.97" height="10.97" fill="#2e74b4"/>
<rect x="135.47" y="542.13" width="10.97" height="10.97" fill="#4590c4"/>
<rect x="145.64" y="542.13" width="10.97" height="10.97" fill="#56a0ce"/>
<rect x="155.81" y="542.13" width="10.97" height="10.97" fill="#2063a6"/>
<rect x="165.98" y="542.13" width="10.97" height="10.97" fill="#3a84c0"/>
<rect x="176.15" y="542.13" width="10.97" height="10.97" fill="#2468b0"/>
<rect x="186.32" y="542.13" width="10.97" height="10.97" fill="#2468b0"/>
<rect x="196.49" y="542.13" width="10.97" height="10.97" fill="#1d5a9a"/>
<rect x="206.66" y="542.13" width="10.97" height="10.97" fill="#144a88"/>
<rect x="216.83" y="542.13" width="10.97" height="10.97" fill="#082d62"/>
<rect x="227.00" y="542.13" width="10.97" height="10.97" fill="#2e74b4"/>
<rect x="237.17" y="542.13" width="10.97" height="10.97" fill="#2063a8"/>
<rect x="247.34" y="542.13" width="10.97" height="10.97" fill="#2e74b4"/>
<rect x="257.51" y="542.13" width="10.97" height="10.97" fill="#3a80be"/>
<rect x="267.68" y="542.13" width="10.97" height="10.97" fill="#2e74b4"/>
<rect x="277.85" y="542.13" width="10.97" height="10.97" fill="#fcdccb"/>
<rect x="288.02" y="542.13" width="10.97" height="10.97" fill="#f9c6ae"/>
<rect x="298.19" y="542.13" width="10.97" height="10.97" fill="#fcdccb"/>
<rect x="308.36" y="542.13" width="10.97" height="10.97" fill="#f7b498"/>
<rect x="318.53" y="542.13" width="10.97" height="10.97" fill="#ef9270"/>
<rect x="328.70" y="542.13" width="10.97" height="10.97" fill="#e98a6c"/>
<rect x="338.87" y="542.13" width="10.97" height="10.97" fill="#f4a886"/>
<rect x="349.04" y="542.13" width="10.97" height="10.97" fill="#f6b496"/>
<rect x="359.21" y="542.13" width="10.97" height="10.97" fill="#ef9a78"/>
<rect x="369.38" y="542.13" width="10.97" height="10.97" fill="#ee9474"/>
<rect x="379.55" y="542.13" width="10.97" height="10.97" fill="#f6b496"/>
<rect x="389.72" y="542.13" width="10.97" height="10.97" fill="#f4a886"/>
<rect x="399.89" y="542.13" width="10.97" height="10.97" fill="#f4a886"/>
<rect x="410.06" y="542.13" width="10.17" height="10.97" fill="#d85a4c"/>
<rect x="125.30" y="552.30" width="10.97" height="10.97" fill="#2e78b8"/>
<rect x="135.47" y="552.30" width="10.97" height="10.97" fill="#2466ac"/>
<rect x="145.64" y="552.30" width="10.97" height="10.97" fill="#2468ae"/>
<rect x="155.81" y="552.30" width="10.97" height="10.97" fill="#1e5a9c"/>
<rect x="165.98" y="552.30" width="10.97" height="10.97" fill="#2466ac"/>
<rect x="176.15" y="552.30" width="10.97" height="10.97" fill="#164a88"/>
<rect x="186.32" y="552.30" width="10.97" height="10.97" fill="#1a5594"/>
<rect x="196.49" y="552.30" width="10.97" height="10.97" fill="#144a88"/>
<rect x="206.66" y="552.30" width="10.97" height="10.97" fill="#2468ae"/>
<rect x="216.83" y="552.30" width="10.97" height="10.97" fill="#2e74b4"/>
<rect x="227.00" y="552.30" width="10.97" height="10.97" fill="#0a3068"/>
<rect x="237.17" y="552.30" width="10.97" height="10.97" fill="#1c5898"/>
<rect x="247.34" y="552.30" width="10.97" height="10.97" fill="#1a5594"/>
<rect x="257.51" y="552.30" width="10.97" height="10.97" fill="#1f5fa0"/>
<rect x="267.68" y="552.30" width="10.97" height="10.97" fill="#1a5090"/>
<rect x="277.85" y="552.30" width="10.97" height="10.97" fill="#fcd4be"/>
<rect x="288.02" y="552.30" width="10.97" height="10.97" fill="#f7b494"/>
<rect x="298.19" y="552.30" width="10.97" height="10.97" fill="#f7b294"/>
<rect x="308.36" y="552.30" width="10.97" height="10.97" fill="#f6ac8c"/>
<rect x="318.53" y="552.30" width="10.97" height="10.97" fill="#f2a07e"/>
<rect x="328.70" y="552.30" width="10.97" height="10.97" fill="#f4a482"/>
<rect x="338.87" y="552.30" width="10.97" height="10.97" fill="#f4a482"/>
<rect x="349.04" y="552.30" width="10.97" height="10.97" fill="#f4a482"/>
<rect x="359.21" y="552.30" width="10.97" height="10.97" fill="#f09878"/>
<rect x="369.38" y="552.30" width="10.97" height="10.97" fill="#e88466"/>
<rect x="379.55" y="552.30" width="10.97" height="10.97" fill="#e88466"/>
<rect x="389.72" y="552.30" width="10.97" height="10.97" fill="#e47a60"/>
<rect x="399.89" y="552.30" width="10.97" height="10.97" fill="#d8604e"/>
<rect x="410.06" y="552.30" width="10.17" height="10.97" fill="#f4a482"/>
<rect x="125.30" y="562.47" width="10.97" height="10.97" fill="#3a86c2"/>
<rect x="135.47" y="562.47" width="10.97" height="10.97" fill="#2e74b4"/>
<rect x="145.64" y="562.47" width="10.97" height="10.97" fill="#3a86c2"/>
<rect x="155.81" y="562.47" width="10.97" height="10.97" fill="#2a6eb0"/>
<rect x="165.98" y="562.47" width="10.97" height="10.97" fill="#3a86c2"/>
<rect x="176.15" y="562.47" width="10.97" height="10.97" fill="#1a5494"/>
<rect x="186.32" y="562.47" width="10.97" height="10.97" fill="#134884"/>
<rect x="196.49" y="562.47" width="10.97" height="10.97" fill="#1a5594"/>
<rect x="206.66" y="562.47" width="10.97" height="10.97" fill="#2063a8"/>
<rect x="216.83" y="562.47" width="10.97" height="10.97" fill="#2063a8"/>
<rect x="227.00" y="562.47" width="10.97" height="10.97" fill="#1c5898"/>
<rect x="237.17" y="562.47" width="10.97" height="10.97" fill="#082d62"/>
<rect x="247.34" y="562.47" width="10.97" height="10.97" fill="#164c8a"/>
<rect x="257.51" y="562.47" width="10.97" height="10.97" fill="#2063a8"/>
<rect x="267.68" y="562.47" width="10.97" height="10.97" fill="#2063a8"/>
<rect x="277.85" y="562.47" width="10.97" height="10.97" fill="#fcd0b8"/>
<rect x="288.02" y="562.47" width="10.97" height="10.97" fill="#f6a886"/>
<rect x="298.19" y="562.47" width="10.97" height="10.97" fill="#f6ac8c"/>
<rect x="308.36" y="562.47" width="10.97" height="10.97" fill="#f4a482"/>
<rect x="318.53" y="562.47" width="10.97" height="10.97" fill="#e88060"/>
<rect x="328.70" y="562.47" width="10.97" height="10.97" fill="#ec8c6c"/>
<rect x="338.87" y="562.47" width="10.97" height="10.97" fill="#ec8c6c"/>
<rect x="349.04" y="562.47" width="10.97" height="10.97" fill="#f09878"/>
<rect x="359.21" y="562.47" width="10.97" height="10.97" fill="#e47a60"/>
<rect x="369.38" y="562.47" width="10.97" height="10.97" fill="#e47a60"/>
<rect x="379.55" y="562.47" width="10.97" height="10.97" fill="#e88466"/>
<rect x="389.72" y="562.47" width="10.97" height="10.97" fill="#e47a60"/>
<rect x="399.89" y="562.47" width="10.97" height="10.97" fill="#d0504a"/>
<rect x="410.06" y="562.47" width="10.17" height="10.97" fill="#e88466"/>
<rect x="125.30" y="572.64" width="10.97" height="10.97" fill="#5aa2ce"/>
<rect x="135.47" y="572.64" width="10.97" height="10.97" fill="#3078b8"/>
<rect x="145.64" y="572.64" width="10.97" height="10.97" fill="#3a86c2"/>
<rect x="155.81" y="572.64" width="10.97" height="10.97" fill="#2a6eb0"/>
<rect x="165.98" y="572.64" width="10.97" height="10.97" fill="#3a86c2"/>
<rect x="176.15" y="572.64" width="10.97" height="10.97" fill="#2062a6"/>
<rect x="186.32" y="572.64" width="10.97" height="10.97" fill="#164c8a"/>
<rect x="196.49" y="572.64" width="10.97" height="10.97" fill="#2063a8"/>
<rect x="206.66" y="572.64" width="10.97" height="10.97" fill="#2e70b0"/>
<rect x="216.83" y="572.64" width="10.97" height="10.97" fill="#2e74b4"/>
<rect x="227.00" y="572.64" width="10.97" height="10.97" fill="#1a5594"/>
<rect x="237.17" y="572.64" width="10.97" height="10.97" fill="#164c8a"/>
<rect x="247.34" y="572.64" width="10.97" height="10.97" fill="#082d62"/>
<rect x="257.51" y="572.64" width="10.97" height="10.97" fill="#2468ae"/>
<rect x="267.68" y="572.64" width="10.97" height="10.97" fill="#164c8a"/>
<rect x="277.85" y="572.64" width="10.97" height="10.97" fill="#f09878"/>
<rect x="288.02" y="572.64" width="10.97" height="10.97" fill="#e0705a"/>
<rect x="298.19" y="572.64" width="10.97" height="10.97" fill="#e0705a"/>
<rect x="308.36" y="572.64" width="10.97" height="10.97" fill="#e47a60"/>
<rect x="318.53" y="572.64" width="10.97" height="10.97" fill="#d0504a"/>
<rect x="328.70" y="572.64" width="10.97" height="10.97" fill="#d0504a"/>
<rect x="338.87" y="572.64" width="10.97" height="10.97" fill="#cc4844"/>
<rect x="349.04" y="572.64" width="10.97" height="10.97" fill="#d85c4c"/>
<rect x="359.21" y="572.64" width="10.97" height="10.97" fill="#c83c3c"/>
<rect x="369.38" y="572.64" width="10.97" height="10.97" fill="#c83c3c"/>
<rect x="379.55" y="572.64" width="10.97" height="10.97" fill="#c83c3c"/>
<rect x="389.72" y="572.64" width="10.97" height="10.97" fill="#b82430"/>
<rect x="399.89" y="572.64" width="10.97" height="10.97" fill="#9a0e28"/>
<rect x="410.06" y="572.64" width="10.17" height="10.97" fill="#e0705a"/>
<rect x="125.30" y="582.81" width="10.97" height="10.97" fill="#5aa2ce"/>
<rect x="135.47" y="582.81" width="10.97" height="10.97" fill="#3a88c2"/>
<rect x="145.64" y="582.81" width="10.97" height="10.97" fill="#2a70b2"/>
<rect x="155.81" y="582.81" width="10.97" height="10.97" fill="#3a86c2"/>
<rect x="165.98" y="582.81" width="10.97" height="10.97" fill="#2a70b2"/>
<rect x="176.15" y="582.81" width="10.97" height="10.97" fill="#164a88"/>
<rect x="186.32" y="582.81" width="10.97" height="10.97" fill="#2a70b2"/>
<rect x="196.49" y="582.81" width="10.97" height="10.97" fill="#2063a8"/>
<rect x="206.66" y="582.81" width="10.97" height="10.97" fill="#3a88c2"/>
<rect x="216.83" y="582.81" width="10.97" height="10.97" fill="#3a80be"/>
<rect x="227.00" y="582.81" width="10.97" height="10.97" fill="#1f5fa0"/>
<rect x="237.17" y="582.81" width="10.97" height="10.97" fill="#2063a8"/>
<rect x="247.34" y="582.81" width="10.97" height="10.97" fill="#2468ae"/>
<rect x="257.51" y="582.81" width="10.97" height="10.97" fill="#082d62"/>
<rect x="267.68" y="582.81" width="10.97" height="10.97" fill="#1c5898"/>
<rect x="277.85" y="582.81" width="10.97" height="10.97" fill="#ec8c6c"/>
<rect x="288.02" y="582.81" width="10.97" height="10.97" fill="#d8604e"/>
<rect x="298.19" y="582.81" width="10.97" height="10.97" fill="#d85c4c"/>
<rect x="308.36" y="582.81" width="10.97" height="10.97" fill="#e0705a"/>
<rect x="318.53" y="582.81" width="10.97" height="10.97" fill="#d0504a"/>
<rect x="328.70" y="582.81" width="10.97" height="10.97" fill="#d85c4c"/>
<rect x="338.87" y="582.81" width="10.97" height="10.97" fill="#cc4844"/>
<rect x="349.04" y="582.81" width="10.97" height="10.97" fill="#d05048"/>
<rect x="359.21" y="582.81" width="10.97" height="10.97" fill="#c03034"/>
<rect x="369.38" y="582.81" width="10.97" height="10.97" fill="#c83c3c"/>
<rect x="379.55" y="582.81" width="10.97" height="10.97" fill="#c43838"/>
<rect x="389.72" y="582.81" width="10.97" height="10.97" fill="#9a0e28"/>
<rect x="399.89" y="582.81" width="10.97" height="10.97" fill="#9a0e28"/>
<rect x="410.06" y="582.81" width="10.17" height="10.97" fill="#d8604e"/>
<rect x="125.30" y="592.98" width="10.97" height="10.97" fill="#62a8d2"/>
<rect x="135.47" y="592.98" width="10.97" height="10.97" fill="#3a88c2"/>
<rect x="145.64" y="592.98" width="10.97" height="10.97" fill="#3080bc"/>
<rect x="155.81" y="592.98" width="10.97" height="10.97" fill="#2e78b8"/>
<rect x="165.98" y="592.98" width="10.97" height="10.97" fill="#3080bc"/>
<rect x="176.15" y="592.98" width="10.97" height="10.97" fill="#1f60a4"/>
<rect x="186.32" y="592.98" width="10.97" height="10.97" fill="#2063a8"/>
<rect x="196.49" y="592.98" width="10.97" height="10.97" fill="#2063a8"/>
<rect x="206.66" y="592.98" width="10.97" height="10.97" fill="#3080bc"/>
<rect x="216.83" y="592.98" width="10.97" height="10.97" fill="#2e74b4"/>
<rect x="227.00" y="592.98" width="10.97" height="10.97" fill="#1a5090"/>
<rect x="237.17" y="592.98" width="10.97" height="10.97" fill="#2063a8"/>
<rect x="247.34" y="592.98" width="10.97" height="10.97" fill="#164c8a"/>
<rect x="257.51" y="592.98" width="10.97" height="10.97" fill="#1c5898"/>
<rect x="267.68" y="592.98" width="10.97" height="10.97" fill="#082d62"/>
<rect x="277.85" y="592.98" width="10.97" height="10.97" fill="#e47a60"/>
<rect x="288.02" y="592.98" width="10.97" height="10.97" fill="#c8403e"/>
<rect x="298.19" y="592.98" width="10.97" height="10.97" fill="#c8403e"/>
<rect x="308.36" y="592.98" width="10.97" height="10.97" fill="#cc4a44"/>
<rect x="318.53" y="592.98" width="10.97" height="10.97" fill="#b82a34"/>
<rect x="328.70" y="592.98" width="10.97" height="10.97" fill="#c83c3c"/>
<rect x="338.87" y="592.98" width="10.97" height="10.97" fill="#c03034"/>
<rect x="349.04" y="592.98" width="10.97" height="10.97" fill="#c03034"/>
<rect x="359.21" y="592.98" width="10.97" height="10.97" fill="#ac1a2c"/>
<rect x="369.38" y="592.98" width="10.97" height="10.97" fill="#ac1a2c"/>
<rect x="379.55" y="592.98" width="10.97" height="10.97" fill="#a4142a"/>
<rect x="389.72" y="592.98" width="10.97" height="10.97" fill="#880a24"/>
<rect x="399.89" y="592.98" width="10.97" height="10.97" fill="#6e0020"/>
<rect x="410.06" y="592.98" width="10.17" height="10.97" fill="#c83c3c"/>
<rect x="125.30" y="603.15" width="10.97" height="10.97" fill="#5aa2ce"/>
<rect x="135.47" y="603.15" width="10.97" height="10.97" fill="#b8d8ea"/>
<rect x="145.64" y="603.15" width="10.97" height="10.97" fill="#d6e8f2"/>
<rect x="155.81" y="603.15" width="10.97" height="10.97" fill="#d2e6f1"/>
<rect x="165.98" y="603.15" width="10.97" height="10.97" fill="#d6e8f2"/>
<rect x="176.15" y="603.15" width="10.97" height="10.97" fill="#e0ecf4"/>
<rect x="186.32" y="603.15" width="10.97" height="10.97" fill="#e8eff4"/>
<rect x="196.49" y="603.15" width="10.97" height="10.97" fill="#eaf0f4"/>
<rect x="206.66" y="603.15" width="10.97" height="10.97" fill="#f5f3f2"/>
<rect x="216.83" y="603.15" width="10.97" height="10.97" fill="#fcdccb"/>
<rect x="227.00" y="603.15" width="10.97" height="10.97" fill="#fcd4be"/>
<rect x="237.17" y="603.15" width="10.97" height="10.97" fill="#fcd0b8"/>
<rect x="247.34" y="603.15" width="10.97" height="10.97" fill="#f09878"/>
<rect x="257.51" y="603.15" width="10.97" height="10.97" fill="#ec8c6c"/>
<rect x="267.68" y="603.15" width="10.97" height="10.97" fill="#e47a60"/>
<rect x="277.85" y="603.15" width="10.97" height="10.97" fill="#072c60"/>
<rect x="288.02" y="603.15" width="10.97" height="10.97" fill="#0c3c74"/>
<rect x="298.19" y="603.15" width="10.97" height="10.97" fill="#0c3c74"/>
<rect x="308.36" y="603.15" width="10.97" height="10.97" fill="#0e3e78"/>
<rect x="318.53" y="603.15" width="10.97" height="10.97" fill="#12467f"/>
<rect x="328.70" y="603.15" width="10.97" height="10.97" fill="#1f5fa0"/>
<rect x="338.87" y="603.15" width="10.97" height="10.97" fill="#164c8a"/>
<rect x="349.04" y="603.15" width="10.97" height="10.97" fill="#0e3e78"/>
<rect x="359.21" y="603.15" width="10.97" height="10.97" fill="#0e3e78"/>
<rect x="369.38" y="603.15" width="10.97" height="10.97" fill="#0c3c74"/>
<rect x="379.55" y="603.15" width="10.97" height="10.97" fill="#0e3e78"/>
<rect x="389.72" y="603.15" width="10.97" height="10.97" fill="#1c5898"/>
<rect x="399.89" y="603.15" width="10.97" height="10.97" fill="#164c8a"/>
<rect x="410.06" y="603.15" width="10.17" height="10.97" fill="#2a6eb0"/>
<rect x="125.30" y="613.32" width="10.97" height="10.97" fill="#62aad2"/>
<rect x="135.47" y="613.32" width="10.97" height="10.97" fill="#bcdaea"/>
<rect x="145.64" y="613.32" width="10.97" height="10.97" fill="#d4e6f1"/>
<rect x="155.81" y="613.32" width="10.97" height="10.97" fill="#e0edf4"/>
<rect x="165.98" y="613.32" width="10.97" height="10.97" fill="#e6eff5"/>
<rect x="176.15" y="613.32" width="10.97" height="10.97" fill="#eef2f5"/>
<rect x="186.32" y="613.32" width="10.97" height="10.97" fill="#f6f1ee"/>
<rect x="196.49" y="613.32" width="10.97" height="10.97" fill="#f6f0ec"/>
<rect x="206.66" y="613.32" width="10.97" height="10.97" fill="#fbe0d2"/>
<rect x="216.83" y="613.32" width="10.97" height="10.97" fill="#f9c6ae"/>
<rect x="227.00" y="613.32" width="10.97" height="10.97" fill="#f7b494"/>
<rect x="237.17" y="613.32" width="10.97" height="10.97" fill="#f6a886"/>
<rect x="247.34" y="613.32" width="10.97" height="10.97" fill="#e0705a"/>
<rect x="257.51" y="613.32" width="10.97" height="10.97" fill="#d8604e"/>
<rect x="267.68" y="613.32" width="10.97" height="10.97" fill="#c8403e"/>
<rect x="277.85" y="613.32" width="10.97" height="10.97" fill="#0c3c74"/>
<rect x="288.02" y="613.32" width="10.97" height="10.97" fill="#082d62"/>
<rect x="298.19" y="613.32" width="10.97" height="10.97" fill="#124480"/>
<rect x="308.36" y="613.32" width="10.97" height="10.97" fill="#134884"/>
<rect x="318.53" y="613.32" width="10.97" height="10.97" fill="#134884"/>
<rect x="328.70" y="613.32" width="10.97" height="10.97" fill="#1a5594"/>
<rect x="338.87" y="613.32" width="10.97" height="10.97" fill="#0e3e78"/>
<rect x="349.04" y="613.32" width="10.97" height="10.97" fill="#124480"/>
<rect x="359.21" y="613.32" width="10.97" height="10.97" fill="#0c3c74"/>
<rect x="369.38" y="613.32" width="10.97" height="10.97" fill="#0e3e78"/>
<rect x="379.55" y="613.32" width="10.97" height="10.97" fill="#124480"/>
<rect x="389.72" y="613.32" width="10.97" height="10.97" fill="#164c8a"/>
<rect x="399.89" y="613.32" width="10.97" height="10.97" fill="#164c8a"/>
<rect x="410.06" y="613.32" width="10.17" height="10.97" fill="#2a6eb0"/>
<rect x="125.30" y="623.49" width="10.97" height="10.97" fill="#5aa0cc"/>
<rect x="135.47" y="623.49" width="10.97" height="10.97" fill="#c8e0ee"/>
<rect x="145.64" y="623.49" width="10.97" height="10.97" fill="#e6eff5"/>
<rect x="155.81" y="623.49" width="10.97" height="10.97" fill="#d2e6f1"/>
<rect x="165.98" y="623.49" width="10.97" height="10.97" fill="#dceaf3"/>
<rect x="176.15" y="623.49" width="10.97" height="10.97" fill="#eef2f5"/>
<rect x="186.32" y="623.49" width="10.97" height="10.97" fill="#f6f1ee"/>
<rect x="196.49" y="623.49" width="10.97" height="10.97" fill="#f4f4f4"/>
<rect x="206.66" y="623.49" width="10.97" height="10.97" fill="#f6f0ec"/>
<rect x="216.83" y="623.49" width="10.97" height="10.97" fill="#fcdccb"/>
<rect x="227.00" y="623.49" width="10.97" height="10.97" fill="#f7b294"/>
<rect x="237.17" y="623.49" width="10.97" height="10.97" fill="#f6ac8c"/>
<rect x="247.34" y="623.49" width="10.97" height="10.97" fill="#e0705a"/>
<rect x="257.51" y="623.49" width="10.97" height="10.97" fill="#d85c4c"/>
<rect x="267.68" y="623.49" width="10.97" height="10.97" fill="#c8403e"/>
<rect x="277.85" y="623.49" width="10.97" height="10.97" fill="#0c3c74"/>
<rect x="288.02" y="623.49" width="10.97" height="10.97" fill="#124480"/>
<rect x="298.19" y="623.49" width="10.97" height="10.97" fill="#082d62"/>
<rect x="308.36" y="623.49" width="10.97" height="10.97" fill="#1f60a4"/>
<rect x="318.53" y="623.49" width="10.97" height="10.97" fill="#1c5898"/>
<rect x="328.70" y="623.49" width="10.97" height="10.97" fill="#2468ae"/>
<rect x="338.87" y="623.49" width="10.97" height="10.97" fill="#124480"/>
<rect x="349.04" y="623.49" width="10.97" height="10.97" fill="#124480"/>
<rect x="359.21" y="623.49" width="10.97" height="10.97" fill="#134884"/>
<rect x="369.38" y="623.49" width="10.97" height="10.97" fill="#134884"/>
<rect x="379.55" y="623.49" width="10.97" height="10.97" fill="#134884"/>
<rect x="389.72" y="623.49" width="10.97" height="10.97" fill="#164c8a"/>
<rect x="399.89" y="623.49" width="10.97" height="10.97" fill="#0e3e78"/>
<rect x="410.06" y="623.49" width="10.17" height="10.97" fill="#3a86c2"/>
<rect x="125.30" y="633.66" width="10.97" height="10.97" fill="#8ac0dc"/>
<rect x="135.47" y="633.66" width="10.97" height="10.97" fill="#c4deec"/>
<rect x="145.64" y="633.66" width="10.97" height="10.97" fill="#d6e8f2"/>
<rect x="155.81" y="633.66" width="10.97" height="10.97" fill="#e6eff5"/>
<rect x="165.98" y="633.66" width="10.97" height="10.97" fill="#e6eff5"/>
<rect x="176.15" y="633.66" width="10.97" height="10.97" fill="#f0f3f5"/>
<rect x="186.32" y="633.66" width="10.97" height="10.97" fill="#f6f2ef"/>
<rect x="196.49" y="633.66" width="10.97" height="10.97" fill="#f9e6dc"/>
<rect x="206.66" y="633.66" width="10.97" height="10.97" fill="#fcd8c4"/>
<rect x="216.83" y="633.66" width="10.97" height="10.97" fill="#f7b498"/>
<rect x="227.00" y="633.66" width="10.97" height="10.97" fill="#f6ac8c"/>
<rect x="237.17" y="633.66" width="10.97" height="10.97" fill="#f4a482"/>
<rect x="247.34" y="633.66" width="10.97" height="10.97" fill="#e47a60"/>
<rect x="257.51" y="633.66" width="10.97" height="10.97" fill="#e0705a"/>
<rect x="267.68" y="633.66" width="10.97" height="10.97" fill="#cc4a44"/>
<rect x="277.85" y="633.66" width="10.97" height="10.97" fill="#0e3e78"/>
<rect x="288.02" y="633.66" width="10.97" height="10.97" fill="#134884"/>
<rect x="298.19" y="633.66" width="10.97" height="10.97" fill="#1f60a4"/>
<rect x="308.36" y="633.66" width="10.97" height="10.97" fill="#082d62"/>
<rect x="318.53" y="633.66" width="10.97" height="10.97" fill="#164c8a"/>
<rect x="328.70" y="633.66" width="10.97" height="10.97" fill="#164c8a"/>
<rect x="338.87" y="633.66" width="10.97" height="10.97" fill="#1a5494"/>
<rect x="349.04" y="633.66" width="10.97" height="10.97" fill="#124480"/>
<rect x="359.21" y="633.66" width="10.97" height="10.97" fill="#0e3e78"/>
<rect x="369.38" y="633.66" width="10.97" height="10.97" fill="#0c3c74"/>
<rect x="379.55" y="633.66" width="10.97" height="10.97" fill="#1a5090"/>
<rect x="389.72" y="633.66" width="10.97" height="10.97" fill="#2a70b2"/>
<rect x="399.89" y="633.66" width="10.97" height="10.97" fill="#2468ae"/>
<rect x="410.06" y="633.66" width="10.17" height="10.97" fill="#1f60a4"/>
<rect x="125.30" y="643.83" width="10.97" height="10.97" fill="#8ec2de"/>
<rect x="135.47" y="643.83" width="10.97" height="10.97" fill="#c8e0ee"/>
<rect x="145.64" y="643.83" width="10.97" height="10.97" fill="#d6e8f2"/>
<rect x="155.81" y="643.83" width="10.97" height="10.97" fill="#f0f3f5"/>
<rect x="165.98" y="643.83" width="10.97" height="10.97" fill="#e6eff5"/>
<rect x="176.15" y="643.83" width="10.97" height="10.97" fill="#f2f3f4"/>
<rect x="186.32" y="643.83" width="10.97" height="10.97" fill="#fbe2d6"/>
<rect x="196.49" y="643.83" width="10.97" height="10.97" fill="#fbe2d6"/>
<rect x="206.66" y="643.83" width="10.97" height="10.97" fill="#f7b89c"/>
<rect x="216.83" y="643.83" width="10.97" height="10.97" fill="#ef9270"/>
<rect x="227.00" y="643.83" width="10.97" height="10.97" fill="#f2a07e"/>
<rect x="237.17" y="643.83" width="10.97" height="10.97" fill="#e88060"/>
<rect x="247.34" y="643.83" width="10.97" height="10.97" fill="#d0504a"/>
<rect x="257.51" y="643.83" width="10.97" height="10.97" fill="#d0504a"/>
<rect x="267.68" y="643.83" width="10.97" height="10.97" fill="#b82a34"/>
<rect x="277.85" y="643.83" width="10.97" height="10.97" fill="#12467f"/>
<rect x="288.02" y="643.83" width="10.97" height="10.97" fill="#134884"/>
<rect x="298.19" y="643.83" width="10.97" height="10.97" fill="#1c5898"/>
<rect x="308.36" y="643.83" width="10.97" height="10.97" fill="#164c8a"/>
<rect x="318.53" y="643.83" width="10.97" height="10.97" fill="#082d62"/>
<rect x="328.70" y="643.83" width="10.97" height="10.97" fill="#0a3068"/>
<rect x="338.87" y="643.83" width="10.97" height="10.97" fill="#164c8a"/>
<rect x="349.04" y="643.83" width="10.97" height="10.97" fill="#1a5594"/>
<rect x="359.21" y="643.83" width="10.97" height="10.97" fill="#1a5594"/>
<rect x="369.38" y="643.83" width="10.97" height="10.97" fill="#164c8a"/>
<rect x="379.55" y="643.83" width="10.97" height="10.97" fill="#2468ae"/>
<rect x="389.72" y="643.83" width="10.97" height="10.97" fill="#2e74b4"/>
<rect x="399.89" y="643.83" width="10.97" height="10.97" fill="#2468ae"/>
<rect x="410.06" y="643.83" width="10.17" height="10.97" fill="#1a5594"/>
<rect x="125.30" y="654.00" width="10.97" height="10.97" fill="#9cc8e0"/>
<rect x="135.47" y="654.00" width="10.97" height="10.97" fill="#c4deec"/>
<rect x="145.64" y="654.00" width="10.97" height="10.97" fill="#d6e8f2"/>
<rect x="155.81" y="654.00" width="10.97" height="10.97" fill="#f4f4f4"/>
<rect x="165.98" y="654.00" width="10.97" height="10.97" fill="#e6eef4"/>
<rect x="176.15" y="654.00" width="10.97" height="10.97" fill="#f6f1ee"/>
<rect x="186.32" y="654.00" width="10.97" height="10.97" fill="#fbe4d8"/>
<rect x="196.49" y="654.00" width="10.97" height="10.97" fill="#fbe2d6"/>
<rect x="206.66" y="654.00" width="10.97" height="10.97" fill="#f4a886"/>
<rect x="216.83" y="654.00" width="10.97" height="10.97" fill="#e98a6c"/>
<rect x="227.00" y="654.00" width="10.97" height="10.97" fill="#f4a482"/>
<rect x="237.17" y="654.00" width="10.97" height="10.97" fill="#ec8c6c"/>
<rect x="247.34" y="654.00" width="10.97" height="10.97" fill="#d0504a"/>
<rect x="257.51" y="654.00" width="10.97" height="10.97" fill="#d85c4c"/>
<rect x="267.68" y="654.00" width="10.97" height="10.97" fill="#c83c3c"/>
<rect x="277.85" y="654.00" width="10.97" height="10.97" fill="#1f5fa0"/>
<rect x="288.02" y="654.00" width="10.97" height="10.97" fill="#1a5594"/>
<rect x="298.19" y="654.00" width="10.97" height="10.97" fill="#2468ae"/>
<rect x="308.36" y="654.00" width="10.97" height="10.97" fill="#164c8a"/>
<rect x="318.53" y="654.00" width="10.97" height="10.97" fill="#0a3068"/>
<rect x="328.70" y="654.00" width="10.97" height="10.97" fill="#072c60"/>
<rect x="338.87" y="654.00" width="10.97" height="10.97" fill="#134884"/>
<rect x="349.04" y="654.00" width="10.97" height="10.97" fill="#2468ae"/>
<rect x="359.21" y="654.00" width="10.97" height="10.97" fill="#1f60a4"/>
<rect x="369.38" y="654.00" width="10.97" height="10.97" fill="#1a5594"/>
<rect x="379.55" y="654.00" width="10.97" height="10.97" fill="#2e78b8"/>
<rect x="389.72" y="654.00" width="10.97" height="10.97" fill="#3a86c2"/>
<rect x="399.89" y="654.00" width="10.97" height="10.97" fill="#3080bc"/>
<rect x="410.06" y="654.00" width="10.17" height="10.97" fill="#164c8a"/>
<rect x="125.30" y="664.17" width="10.97" height="10.97" fill="#6aaad2"/>
<rect x="135.47" y="664.17" width="10.97" height="10.97" fill="#c0dcec"/>
<rect x="145.64" y="664.17" width="10.97" height="10.97" fill="#dceaf3"/>
<rect x="155.81" y="664.17" width="10.97" height="10.97" fill="#eaf0f4"/>
<rect x="165.98" y="664.17" width="10.97" height="10.97" fill="#eef2f5"/>
<rect x="176.15" y="664.17" width="10.97" height="10.97" fill="#f6f3f1"/>
<rect x="186.32" y="664.17" width="10.97" height="10.97" fill="#fbe6dc"/>
<rect x="196.49" y="664.17" width="10.97" height="10.97" fill="#f9e6dc"/>
<rect x="206.66" y="664.17" width="10.97" height="10.97" fill="#f9cdb4"/>
<rect x="216.83" y="664.17" width="10.97" height="10.97" fill="#f4a886"/>
<rect x="227.00" y="664.17" width="10.97" height="10.97" fill="#f4a482"/>
<rect x="237.17" y="664.17" width="10.97" height="10.97" fill="#ec8c6c"/>
<rect x="247.34" y="664.17" width="10.97" height="10.97" fill="#cc4844"/>
<rect x="257.51" y="664.17" width="10.97" height="10.97" fill="#cc4844"/>
<rect x="267.68" y="664.17" width="10.97" height="10.97" fill="#c03034"/>
<rect x="277.85" y="664.17" width="10.97" height="10.97" fill="#164c8a"/>
<rect x="288.02" y="664.17" width="10.97" height="10.97" fill="#0e3e78"/>
<rect x="298.19" y="664.17" width="10.97" height="10.97" fill="#124480"/>
<rect x="308.36" y="664.17" width="10.97" height="10.97" fill="#1a5494"/>
<rect x="318.53" y="664.17" width="10.97" height="10.97" fill="#164c8a"/>
<rect x="328.70" y="664.17" width="10.97" height="10.97" fill="#134884"/>
<rect x="338.87" y="664.17" width="10.97" height="10.97" fill="#082d62"/>
<rect x="349.04" y="664.17" width="10.97" height="10.97" fill="#1a5594"/>
<rect x="359.21" y="664.17" width="10.97" height="10.97" fill="#134884"/>
<rect x="369.38" y="664.17" width="10.97" height="10.97" fill="#134884"/>
<rect x="379.55" y="664.17" width="10.97" height="10.97" fill="#2468ae"/>
<rect x="389.72" y="664.17" width="10.97" height="10.97" fill="#1a5594"/>
<rect x="399.89" y="664.17" width="10.97" height="10.97" fill="#1a5594"/>
<rect x="410.06" y="664.17" width="10.17" height="10.97" fill="#2063a8"/>
<rect x="125.30" y="674.34" width="10.97" height="10.97" fill="#7ab6d8"/>
<rect x="135.47" y="674.34" width="10.97" height="10.97" fill="#dceaf3"/>
<rect x="145.64" y="674.34" width="10.97" height="10.97" fill="#f0f3f5"/>
<rect x="155.81" y="674.34" width="10.97" height="10.97" fill="#e6eef4"/>
<rect x="165.98" y="674.34" width="10.97" height="10.97" fill="#e0ecf4"/>
<rect x="176.15" y="674.34" width="10.97" height="10.97" fill="#f4f1ef"/>
<rect x="186.32" y="674.34" width="10.97" height="10.97" fill="#fbe4d8"/>
<rect x="196.49" y="674.34" width="10.97" height="10.97" fill="#fbe4d8"/>
<rect x="206.66" y="674.34" width="10.97" height="10.97" fill="#fce0d0"/>
<rect x="216.83" y="674.34" width="10.97" height="10.97" fill="#f6b496"/>
<rect x="227.00" y="674.34" width="10.97" height="10.97" fill="#f4a482"/>
<rect x="237.17" y="674.34" width="10.97" height="10.97" fill="#f09878"/>
<rect x="247.34" y="674.34" width="10.97" height="10.97" fill="#d85c4c"/>
<rect x="257.51" y="674.34" width="10.97" height="10.97" fill="#d05048"/>
<rect x="267.68" y="674.34" width="10.97" height="10.97" fill="#c03034"/>
<rect x="277.85" y="674.34" width="10.97" height="10.97" fill="#0e3e78"/>
<rect x="288.02" y="674.34" width="10.97" height="10.97" fill="#124480"/>
<rect x="298.19" y="674.34" width="10.97" height="10.97" fill="#124480"/>
<rect x="308.36" y="674.34" width="10.97" height="10.97" fill="#124480"/>
<rect x="318.53" y="674.34" width="10.97" height="10.97" fill="#1a5594"/>
<rect x="328.70" y="674.34" width="10.97" height="10.97" fill="#2468ae"/>
<rect x="338.87" y="674.34" width="10.97" height="10.97" fill="#1a5594"/>
<rect x="349.04" y="674.34" width="10.97" height="10.97" fill="#082d62"/>
<rect x="359.21" y="674.34" width="10.97" height="10.97" fill="#124480"/>
<rect x="369.38" y="674.34" width="10.97" height="10.97" fill="#0e3e78"/>
<rect x="379.55" y="674.34" width="10.97" height="10.97" fill="#0e3e78"/>
<rect x="389.72" y="674.34" width="10.97" height="10.97" fill="#1a5594"/>
<rect x="399.89" y="674.34" width="10.97" height="10.97" fill="#0e3e78"/>
<rect x="410.06" y="674.34" width="10.17" height="10.97" fill="#3a88c2"/>
<rect x="125.30" y="684.51" width="10.97" height="10.97" fill="#7ab8d8"/>
<rect x="135.47" y="684.51" width="10.97" height="10.97" fill="#dceaf3"/>
<rect x="145.64" y="684.51" width="10.97" height="10.97" fill="#eef2f5"/>
<rect x="155.81" y="684.51" width="10.97" height="10.97" fill="#eaf0f4"/>
<rect x="165.98" y="684.51" width="10.97" height="10.97" fill="#f4f4f4"/>
<rect x="176.15" y="684.51" width="10.97" height="10.97" fill="#f9e6dc"/>
<rect x="186.32" y="684.51" width="10.97" height="10.97" fill="#fcdccb"/>
<rect x="196.49" y="684.51" width="10.97" height="10.97" fill="#fcdccb"/>
<rect x="206.66" y="684.51" width="10.97" height="10.97" fill="#f9cdb4"/>
<rect x="216.83" y="684.51" width="10.97" height="10.97" fill="#ef9a78"/>
<rect x="227.00" y="684.51" width="10.97" height="10.97" fill="#f09878"/>
<rect x="237.17" y="684.51" width="10.97" height="10.97" fill="#e47a60"/>
<rect x="247.34" y="684.51" width="10.97" height="10.97" fill="#c83c3c"/>
<rect x="257.51" y="684.51" width="10.97" height="10.97" fill="#c03034"/>
<rect x="267.68" y="684.51" width="10.97" height="10.97" fill="#ac1a2c"/>
<rect x="277.85" y="684.51" width="10.97" height="10.97" fill="#0e3e78"/>
<rect x="288.02" y="684.51" width="10.97" height="10.97" fill="#0c3c74"/>
<rect x="298.19" y="684.51" width="10.97" height="10.97" fill="#134884"/>
<rect x="308.36" y="684.51" width="10.97" height="10.97" fill="#0e3e78"/>
<rect x="318.53" y="684.51" width="10.97" height="10.97" fill="#1a5594"/>
<rect x="328.70" y="684.51" width="10.97" height="10.97" fill="#1f60a4"/>
<rect x="338.87" y="684.51" width="10.97" height="10.97" fill="#134884"/>
<rect x="349.04" y="684.51" width="10.97" height="10.97" fill="#124480"/>
<rect x="359.21" y="684.51" width="10.97" height="10.97" fill="#072c60"/>
<rect x="369.38" y="684.51" width="10.97" height="10.97" fill="#0c3c74"/>
<rect x="379.55" y="684.51" width="10.97" height="10.97" fill="#134884"/>
<rect x="389.72" y="684.51" width="10.97" height="10.97" fill="#1a5594"/>
<rect x="399.89" y="684.51" width="10.97" height="10.97" fill="#134884"/>
<rect x="410.06" y="684.51" width="10.17" height="10.97" fill="#2e78b8"/>
<rect x="125.30" y="694.68" width="10.97" height="10.97" fill="#94c4de"/>
<rect x="135.47" y="694.68" width="10.97" height="10.97" fill="#dceaf3"/>
<rect x="145.64" y="694.68" width="10.97" height="10.97" fill="#f0f3f5"/>
<rect x="155.81" y="694.68" width="10.97" height="10.97" fill="#f4f4f4"/>
<rect x="165.98" y="694.68" width="10.97" height="10.97" fill="#f4f4f4"/>
<rect x="176.15" y="694.68" width="10.97" height="10.97" fill="#f9e6dc"/>
<rect x="186.32" y="694.68" width="10.97" height="10.97" fill="#fcdccb"/>
<rect x="196.49" y="694.68" width="10.97" height="10.97" fill="#fcd8c4"/>
<rect x="206.66" y="694.68" width="10.97" height="10.97" fill="#f7c0a4"/>
<rect x="216.83" y="694.68" width="10.97" height="10.97" fill="#ee9474"/>
<rect x="227.00" y="694.68" width="10.97" height="10.97" fill="#e88466"/>
<rect x="237.17" y="694.68" width="10.97" height="10.97" fill="#e47a60"/>
<rect x="247.34" y="694.68" width="10.97" height="10.97" fill="#c83c3c"/>
<rect x="257.51" y="694.68" width="10.97" height="10.97" fill="#c83c3c"/>
<rect x="267.68" y="694.68" width="10.97" height="10.97" fill="#ac1a2c"/>
<rect x="277.85" y="694.68" width="10.97" height="10.97" fill="#0c3c74"/>
<rect x="288.02" y="694.68" width="10.97" height="10.97" fill="#0e3e78"/>
<rect x="298.19" y="694.68" width="10.97" height="10.97" fill="#134884"/>
<rect x="308.36" y="694.68" width="10.97" height="10.97" fill="#0c3c74"/>
<rect x="318.53" y="694.68" width="10.97" height="10.97" fill="#164c8a"/>
<rect x="328.70" y="694.68" width="10.97" height="10.97" fill="#1a5594"/>
<rect x="338.87" y="694.68" width="10.97" height="10.97" fill="#134884"/>
<rect x="349.04" y="694.68" width="10.97" height="10.97" fill="#0e3e78"/>
<rect x="359.21" y="694.68" width="10.97" height="10.97" fill="#0c3c74"/>
<rect x="369.38" y="694.68" width="10.97" height="10.97" fill="#072c60"/>
<rect x="379.55" y="694.68" width="10.97" height="10.97" fill="#0e3e78"/>
<rect x="389.72" y="694.68" width="10.97" height="10.97" fill="#1a5594"/>
<rect x="399.89" y="694.68" width="10.97" height="10.97" fill="#134884"/>
<rect x="410.06" y="694.68" width="10.17" height="10.97" fill="#2e74b4"/>
<rect x="125.30" y="704.85" width="10.97" height="10.97" fill="#94c4de"/>
<rect x="135.47" y="704.85" width="10.97" height="10.97" fill="#f5f5f5"/>
<rect x="145.64" y="704.85" width="10.97" height="10.97" fill="#fbe4d8"/>
<rect x="155.81" y="704.85" width="10.97" height="10.97" fill="#f2f3f4"/>
<rect x="165.98" y="704.85" width="10.97" height="10.97" fill="#f4f4f4"/>
<rect x="176.15" y="704.85" width="10.97" height="10.97" fill="#fae4d8"/>
<rect x="186.32" y="704.85" width="10.97" height="10.97" fill="#fcd8c4"/>
<rect x="196.49" y="704.85" width="10.97" height="10.97" fill="#fcd8c4"/>
<rect x="206.66" y="704.85" width="10.97" height="10.97" fill="#fce0d0"/>
<rect x="216.83" y="704.85" width="10.97" height="10.97" fill="#f6b496"/>
<rect x="227.00" y="704.85" width="10.97" height="10.97" fill="#e88466"/>
<rect x="237.17" y="704.85" width="10.97" height="10.97" fill="#e88466"/>
<rect x="247.34" y="704.85" width="10.97" height="10.97" fill="#c83c3c"/>
<rect x="257.51" y="704.85" width="10.97" height="10.97" fill="#c43838"/>
<rect x="267.68" y="704.85" width="10.97" height="10.97" fill="#a4142a"/>
<rect x="277.85" y="704.85" width="10.97" height="10.97" fill="#0e3e78"/>
<rect x="288.02" y="704.85" width="10.97" height="10.97" fill="#124480"/>
<rect x="298.19" y="704.85" width="10.97" height="10.97" fill="#134884"/>
<rect x="308.36" y="704.85" width="10.97" height="10.97" fill="#1a5090"/>
<rect x="318.53" y="704.85" width="10.97" height="10.97" fill="#2468ae"/>
<rect x="328.70" y="704.85" width="10.97" height="10.97" fill="#2e78b8"/>
<rect x="338.87" y="704.85" width="10.97" height="10.97" fill="#2468ae"/>
<rect x="349.04" y="704.85" width="10.97" height="10.97" fill="#0e3e78"/>
<rect x="359.21" y="704.85" width="10.97" height="10.97" fill="#134884"/>
<rect x="369.38" y="704.85" width="10.97" height="10.97" fill="#0e3e78"/>
<rect x="379.55" y="704.85" width="10.97" height="10.97" fill="#072c60"/>
<rect x="389.72" y="704.85" width="10.97" height="10.97" fill="#1f60a4"/>
<rect x="399.89" y="704.85" width="10.97" height="10.97" fill="#0e3e78"/>
<rect x="410.06" y="704.85" width="10.17" height="10.97" fill="#62a8d2"/>
<rect x="125.30" y="715.02" width="10.97" height="10.97" fill="#94c4de"/>
<rect x="135.47" y="715.02" width="10.97" height="10.97" fill="#e6eef4"/>
<rect x="145.64" y="715.02" width="10.97" height="10.97" fill="#f9e6dc"/>
<rect x="155.81" y="715.02" width="10.97" height="10.97" fill="#f5f4f3"/>
<rect x="165.98" y="715.02" width="10.97" height="10.97" fill="#f9e6dc"/>
<rect x="176.15" y="715.02" width="10.97" height="10.97" fill="#fbe0d2"/>
<rect x="186.32" y="715.02" width="10.97" height="10.97" fill="#fcdccb"/>
<rect x="196.49" y="715.02" width="10.97" height="10.97" fill="#fcd8c4"/>
<rect x="206.66" y="715.02" width="10.97" height="10.97" fill="#f9c6ae"/>
<rect x="216.83" y="715.02" width="10.97" height="10.97" fill="#f4a886"/>
<rect x="227.00" y="715.02" width="10.97" height="10.97" fill="#e47a60"/>
<rect x="237.17" y="715.02" width="10.97" height="10.97" fill="#e47a60"/>
<rect x="247.34" y="715.02" width="10.97" height="10.97" fill="#b82430"/>
<rect x="257.51" y="715.02" width="10.97" height="10.97" fill="#9a0e28"/>
<rect x="267.68" y="715.02" width="10.97" height="10.97" fill="#880a24"/>
<rect x="277.85" y="715.02" width="10.97" height="10.97" fill="#1c5898"/>
<rect x="288.02" y="715.02" width="10.97" height="10.97" fill="#164c8a"/>
<rect x="298.19" y="715.02" width="10.97" height="10.97" fill="#164c8a"/>
<rect x="308.36" y="715.02" width="10.97" height="10.97" fill="#2a70b2"/>
<rect x="318.53" y="715.02" width="10.97" height="10.97" fill="#2e74b4"/>
<rect x="328.70" y="715.02" width="10.97" height="10.97" fill="#3a86c2"/>
<rect x="338.87" y="715.02" width="10.97" height="10.97" fill="#1a5594"/>
<rect x="349.04" y="715.02" width="10.97" height="10.97" fill="#1a5594"/>
<rect x="359.21" y="715.02" width="10.97" height="10.97" fill="#1a5594"/>
<rect x="369.38" y="715.02" width="10.97" height="10.97" fill="#1a5594"/>
<rect x="379.55" y="715.02" width="10.97" height="10.97" fill="#1f60a4"/>
<rect x="389.72" y="715.02" width="10.97" height="10.97" fill="#072c60"/>
<rect x="399.89" y="715.02" width="10.97" height="10.97" fill="#124480"/>
<rect x="410.06" y="715.02" width="10.17" height="10.97" fill="#62a8d2"/>
<rect x="125.30" y="725.19" width="10.97" height="10.97" fill="#94c4de"/>
<rect x="135.47" y="725.19" width="10.97" height="10.97" fill="#f8f2ee"/>
<rect x="145.64" y="725.19" width="10.97" height="10.97" fill="#fbe0d2"/>
<rect x="155.81" y="725.19" width="10.97" height="10.97" fill="#f6f0ec"/>
<rect x="165.98" y="725.19" width="10.97" height="10.97" fill="#f6f0ec"/>
<rect x="176.15" y="725.19" width="10.97" height="10.97" fill="#fbe0d2"/>
<rect x="186.32" y="725.19" width="10.97" height="10.97" fill="#f9c8b0"/>
<rect x="196.49" y="725.19" width="10.97" height="10.97" fill="#fbd0b8"/>
<rect x="206.66" y="725.19" width="10.97" height="10.97" fill="#fbd0b8"/>
<rect x="216.83" y="725.19" width="10.97" height="10.97" fill="#f4a886"/>
<rect x="227.00" y="725.19" width="10.97" height="10.97" fill="#d8604e"/>
<rect x="237.17" y="725.19" width="10.97" height="10.97" fill="#d0504a"/>
<rect x="247.34" y="725.19" width="10.97" height="10.97" fill="#9a0e28"/>
<rect x="257.51" y="725.19" width="10.97" height="10.97" fill="#9a0e28"/>
<rect x="267.68" y="725.19" width="10.97" height="10.97" fill="#6e0020"/>
<rect x="277.85" y="725.19" width="10.97" height="10.97" fill="#164c8a"/>
<rect x="288.02" y="725.19" width="10.97" height="10.97" fill="#164c8a"/>
<rect x="298.19" y="725.19" width="10.97" height="10.97" fill="#0e3e78"/>
<rect x="308.36" y="725.19" width="10.97" height="10.97" fill="#2468ae"/>
<rect x="318.53" y="725.19" width="10.97" height="10.97" fill="#2468ae"/>
<rect x="328.70" y="725.19" width="10.97" height="10.97" fill="#3080bc"/>
<rect x="338.87" y="725.19" width="10.97" height="10.97" fill="#1a5594"/>
<rect x="349.04" y="725.19" width="10.97" height="10.97" fill="#0e3e78"/>
<rect x="359.21" y="725.19" width="10.97" height="10.97" fill="#134884"/>
<rect x="369.38" y="725.19" width="10.97" height="10.97" fill="#134884"/>
<rect x="379.55" y="725.19" width="10.97" height="10.97" fill="#0e3e78"/>
<rect x="389.72" y="725.19" width="10.97" height="10.97" fill="#124480"/>
<rect x="399.89" y="725.19" width="10.97" height="10.97" fill="#072c60"/>
<rect x="410.06" y="725.19" width="10.17" height="10.97" fill="#62a8d2"/>
<rect x="125.30" y="735.36" width="10.97" height="10.17" fill="#b4d6e8"/>
<rect x="135.47" y="735.36" width="10.97" height="10.17" fill="#b8d8ea"/>
<rect x="145.64" y="735.36" width="10.97" height="10.17" fill="#c8e0ee"/>
<rect x="155.81" y="735.36" width="10.97" height="10.17" fill="#f9ebe3"/>
<rect x="165.98" y="735.36" width="10.97" height="10.17" fill="#f9ebe3"/>
<rect x="176.15" y="735.36" width="10.97" height="10.17" fill="#f6f2f0"/>
<rect x="186.32" y="735.36" width="10.97" height="10.17" fill="#fcdccb"/>
<rect x="196.49" y="735.36" width="10.97" height="10.17" fill="#fcd8c4"/>
<rect x="206.66" y="735.36" width="10.97" height="10.17" fill="#e88a6e"/>
<rect x="216.83" y="735.36" width="10.97" height="10.17" fill="#d85a4c"/>
<rect x="227.00" y="735.36" width="10.97" height="10.17" fill="#f4a482"/>
<rect x="237.17" y="735.36" width="10.97" height="10.17" fill="#e88466"/>
<rect x="247.34" y="735.36" width="10.97" height="10.17" fill="#e0705a"/>
<rect x="257.51" y="735.36" width="10.97" height="10.17" fill="#d8604e"/>
<rect x="267.68" y="735.36" width="10.97" height="10.17" fill="#c83c3c"/>
<rect x="277.85" y="735.36" width="10.97" height="10.17" fill="#2a6eb0"/>
<rect x="288.02" y="735.36" width="10.97" height="10.17" fill="#2a6eb0"/>
<rect x="298.19" y="735.36" width="10.97" height="10.17" fill="#3a86c2"/>
<rect x="308.36" y="735.36" width="10.97" height="10.17" fill="#1f60a4"/>
<rect x="318.53" y="735.36" width="10.97" height="10.17" fill="#1a5594"/>
<rect x="328.70" y="735.36" width="10.97" height="10.17" fill="#164c8a"/>
<rect x="338.87" y="735.36" width="10.97" height="10.17" fill="#2063a8"/>
<rect x="349.04" y="735.36" width="10.97" height="10.17" fill="#3a88c2"/>
<rect x="359.21" y="735.36" width="10.97" height="10.17" fill="#2e78b8"/>
<rect x="369.38" y="735.36" width="10.97" height="10.17" fill="#2e74b4"/>
<rect x="379.55" y="735.36" width="10.97" height="10.17" fill="#62a8d2"/>
<rect x="389.72" y="735.36" width="10.97" height="10.17" fill="#62a8d2"/>
<rect x="399.89" y="735.36" width="10.97" height="10.17" fill="#62a8d2"/>
<rect x="410.06" y="735.36" width="10.17" height="10.17" fill="#072c60"/>
<rect x="125.30" y="439.20" width="10.97" height="8.50" fill="#31a8b8"/>
<rect x="422.40" y="450.60" width="7.80" height="10.97" fill="#31a8b8"/>
<rect x="135.47" y="439.20" width="10.97" height="8.50" fill="#d13a20"/>
<rect x="422.40" y="460.77" width="7.80" height="10.97" fill="#d13a20"/>
<rect x="145.64" y="439.20" width="10.97" height="8.50" fill="#31a8b8"/>
<rect x="422.40" y="470.94" width="7.80" height="10.97" fill="#31a8b8"/>
<rect x="155.81" y="439.20" width="10.97" height="8.50" fill="#d13a20"/>
<rect x="422.40" y="481.11" width="7.80" height="10.97" fill="#d13a20"/>
<rect x="165.98" y="439.20" width="10.97" height="8.50" fill="#31a8b8"/>
<rect x="422.40" y="491.28" width="7.80" height="10.97" fill="#31a8b8"/>
<rect x="176.15" y="439.20" width="10.97" height="8.50" fill="#31a8b8"/>
<rect x="422.40" y="501.45" width="7.80" height="10.97" fill="#31a8b8"/>
<rect x="186.32" y="439.20" width="10.97" height="8.50" fill="#d13a20"/>
<rect x="422.40" y="511.62" width="7.80" height="10.97" fill="#d13a20"/>
<rect x="196.49" y="439.20" width="10.97" height="8.50" fill="#d13a20"/>
<rect x="422.40" y="521.79" width="7.80" height="10.97" fill="#d13a20"/>
<rect x="206.66" y="439.20" width="10.97" height="8.50" fill="#d13a20"/>
<rect x="422.40" y="531.96" width="7.80" height="10.97" fill="#d13a20"/>
<rect x="216.83" y="439.20" width="10.97" height="8.50" fill="#d13a20"/>
<rect x="422.40" y="542.13" width="7.80" height="10.97" fill="#d13a20"/>
<rect x="227.00" y="439.20" width="10.97" height="8.50" fill="#31a8b8"/>
<rect x="422.40" y="552.30" width="7.80" height="10.97" fill="#31a8b8"/>
<rect x="237.17" y="439.20" width="10.97" height="8.50" fill="#d13a20"/>
<rect x="422.40" y="562.47" width="7.80" height="10.97" fill="#d13a20"/>
<rect x="247.34" y="439.20" width="10.97" height="8.50" fill="#d13a20"/>
<rect x="422.40" y="572.64" width="7.80" height="10.97" fill="#d13a20"/>
<rect x="257.51" y="439.20" width="10.97" height="8.50" fill="#31a8b8"/>
<rect x="422.40" y="582.81" width="7.80" height="10.97" fill="#31a8b8"/>
<rect x="267.68" y="439.20" width="10.97" height="8.50" fill="#31a8b8"/>
<rect x="422.40" y="592.98" width="7.80" height="10.97" fill="#31a8b8"/>
<rect x="277.85" y="439.20" width="10.97" height="8.50" fill="#f3bb3f"/>
<rect x="422.40" y="603.15" width="7.80" height="10.97" fill="#f3bb3f"/>
<rect x="288.02" y="439.20" width="10.97" height="8.50" fill="#f3bb3f"/>
<rect x="422.40" y="613.32" width="7.80" height="10.97" fill="#f3bb3f"/>
<rect x="298.19" y="439.20" width="10.97" height="8.50" fill="#f3bb3f"/>
<rect x="422.40" y="623.49" width="7.80" height="10.97" fill="#f3bb3f"/>
<rect x="308.36" y="439.20" width="10.97" height="8.50" fill="#f3bb3f"/>
<rect x="422.40" y="633.66" width="7.80" height="10.97" fill="#f3bb3f"/>
<rect x="318.53" y="439.20" width="10.97" height="8.50" fill="#f3bb3f"/>
<rect x="422.40" y="643.83" width="7.80" height="10.97" fill="#f3bb3f"/>
<rect x="328.70" y="439.20" width="10.97" height="8.50" fill="#f3bb3f"/>
<rect x="422.40" y="654.00" width="7.80" height="10.97" fill="#f3bb3f"/>
<rect x="338.87" y="439.20" width="10.97" height="8.50" fill="#f3bb3f"/>
<rect x="422.40" y="664.17" width="7.80" height="10.97" fill="#f3bb3f"/>
<rect x="349.04" y="439.20" width="10.97" height="8.50" fill="#f3bb3f"/>
<rect x="422.40" y="674.34" width="7.80" height="10.97" fill="#f3bb3f"/>
<rect x="359.21" y="439.20" width="10.97" height="8.50" fill="#f3bb3f"/>
<rect x="422.40" y="684.51" width="7.80" height="10.97" fill="#f3bb3f"/>
<rect x="369.38" y="439.20" width="10.97" height="8.50" fill="#f3bb3f"/>
<rect x="422.40" y="694.68" width="7.80" height="10.97" fill="#f3bb3f"/>
<rect x="379.55" y="439.20" width="10.97" height="8.50" fill="#f3bb3f"/>
<rect x="422.40" y="704.85" width="7.80" height="10.97" fill="#f3bb3f"/>
<rect x="389.72" y="439.20" width="10.97" height="8.50" fill="#f3bb3f"/>
<rect x="422.40" y="715.02" width="7.80" height="10.97" fill="#f3bb3f"/>
<rect x="399.89" y="439.20" width="10.97" height="8.50" fill="#f3bb3f"/>
<rect x="422.40" y="725.19" width="7.80" height="10.97" fill="#f3bb3f"/>
<rect x="410.06" y="439.20" width="10.17" height="8.50" fill="#f3bb3f"/>
<rect x="422.40" y="735.36" width="7.80" height="10.17" fill="#f3bb3f"/>
<rect x="46.70" y="450.60" width="13.20" height="10.97" fill="#fde725"/>
<rect x="59.10" y="450.60" width="13.00" height="10.97" fill="#dfe03a"/>
<rect x="71.30" y="450.60" width="12.30" height="10.97" fill="#3b9b8c"/>
<rect x="84.70" y="450.60" width="13.00" height="10.97" fill="#d47a94"/>
<rect x="96.90" y="450.60" width="13.00" height="10.97" fill="#f5dcb5"/>
<rect x="109.10" y="450.60" width="12.70" height="10.97" fill="#efc4a8"/>
<rect x="46.70" y="460.77" width="13.20" height="10.97" fill="#8fb06e"/>
<rect x="59.10" y="460.77" width="13.00" height="10.97" fill="#6fa47e"/>
<rect x="71.30" y="460.77" width="12.30" height="10.97" fill="#3b9b8c"/>
<rect x="84.70" y="460.77" width="13.00" height="10.97" fill="#ecb5a3"/>
<rect x="96.90" y="460.77" width="13.00" height="10.97" fill="#f3d2b0"/>
<rect x="109.10" y="460.77" width="12.70" height="10.97" fill="#eab5a0"/>
<rect x="46.70" y="470.94" width="13.20" height="10.97" fill="#2c8c8c"/>
<rect x="59.10" y="470.94" width="13.00" height="10.97" fill="#5aa68a"/>
<rect x="71.30" y="470.94" width="12.30" height="10.97" fill="#a6c065"/>
<rect x="84.70" y="470.94" width="13.00" height="10.97" fill="#6e2249"/>
<rect x="96.90" y="470.94" width="13.00" height="10.97" fill="#4a1b34"/>
<rect x="109.10" y="470.94" width="12.70" height="10.97" fill="#6b2146"/>
<rect x="46.70" y="481.11" width="13.20" height="10.97" fill="#86ad72"/>
<rect x="59.10" y="481.11" width="13.00" height="10.97" fill="#c8c959"/>
<rect x="71.30" y="481.11" width="12.30" height="10.97" fill="#a8c162"/>
<rect x="84.70" y="481.11" width="13.00" height="10.97" fill="#eaaa9f"/>
<rect x="96.90" y="481.11" width="13.00" height="10.97" fill="#edb6a0"/>
<rect x="109.10" y="481.11" width="12.70" height="10.97" fill="#f5dcb5"/>
<rect x="46.70" y="491.28" width="13.20" height="10.97" fill="#86ad72"/>
<rect x="59.10" y="491.28" width="13.00" height="10.97" fill="#2a8a8a"/>
<rect x="71.30" y="491.28" width="12.30" height="10.97" fill="#3b8087"/>
<rect x="84.70" y="491.28" width="13.00" height="10.97" fill="#e9a79e"/>
<rect x="96.90" y="491.28" width="13.00" height="10.97" fill="#edb6a0"/>
<rect x="109.10" y="491.28" width="12.70" height="10.97" fill="#d67a98"/>
<rect x="46.70" y="501.45" width="13.20" height="10.97" fill="#44647e"/>
<rect x="59.10" y="501.45" width="13.00" height="10.97" fill="#4e0b6b"/>
<rect x="71.30" y="501.45" width="12.30" height="10.97" fill="#4a5f80"/>
<rect x="84.70" y="501.45" width="13.00" height="10.97" fill="#ae3777"/>
<rect x="96.90" y="501.45" width="13.00" height="10.97" fill="#5c1d40"/>
<rect x="109.10" y="501.45" width="12.70" height="10.97" fill="#050310"/>
<rect x="46.70" y="511.62" width="13.20" height="10.97" fill="#a6bd62"/>
<rect x="59.10" y="511.62" width="13.00" height="10.97" fill="#b5c35e"/>
<rect x="71.30" y="511.62" width="12.30" height="10.97" fill="#8aae78"/>
<rect x="84.70" y="511.62" width="13.00" height="10.97" fill="#d56e8d"/>
<rect x="96.90" y="511.62" width="13.00" height="10.97" fill="#e08e98"/>
<rect x="109.10" y="511.62" width="12.70" height="10.97" fill="#e5a0a0"/>
<rect x="46.70" y="521.79" width="13.20" height="10.97" fill="#40968a"/>
<rect x="59.10" y="521.79" width="13.00" height="10.97" fill="#47687f"/>
<rect x="71.30" y="521.79" width="12.30" height="10.97" fill="#3b7f88"/>
<rect x="84.70" y="521.79" width="13.00" height="10.97" fill="#992a66"/>
<rect x="96.90" y="521.79" width="13.00" height="10.97" fill="#8a2659"/>
<rect x="109.10" y="521.79" width="12.70" height="10.97" fill="#4c1a35"/>
<rect x="46.70" y="531.96" width="13.20" height="10.97" fill="#a6bd62"/>
<rect x="59.10" y="531.96" width="13.00" height="10.97" fill="#55a284"/>
<rect x="71.30" y="531.96" width="12.30" height="10.97" fill="#3b8288"/>
<rect x="84.70" y="531.96" width="13.00" height="10.97" fill="#dd8898"/>
<rect x="96.90" y="531.96" width="13.00" height="10.97" fill="#eaa8a1"/>
<rect x="109.10" y="531.96" width="12.70" height="10.97" fill="#cd6589"/>
<rect x="46.70" y="542.13" width="13.20" height="10.97" fill="#4a5880"/>
<rect x="59.10" y="542.13" width="13.00" height="10.97" fill="#4f226f"/>
<rect x="71.30" y="542.13" width="12.30" height="10.97" fill="#378a8a"/>
<rect x="84.70" y="542.13" width="13.00" height="10.97" fill="#ce5f8c"/>
<rect x="96.90" y="542.13" width="13.00" height="10.97" fill="#7a2559"/>
<rect x="109.10" y="542.13" width="12.70" height="10.97" fill="#561c3c"/>
<rect x="46.70" y="552.30" width="13.20" height="10.97" fill="#47988a"/>
<rect x="59.10" y="552.30" width="13.00" height="10.97" fill="#2a8a8c"/>
<rect x="71.30" y="552.30" width="12.30" height="10.97" fill="#40968a"/>
<rect x="84.70" y="552.30" width="13.00" height="10.97" fill="#eeb6a3"/>
<rect x="96.90" y="552.30" width="13.00" height="10.97" fill="#e9a29e"/>
<rect x="109.10" y="552.30" width="12.70" height="10.97" fill="#d98597"/>
<rect x="46.70" y="562.47" width="13.20" height="10.97" fill="#62a083"/>
<rect x="59.10" y="562.47" width="13.00" height="10.97" fill="#3e7a88"/>
<rect x="71.30" y="562.47" width="12.30" height="10.97" fill="#3b7888"/>
<rect x="84.70" y="562.47" width="13.00" height="10.97" fill="#9e2a66"/>
<rect x="96.90" y="562.47" width="13.00" height="10.97" fill="#952a63"/>
<rect x="109.10" y="562.47" width="12.70" height="10.97" fill="#5e1d40"/>
<rect x="46.70" y="572.64" width="13.20" height="10.97" fill="#2a8c8a"/>
<rect x="59.10" y="572.64" width="13.00" height="10.97" fill="#4a5c80"/>
<rect x="71.30" y="572.64" width="12.30" height="10.97" fill="#3b7a88"/>
<rect x="84.70" y="572.64" width="13.00" height="10.97" fill="#a62f6f"/>
<rect x="96.90" y="572.64" width="13.00" height="10.97" fill="#862858"/>
<rect x="109.10" y="572.64" width="12.70" height="10.97" fill="#531b3b"/>
<rect x="46.70" y="582.81" width="13.20" height="10.97" fill="#3e7a88"/>
<rect x="59.10" y="582.81" width="13.00" height="10.97" fill="#4e2a70"/>
<rect x="71.30" y="582.81" width="12.30" height="10.97" fill="#467288"/>
<rect x="84.70" y="582.81" width="13.00" height="10.97" fill="#e4999c"/>
<rect x="96.90" y="582.81" width="13.00" height="10.97" fill="#c04e86"/>
<rect x="109.10" y="582.81" width="12.70" height="10.97" fill="#7c2455"/>
<rect x="46.70" y="592.98" width="13.20" height="10.97" fill="#d8d83c"/>
<rect x="59.10" y="592.98" width="13.00" height="10.97" fill="#d4d840"/>
<rect x="71.30" y="592.98" width="12.30" height="10.97" fill="#6aa882"/>
<rect x="84.70" y="592.98" width="13.00" height="10.97" fill="#ecb4a4"/>
<rect x="96.90" y="592.98" width="13.00" height="10.97" fill="#fdf4c0"/>
<rect x="109.10" y="592.98" width="12.70" height="10.97" fill="#fdf4c0"/>
<rect x="46.70" y="603.15" width="13.20" height="10.97" fill="#d4d03e"/>
<rect x="59.10" y="603.15" width="13.00" height="10.97" fill="#d8d440"/>
<rect x="71.30" y="603.15" width="12.30" height="10.97" fill="#5ea882"/>
<rect x="84.70" y="603.15" width="13.00" height="10.97" fill="#e9aaa0"/>
<rect x="96.90" y="603.15" width="13.00" height="10.97" fill="#fdf6c4"/>
<rect x="109.10" y="603.15" width="12.70" height="10.97" fill="#f8f4c0"/>
<rect x="46.70" y="613.32" width="13.20" height="10.97" fill="#78a878"/>
<rect x="59.10" y="613.32" width="13.00" height="10.97" fill="#8aae70"/>
<rect x="71.30" y="613.32" width="12.30" height="10.97" fill="#86ae78"/>
<rect x="84.70" y="613.32" width="13.00" height="10.97" fill="#d9849a"/>
<rect x="96.90" y="613.32" width="13.00" height="10.97" fill="#d9849a"/>
<rect x="109.10" y="613.32" width="12.70" height="10.97" fill="#e09aa0"/>
<rect x="46.70" y="623.49" width="13.20" height="10.97" fill="#3e6f88"/>
<rect x="59.10" y="623.49" width="13.00" height="10.97" fill="#4a5c80"/>
<rect x="71.30" y="623.49" width="12.30" height="10.97" fill="#4a9a88"/>
<rect x="84.70" y="623.49" width="13.00" height="10.97" fill="#5a1a3c"/>
<rect x="96.90" y="623.49" width="13.00" height="10.97" fill="#1a0a18"/>
<rect x="109.10" y="623.49" width="12.70" height="10.97" fill="#050410"/>
<rect x="46.70" y="633.66" width="13.20" height="10.97" fill="#7aac74"/>
<rect x="59.10" y="633.66" width="13.00" height="10.97" fill="#2a8c8c"/>
<rect x="71.30" y="633.66" width="12.30" height="10.97" fill="#3b8088"/>
<rect x="84.70" y="633.66" width="13.00" height="10.97" fill="#e4a09e"/>
<rect x="96.90" y="633.66" width="13.00" height="10.97" fill="#ebb0a2"/>
<rect x="109.10" y="633.66" width="12.70" height="10.97" fill="#d67a98"/>
<rect x="46.70" y="643.83" width="13.20" height="10.97" fill="#47607e"/>
<rect x="59.10" y="643.83" width="13.00" height="10.97" fill="#4c0a6c"/>
<rect x="71.30" y="643.83" width="12.30" height="10.97" fill="#4a5c80"/>
<rect x="84.70" y="643.83" width="13.00" height="10.97" fill="#ac3574"/>
<rect x="96.90" y="643.83" width="13.00" height="10.97" fill="#621e45"/>
<rect x="109.10" y="643.83" width="12.70" height="10.97" fill="#060410"/>
<rect x="46.70" y="654.00" width="13.20" height="10.97" fill="#2a8a8c"/>
<rect x="59.10" y="654.00" width="13.00" height="10.97" fill="#3b8088"/>
<rect x="71.30" y="654.00" width="12.30" height="10.97" fill="#4a9a88"/>
<rect x="84.70" y="654.00" width="13.00" height="10.97" fill="#b3357a"/>
<rect x="96.90" y="654.00" width="13.00" height="10.97" fill="#992a66"/>
<rect x="109.10" y="654.00" width="12.70" height="10.97" fill="#7a2558"/>
<rect x="46.70" y="664.17" width="13.20" height="10.97" fill="#a6b864"/>
<rect x="59.10" y="664.17" width="13.00" height="10.97" fill="#55a284"/>
<rect x="71.30" y="664.17" width="12.30" height="10.97" fill="#3a8288"/>
<rect x="84.70" y="664.17" width="13.00" height="10.97" fill="#d97f96"/>
<rect x="96.90" y="664.17" width="13.00" height="10.97" fill="#e9a69f"/>
<rect x="109.10" y="664.17" width="12.70" height="10.97" fill="#cf6a8e"/>
<rect x="46.70" y="674.34" width="13.20" height="10.97" fill="#92b06a"/>
<rect x="59.10" y="674.34" width="13.00" height="10.97" fill="#78a878"/>
<rect x="71.30" y="674.34" width="12.30" height="10.97" fill="#43968a"/>
<rect x="84.70" y="674.34" width="13.00" height="10.97" fill="#ecb3a2"/>
<rect x="96.90" y="674.34" width="13.00" height="10.97" fill="#f2d0b0"/>
<rect x="109.10" y="674.34" width="12.70" height="10.97" fill="#ebb4a2"/>
<rect x="46.70" y="684.51" width="13.20" height="10.97" fill="#47988a"/>
<rect x="59.10" y="684.51" width="13.00" height="10.97" fill="#47687f"/>
<rect x="71.30" y="684.51" width="12.30" height="10.97" fill="#3e7a88"/>
<rect x="84.70" y="684.51" width="13.00" height="10.97" fill="#8e2a62"/>
<rect x="96.90" y="684.51" width="13.00" height="10.97" fill="#85285c"/>
<rect x="109.10" y="684.51" width="12.70" height="10.97" fill="#4c1a35"/>
<rect x="46.70" y="694.68" width="13.20" height="10.97" fill="#3e7a88"/>
<rect x="59.10" y="694.68" width="13.00" height="10.97" fill="#4e2a70"/>
<rect x="71.30" y="694.68" width="12.30" height="10.97" fill="#467288"/>
<rect x="84.70" y="694.68" width="13.00" height="10.97" fill="#e0969c"/>
<rect x="96.90" y="694.68" width="13.00" height="10.97" fill="#c04e86"/>
<rect x="109.10" y="694.68" width="12.70" height="10.97" fill="#7a2455"/>
<rect x="46.70" y="704.85" width="13.20" height="10.97" fill="#3e7a88"/>
<rect x="59.10" y="704.85" width="13.00" height="10.97" fill="#4e3a78"/>
<rect x="71.30" y="704.85" width="12.30" height="10.97" fill="#3b8088"/>
<rect x="84.70" y="704.85" width="13.00" height="10.97" fill="#d98597"/>
<rect x="96.90" y="704.85" width="13.00" height="10.97" fill="#b83e7e"/>
<rect x="109.10" y="704.85" width="12.70" height="10.97" fill="#782455"/>
<rect x="46.70" y="715.02" width="13.20" height="10.97" fill="#5ea080"/>
<rect x="59.10" y="715.02" width="13.00" height="10.97" fill="#3e7a88"/>
<rect x="71.30" y="715.02" width="12.30" height="10.97" fill="#3b7a88"/>
<rect x="84.70" y="715.02" width="13.00" height="10.97" fill="#9a2a64"/>
<rect x="96.90" y="715.02" width="13.00" height="10.97" fill="#962a62"/>
<rect x="109.10" y="715.02" width="12.70" height="10.97" fill="#5a1c3e"/>
<rect x="46.70" y="725.19" width="13.20" height="10.97" fill="#fde725"/>
<rect x="59.10" y="725.19" width="13.00" height="10.97" fill="#e0dc3a"/>
<rect x="71.30" y="725.19" width="12.30" height="10.97" fill="#45988a"/>
<rect x="84.70" y="725.19" width="13.00" height="10.97" fill="#d47a94"/>
<rect x="96.90" y="725.19" width="13.00" height="10.97" fill="#f5dcb5"/>
<rect x="109.10" y="725.19" width="12.70" height="10.97" fill="#f0c8a8"/>
<rect x="46.70" y="735.36" width="13.20" height="10.17" fill="#6aa882"/>
<rect x="59.10" y="735.36" width="13.00" height="10.17" fill="#2a9a8c"/>
<rect x="71.30" y="735.36" width="12.30" height="10.17" fill="#20908c"/>
<rect x="84.70" y="735.36" width="13.00" height="10.17" fill="#ecb4a4"/>
<rect x="96.90" y="735.36" width="13.00" height="10.17" fill="#ecb4a4"/>
<rect x="109.10" y="735.36" width="12.70" height="10.17" fill="#e09aa0"/>
<path d="M192.11 424.30L192.11 403.30M388.19 431.30L388.19 403.30M192.11 403.30L388.19 403.30M141.69 427.70L141.69 424.30M242.52 429.90L242.52 424.30M141.69 424.30L242.52 424.30M125.60 437.70L125.60 427.70M157.79 432.30L157.79 427.70M125.60 427.70L157.79 427.70M141.37 434.30L141.37 432.30M174.21 432.80L174.21 432.30M141.37 432.30L174.21 432.30M136.11 437.70L136.11 434.30M146.62 437.70L146.62 434.30M136.11 434.30L146.62 434.30M162.38 435.70L162.38 432.80M186.03 434.50L186.03 432.80M162.38 432.80L186.03 432.80M157.13 437.70L157.13 435.70M167.64 437.70L167.64 435.70M157.13 435.70L167.64 435.70M178.15 437.70L178.15 434.50M193.91 436.00L193.91 434.50M178.15 434.50L193.91 434.50M188.66 437.70L188.66 436.00M199.17 437.70L199.17 436.00M188.66 436.00L199.17 436.00M225.44 432.50L225.44 429.90M259.60 434.80L259.60 429.90M225.44 429.90L259.60 429.90M214.94 434.60L214.94 432.50M235.95 435.10L235.95 432.50M214.94 432.50L235.95 432.50M209.68 437.70L209.68 434.60M220.19 437.70L220.19 434.60M209.68 434.60L220.19 434.60M230.70 437.70L230.70 435.10M241.21 437.70L241.21 435.10M230.70 435.10L241.21 435.10M251.72 437.70L251.72 434.80M267.49 435.40L267.49 434.80M251.72 434.80L267.49 434.80M262.23 437.70L262.23 435.40M272.74 437.70L272.74 435.40M262.23 435.40L272.74 435.40M356.49 432.70L356.49 431.30M419.88 437.70L419.88 431.30M356.49 431.30L419.88 431.30M316.75 433.50L316.75 432.70M396.23 434.50L396.23 432.70M316.75 432.70L396.23 432.70M291.13 435.30L291.13 433.50M342.37 434.30L342.37 433.50M291.13 433.50L342.37 433.50M283.25 437.70L283.25 435.30M299.01 436.00L299.01 435.30M283.25 435.30L299.01 435.30M293.76 437.70L293.76 436.00M304.27 437.70L304.27 436.00M293.76 436.00L304.27 436.00M322.66 435.00L322.66 434.30M362.08 435.30L362.08 434.30M322.66 434.30L362.08 434.30M314.78 437.70L314.78 435.00M330.54 436.00L330.54 435.00M314.78 435.00L330.54 435.00M325.29 437.70L325.29 436.00M335.80 437.70L335.80 436.00M325.29 436.00L335.80 436.00M351.56 436.20L351.56 435.30M372.59 436.00L372.59 435.30M351.56 435.30L372.59 435.30M346.31 437.70L346.31 436.20M356.82 437.70L356.82 436.20M346.31 436.20L356.82 436.20M367.33 437.70L367.33 436.00M377.84 437.70L377.84 436.00M367.33 436.00L377.84 436.00M388.35 437.70L388.35 434.50M404.12 436.00L404.12 434.50M388.35 434.50L404.12 434.50M398.86 437.70L398.86 436.00M409.37 437.70L409.37 436.00M398.86 436.00L409.37 436.00" stroke="#000" stroke-width="1.3" fill="none" stroke-linecap="square"/>
<path d="M30.00 520.04L9.00 520.04M37.00 709.78L9.00 709.78M9.00 520.04L9.00 709.78M33.40 471.26L30.00 471.26M35.60 568.83L30.00 568.83M30.00 471.26L30.00 568.83M43.40 455.69L33.40 455.69M38.00 486.83L33.40 486.83M33.40 455.69L33.40 486.83M40.00 470.94L38.00 470.94M38.50 502.72L38.00 502.72M38.00 470.94L38.00 502.72M43.40 465.86L40.00 465.86M43.40 476.03L40.00 476.03M40.00 465.86L40.00 476.03M41.40 491.28L38.50 491.28M40.20 514.16L38.50 514.16M38.50 491.28L38.50 514.16M43.40 486.20L41.40 486.20M43.40 496.37L41.40 496.37M41.40 486.20L41.40 496.37M43.40 506.54L40.20 506.54M41.70 521.79L40.20 521.79M40.20 506.54L40.20 521.79M43.40 516.71L41.70 516.71M43.40 526.88L41.70 526.88M41.70 516.71L41.70 526.88M38.20 552.30L35.60 552.30M40.50 585.35L35.60 585.35M35.60 552.30L35.60 585.35M40.30 542.13L38.20 542.13M40.80 562.47L38.20 562.47M38.20 542.13L38.20 562.47M43.40 537.05L40.30 537.05M43.40 547.22L40.30 547.22M40.30 537.05L40.30 547.22M43.40 557.38L40.80 557.38M43.40 567.56L40.80 567.56M40.80 557.38L40.80 567.56M43.40 577.73L40.50 577.73M41.10 592.98L40.50 592.98M40.50 577.73L40.50 592.98M43.40 587.89L41.10 587.89M43.40 598.07L41.10 598.07M41.10 587.89L41.10 598.07M38.40 679.11L37.00 679.11M43.40 740.44L37.00 740.44M37.00 679.11L37.00 740.44M39.20 640.65L38.40 640.65M40.20 717.56L38.40 717.56M38.40 640.65L38.40 717.56M41.00 615.86L39.20 615.86M40.00 665.44L39.20 665.44M39.20 615.86L39.20 665.44M43.40 608.24L41.00 608.24M41.70 623.49L41.00 623.49M41.00 608.24L41.00 623.49M43.40 618.40L41.70 618.40M43.40 628.58L41.70 628.58M41.70 618.40L41.70 628.58M40.70 646.37L40.00 646.37M41.00 684.51L40.00 684.51M40.00 646.37L40.00 684.51M43.40 638.75L40.70 638.75M41.70 654.00L40.70 654.00M40.70 638.75L40.70 654.00M43.40 648.91L41.70 648.91M43.40 659.09L41.70 659.09M41.70 648.91L41.70 659.09M41.90 674.34L41.00 674.34M41.70 694.68L41.00 694.68M41.00 674.34L41.00 694.68M43.40 669.25L41.90 669.25M43.40 679.42L41.90 679.42M41.90 669.25L41.90 679.42M43.40 689.60L41.70 689.60M43.40 699.76L41.70 699.76M41.70 689.60L41.70 699.76M43.40 709.93L40.20 709.93M41.70 725.19L40.20 725.19M40.20 709.93L40.20 725.19M43.40 720.11L41.70 720.11M43.40 730.28L41.70 730.28M41.70 720.11L41.70 730.28" stroke="#000" stroke-width="1.3" fill="none" stroke-linecap="square"/>
<rect x="438.50" y="437.50" width="18.40" height="18.20" fill="#d13a20"/>
<rect x="438.50" y="457.80" width="18.40" height="17.90" fill="#31a8b8"/>
<rect x="438.50" y="478.10" width="18.40" height="17.90" fill="#f3bb3f"/>
<text x="462.4" y="452.6" font-size="20.2">female:18wk</text>
<text x="462.4" y="472.7" font-size="20.2">male:18wk</text>
<text x="462.4" y="492.7" font-size="20.2">mother</text>
<text x="437.8" y="531.7" font-size="26" font-weight="bold">r</text>
<defs><linearGradient id="grdbu" x1="0" y1="0" x2="0" y2="1"><stop offset="0.000" stop-color="#053061"/><stop offset="0.025" stop-color="#053061"/><stop offset="0.050" stop-color="#0a3b70"/><stop offset="0.075" stop-color="#134c87"/><stop offset="0.100" stop-color="#1c5c9f"/><stop offset="0.125" stop-color="#276eb0"/><stop offset="0.150" stop-color="#327cb7"/><stop offset="0.175" stop-color="#3c8abe"/><stop offset="0.200" stop-color="#4f9bc7"/><stop offset="0.225" stop-color="#68abd0"/><stop offset="0.250" stop-color="#81bad8"/><stop offset="0.275" stop-color="#9bc9e0"/><stop offset="0.300" stop-color="#aed3e6"/><stop offset="0.325" stop-color="#c2ddec"/><stop offset="0.350" stop-color="#d5e7f1"/><stop offset="0.375" stop-color="#e1edf3"/><stop offset="0.400" stop-color="#edf2f5"/><stop offset="0.425" stop-color="#f8f4f2"/><stop offset="0.450" stop-color="#f9ebe3"/><stop offset="0.475" stop-color="#fbe3d4"/><stop offset="0.500" stop-color="#fcd7c2"/><stop offset="0.525" stop-color="#f9c6ac"/><stop offset="0.550" stop-color="#f7b596"/><stop offset="0.575" stop-color="#f2a17f"/><stop offset="0.600" stop-color="#e98b6e"/><stop offset="0.625" stop-color="#df765e"/><stop offset="0.650" stop-color="#d55d4c"/><stop offset="0.675" stop-color="#c94741"/><stop offset="0.700" stop-color="#be3036"/><stop offset="0.725" stop-color="#b1182b"/><stop offset="0.750" stop-color="#991027"/><stop offset="0.775" stop-color="#7f0823"/><stop offset="0.800" stop-color="#67001f"/><stop offset="0.825" stop-color="#67001f"/><stop offset="0.850" stop-color="#67001f"/><stop offset="0.875" stop-color="#67001f"/><stop offset="0.900" stop-color="#67001f"/><stop offset="0.925" stop-color="#67001f"/><stop offset="0.950" stop-color="#67001f"/><stop offset="0.975" stop-color="#67001f"/><stop offset="1.000" stop-color="#67001f"/></linearGradient></defs>
<rect x="436.40" y="540.60" width="14.50" height="152.70" fill="url(#grdbu)"/>
<line x1="436.40" y1="545.90" x2="441.00" y2="545.90" stroke="#fff" stroke-width="1.2"/>
<line x1="446.50" y1="545.90" x2="450.90" y2="545.90" stroke="#fff" stroke-width="1.2"/>
<line x1="436.40" y1="581.40" x2="441.00" y2="581.40" stroke="#fff" stroke-width="1.2"/>
<line x1="446.50" y1="581.40" x2="450.90" y2="581.40" stroke="#fff" stroke-width="1.2"/>
<line x1="436.40" y1="616.90" x2="441.00" y2="616.90" stroke="#fff" stroke-width="1.2"/>
<line x1="446.50" y1="616.90" x2="450.90" y2="616.90" stroke="#fff" stroke-width="1.2"/>
<line x1="436.40" y1="652.30" x2="441.00" y2="652.30" stroke="#fff" stroke-width="1.2"/>
<line x1="446.50" y1="652.30" x2="450.90" y2="652.30" stroke="#fff" stroke-width="1.2"/>
<line x1="436.40" y1="687.70" x2="441.00" y2="687.70" stroke="#fff" stroke-width="1.2"/>
<line x1="446.50" y1="687.70" x2="450.90" y2="687.70" stroke="#fff" stroke-width="1.2"/>
<text x="459.0" y="552.0" font-size="20.5">1</text>
<text x="457.5" y="622.8" font-size="20.8">0.98</text>
<text x="457.5" y="693.5" font-size="20.8">0.96</text>
<line x1="52.90" y1="746.00" x2="38.40" y2="756.00" stroke="#000" stroke-width="2.0"/>
<line x1="65.20" y1="746.00" x2="54.30" y2="756.00" stroke="#000" stroke-width="2.0"/>
<line x1="77.45" y1="746.00" x2="73.50" y2="756.00" stroke="#000" stroke-width="2.0"/>
<line x1="90.80" y1="746.00" x2="92.70" y2="756.00" stroke="#000" stroke-width="2.0"/>
<line x1="103.00" y1="746.00" x2="111.90" y2="756.00" stroke="#000" stroke-width="2.0"/>
<line x1="115.45" y1="746.00" x2="127.20" y2="756.00" stroke="#000" stroke-width="2.0"/>
<text transform="translate(37.6 759.8) rotate(-90)" x="0" y="0" font-size="20" text-anchor="end">birth:18wk</text>
<text transform="translate(56.4 759.8) rotate(-90)" x="0" y="0" font-size="20" text-anchor="end">birth:1yr</text>
<text transform="translate(78.7 759.8) rotate(-90)" x="0" y="0" font-size="20" text-anchor="end">wk18:1yr</text>
<text transform="translate(105.2 759.8) rotate(-90)" x="0" y="0" font-size="20" text-anchor="end">birth</text>
<text transform="translate(124.2 759.8) rotate(-90)" x="0" y="0" font-size="20" text-anchor="end">18wk</text>
<text transform="translate(144.0 759.8) rotate(-90)" x="0" y="0" font-size="20" text-anchor="end">1yr</text>
<defs><linearGradient id="gvir2" x1="0" y1="0" x2="1" y2="0"><stop offset="0.000" stop-color="#440154"/><stop offset="0.090" stop-color="#46085a"/><stop offset="0.213" stop-color="#4a2a62"/><stop offset="0.306" stop-color="#49496f"/><stop offset="0.401" stop-color="#3d717f"/><stop offset="0.484" stop-color="#21908c"/><stop offset="0.549" stop-color="#45998a"/><stop offset="0.589" stop-color="#64a183"/><stop offset="0.657" stop-color="#8db077"/><stop offset="0.738" stop-color="#b6c163"/><stop offset="0.780" stop-color="#cacb55"/><stop offset="0.846" stop-color="#dbd640"/><stop offset="0.900" stop-color="#f3e22d"/><stop offset="0.938" stop-color="#fde725"/><stop offset="1.000" stop-color="#fde725"/></linearGradient><linearGradient id="gmag" x1="0" y1="0" x2="1" y2="0"><stop offset="0.000" stop-color="#120a12"/><stop offset="0.036" stop-color="#140b14"/><stop offset="0.090" stop-color="#1f0f1c"/><stop offset="0.144" stop-color="#33172a"/><stop offset="0.198" stop-color="#471c38"/><stop offset="0.252" stop-color="#5a2244"/><stop offset="0.306" stop-color="#6c2550"/><stop offset="0.347" stop-color="#7a2858"/><stop offset="0.387" stop-color="#8a2c60"/><stop offset="0.441" stop-color="#a0306c"/><stop offset="0.474" stop-color="#b5367a"/><stop offset="0.522" stop-color="#c45484"/><stop offset="0.576" stop-color="#cf6a8b"/><stop offset="0.630" stop-color="#d67d92"/><stop offset="0.684" stop-color="#de9a9e"/><stop offset="0.738" stop-color="#e6b0a2"/><stop offset="0.792" stop-color="#edc6a8"/><stop offset="0.846" stop-color="#f2dcb0"/><stop offset="0.900" stop-color="#f8f0ba"/><stop offset="0.954" stop-color="#fcf8c0"/><stop offset="1.000" stop-color="#fcfac2"/></linearGradient></defs>
<rect x="178.30" y="777.10" width="185.20" height="13.60" fill="url(#gvir2)"/>
<rect x="178.30" y="825.50" width="185.20" height="14.30" fill="url(#gmag)"/>
<line x1="181.60" y1="777.10" x2="181.60" y2="780.60" stroke="#fff" stroke-width="1.3"/>
<line x1="181.60" y1="787.20" x2="181.60" y2="790.70" stroke="#fff" stroke-width="1.3"/>
<line x1="217.80" y1="777.10" x2="217.80" y2="780.60" stroke="#fff" stroke-width="1.3"/>
<line x1="217.80" y1="787.20" x2="217.80" y2="790.70" stroke="#fff" stroke-width="1.3"/>
<line x1="252.60" y1="777.10" x2="252.60" y2="780.60" stroke="#fff" stroke-width="1.3"/>
<line x1="252.60" y1="787.20" x2="252.60" y2="790.70" stroke="#fff" stroke-width="1.3"/>
<line x1="287.40" y1="777.10" x2="287.40" y2="780.60" stroke="#fff" stroke-width="1.3"/>
<line x1="287.40" y1="787.20" x2="287.40" y2="790.70" stroke="#fff" stroke-width="1.3"/>
<line x1="322.80" y1="777.10" x2="322.80" y2="780.60" stroke="#fff" stroke-width="1.3"/>
<line x1="322.80" y1="787.20" x2="322.80" y2="790.70" stroke="#fff" stroke-width="1.3"/>
<line x1="357.60" y1="777.10" x2="357.60" y2="780.60" stroke="#fff" stroke-width="1.3"/>
<line x1="357.60" y1="787.20" x2="357.60" y2="790.70" stroke="#fff" stroke-width="1.3"/>
<line x1="185.30" y1="825.50" x2="185.30" y2="829.20" stroke="#fff" stroke-width="1.3"/>
<line x1="185.30" y1="836.10" x2="185.30" y2="839.80" stroke="#fff" stroke-width="1.3"/>
<line x1="242.50" y1="825.50" x2="242.50" y2="829.20" stroke="#fff" stroke-width="1.3"/>
<line x1="242.50" y1="836.10" x2="242.50" y2="839.80" stroke="#fff" stroke-width="1.3"/>
<line x1="299.30" y1="825.50" x2="299.30" y2="829.20" stroke="#fff" stroke-width="1.3"/>
<line x1="299.30" y1="836.10" x2="299.30" y2="839.80" stroke="#fff" stroke-width="1.3"/>
<line x1="357.10" y1="825.50" x2="357.10" y2="829.20" stroke="#fff" stroke-width="1.3"/>
<line x1="357.10" y1="836.10" x2="357.10" y2="839.80" stroke="#fff" stroke-width="1.3"/>
<text x="169.5" y="772.9" font-size="20">-3</text>
<text x="270.9" y="772.9" font-size="20" text-anchor="middle">ΔHAZ</text>
<text x="351.0" y="772.9" font-size="20">2</text>
<text x="169.5" y="820.6" font-size="20">-4</text>
<text x="270.9" y="820.6" font-size="20" text-anchor="middle">HAZ</text>
<text x="351.0" y="820.6" font-size="20">2</text></svg></body></html>
